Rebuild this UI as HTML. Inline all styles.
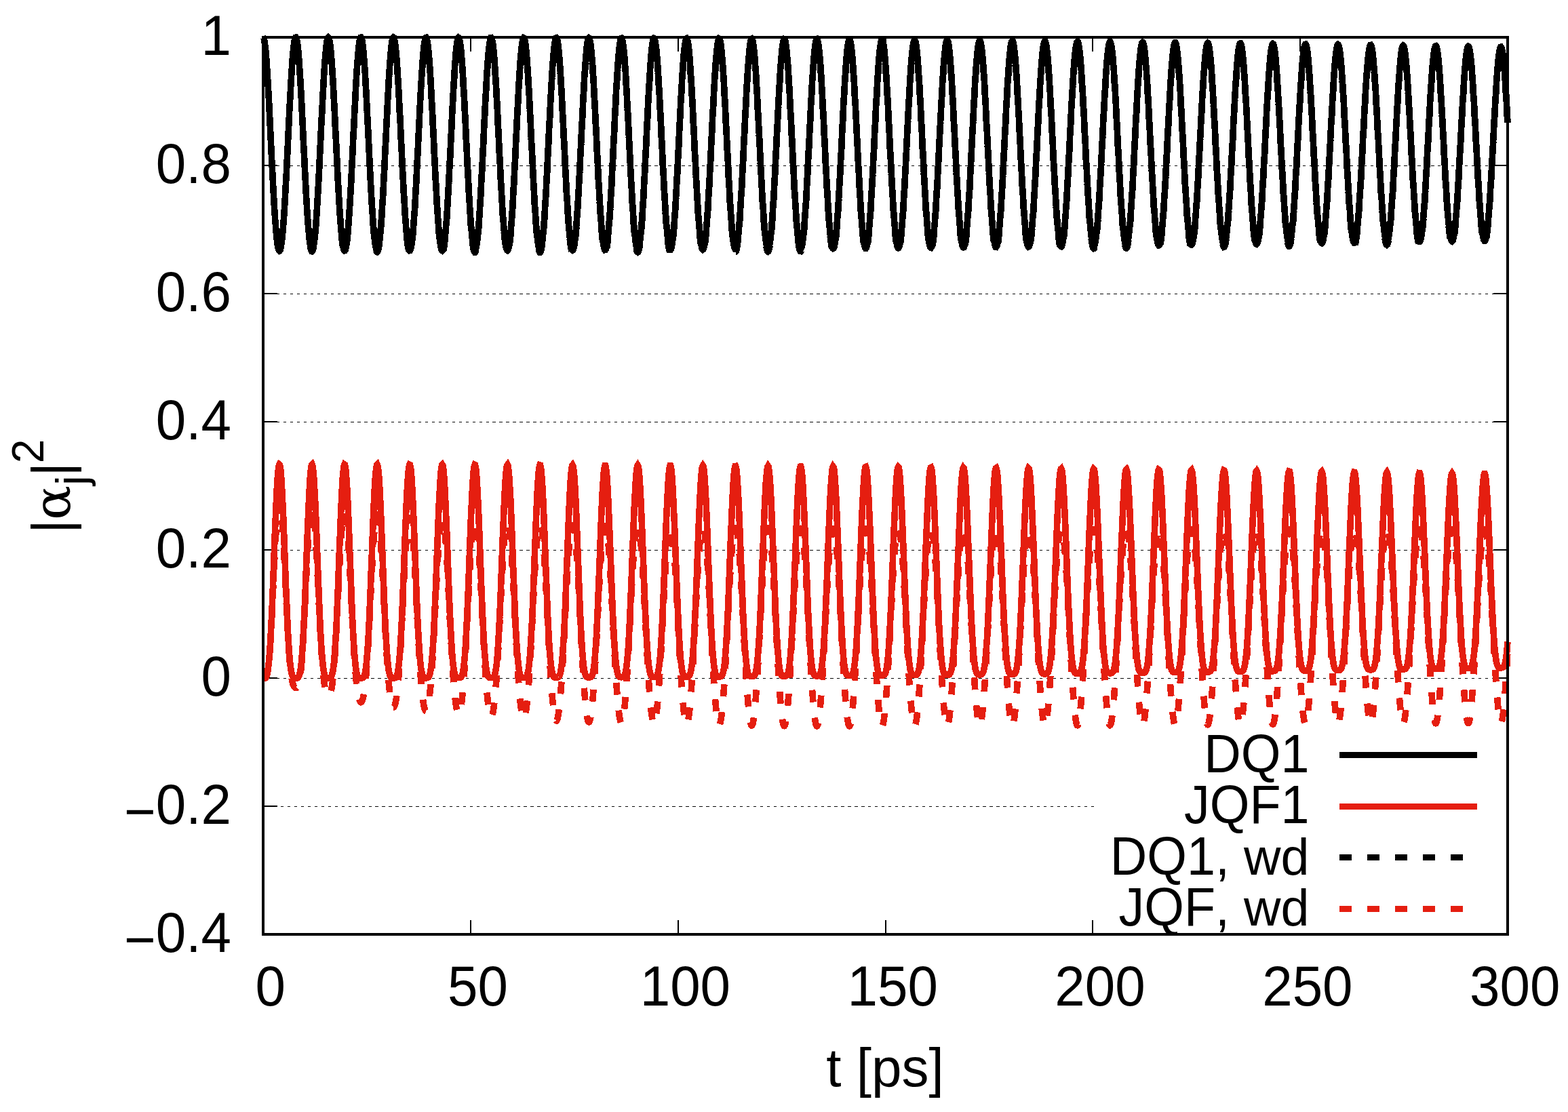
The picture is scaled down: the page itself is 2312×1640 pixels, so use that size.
<!DOCTYPE html>
<html lang="en"><head><meta charset="utf-8"><title>Population dynamics</title>
<style>
html,body{margin:0;padding:0;background:#fff;}
body{width:2312px;height:1640px;overflow:hidden;}
svg{display:block;}
text{font-family:"Liberation Sans",sans-serif;fill:#000;font-kerning:none;}
</style></head><body>
<svg width="2312" height="1640" viewBox="0 0 2312 1640">
<rect x="0" y="0" width="2312" height="1640" fill="#fff"/>
<defs><clipPath id="plot"><rect x="383.2" y="47" width="1844.6" height="1331"/></clipPath></defs>
<g stroke="#000" stroke-width="1" stroke-dasharray="4.3 5.655" shape-rendering="crispEdges">
<line x1="388" y1="244.5" x2="2223" y2="244.5"/>
<line x1="388" y1="433.5" x2="2223" y2="433.5"/>
<line x1="388" y1="622.5" x2="2223" y2="622.5"/>
<line x1="388" y1="811.5" x2="2223" y2="811.5"/>
<line x1="388" y1="1000.5" x2="2223" y2="1000.5"/>
<line x1="1613" y1="1189.5" x2="388" y2="1189.5"/>
</g>
<g stroke="#000" stroke-width="2" shape-rendering="crispEdges">
<line x1="388" y1="55" x2="409" y2="55"/>
<line x1="2202" y1="55" x2="2223" y2="55"/>
<line x1="388" y1="244" x2="409" y2="244"/>
<line x1="2202" y1="244" x2="2223" y2="244"/>
<line x1="388" y1="433" x2="409" y2="433"/>
<line x1="2202" y1="433" x2="2223" y2="433"/>
<line x1="388" y1="622" x2="409" y2="622"/>
<line x1="2202" y1="622" x2="2223" y2="622"/>
<line x1="388" y1="811" x2="409" y2="811"/>
<line x1="2202" y1="811" x2="2223" y2="811"/>
<line x1="388" y1="1000" x2="409" y2="1000"/>
<line x1="2202" y1="1000" x2="2223" y2="1000"/>
<line x1="388" y1="1189" x2="409" y2="1189"/>
<line x1="388" y1="1378" x2="409" y2="1378"/>
<line x1="2202" y1="1378" x2="2223" y2="1378"/>
<line x1="388" y1="1378" x2="388" y2="1357"/>
<line x1="388" y1="55" x2="388" y2="76"/>
<line x1="694" y1="1378" x2="694" y2="1357"/>
<line x1="694" y1="55" x2="694" y2="76"/>
<line x1="1000" y1="1378" x2="1000" y2="1357"/>
<line x1="1000" y1="55" x2="1000" y2="76"/>
<line x1="1306" y1="1378" x2="1306" y2="1357"/>
<line x1="1306" y1="55" x2="1306" y2="76"/>
<line x1="1611" y1="1378" x2="1611" y2="1357"/>
<line x1="1611" y1="55" x2="1611" y2="76"/>
<line x1="1917" y1="55" x2="1917" y2="76"/>
<line x1="2223" y1="1378" x2="2223" y2="1357"/>
<line x1="2223" y1="55" x2="2223" y2="76"/>
</g>
<g fill="none" stroke-width="9.6" stroke-linejoin="miter" stroke-miterlimit="10" stroke-linecap="butt" shape-rendering="crispEdges" clip-path="url(#plot)">
<polyline stroke="#000" points="388.0,55.0 388.6,55.6 389.2,57.2 389.8,60.0 390.4,63.8 391.1,68.6 391.7,74.5 392.3,81.3 392.9,89.0 393.5,97.6 394.1,106.9 394.7,116.9 395.3,127.5 396.0,138.7 396.6,150.4 397.2,162.4 397.8,174.7 398.4,187.2 399.0,199.8 399.6,212.5 400.2,225.1 400.8,237.6 401.5,249.9 402.1,261.8 402.7,273.5 403.3,284.7 403.9,295.4 404.5,305.6 405.1,315.2 405.7,324.1 406.4,332.3 407.0,339.8 407.6,346.6 408.2,352.5 408.8,357.6 409.4,361.8 410.0,365.2 410.6,367.7 411.2,369.3 411.9,370.0 412.5,369.7 413.1,368.6 413.7,366.6 414.3,363.7 414.9,359.9 415.5,355.2 416.1,349.7 416.7,343.4 417.4,336.3 418.0,328.5 418.6,319.9 419.2,310.6 419.8,300.8 420.4,290.3 421.0,279.4 421.6,267.9 422.3,256.1 422.9,244.0 423.5,231.6 424.1,219.1 424.7,206.4 425.3,193.8 425.9,181.2 426.5,168.8 427.1,156.6 427.8,144.7 428.4,133.3 429.0,122.4 429.6,112.0 430.2,102.3 430.8,93.4 431.4,85.2 432.0,77.9 432.7,71.6 433.3,66.2 433.9,61.8 434.5,58.5 435.1,56.3 435.7,55.2 436.3,55.1 436.9,56.2 437.5,58.4 438.2,61.7 438.8,66.0 439.4,71.3 440.0,77.7 440.6,84.9 441.2,93.0 441.8,102.0 442.4,111.6 443.1,121.9 443.7,132.9 444.3,144.3 444.9,156.1 445.5,168.3 446.1,180.7 446.7,193.3 447.3,205.9 447.9,218.6 448.6,231.1 449.2,243.5 449.8,255.6 450.4,267.5 451.0,278.9 451.6,289.9 452.2,300.4 452.8,310.2 453.4,319.5 454.1,328.1 454.7,336.0 455.3,343.1 455.9,349.5 456.5,355.0 457.1,359.7 457.7,363.5 458.3,366.5 459.0,368.5 459.6,369.7 460.2,369.9 460.8,369.3 461.4,367.7 462.0,365.3 462.6,361.9 463.2,357.7 463.8,352.7 464.5,346.8 465.1,340.1 465.7,332.6 466.3,324.4 466.9,315.5 467.5,306.0 468.1,295.8 468.7,285.1 469.4,273.9 470.0,262.3 470.6,250.3 471.2,238.1 471.8,225.6 472.4,213.0 473.0,200.3 473.6,187.7 474.2,175.2 474.9,162.9 475.5,150.9 476.1,139.2 476.7,128.0 477.3,117.3 477.9,107.3 478.5,98.0 479.1,89.4 479.8,81.6 480.4,74.8 481.0,68.9 481.6,64.0 482.2,60.1 482.8,57.3 483.4,55.6 484.0,55.0 484.6,55.6 485.3,57.2 485.9,59.9 486.5,63.7 487.1,68.5 487.7,74.3 488.3,81.1 488.9,88.7 489.5,97.2 490.1,106.5 490.8,116.5 491.4,127.1 492.0,138.3 492.6,149.9 493.2,161.9 493.8,174.2 494.4,186.7 495.0,199.3 495.7,212.0 496.3,224.6 496.9,237.1 497.5,249.4 498.1,261.4 498.7,273.0 499.3,284.2 499.9,295.0 500.5,305.2 501.2,314.8 501.8,323.7 502.4,332.0 503.0,339.5 503.6,346.2 504.2,352.2 504.8,357.3 505.4,361.6 506.1,365.0 506.7,367.5 507.3,369.2 507.9,369.9 508.5,369.7 509.1,368.6 509.7,366.6 510.3,363.7 510.9,360.0 511.6,355.4 512.2,349.9 512.8,343.6 513.4,336.6 514.0,328.7 514.6,320.2 515.2,311.0 515.8,301.1 516.5,290.7 517.1,279.8 517.7,268.4 518.3,256.6 518.9,244.5 519.5,232.1 520.1,219.6 520.7,206.9 521.3,194.3 522.0,181.7 522.6,169.3 523.2,157.1 523.8,145.2 524.4,133.8 525.0,122.8 525.6,112.5 526.2,102.8 526.8,93.8 527.5,85.6 528.1,78.3 528.7,71.9 529.3,66.5 529.9,62.1 530.5,58.7 531.1,56.4 531.7,55.3 532.4,55.2 533.0,56.2 533.6,58.4 534.2,61.6 534.8,65.9 535.4,71.2 536.0,77.5 536.6,84.7 537.2,92.8 537.9,101.6 538.5,111.3 539.1,121.6 539.7,132.4 540.3,143.8 540.9,155.6 541.5,167.8 542.1,180.2 542.8,192.8 543.4,205.4 544.0,218.0 544.6,230.6 545.2,243.0 545.8,255.1 546.4,267.0 547.0,278.4 547.6,289.4 548.3,299.9 548.9,309.8 549.5,319.1 550.1,327.7 550.7,335.6 551.3,342.8 551.9,349.1 552.5,354.7 553.1,359.4 553.8,363.3 554.4,366.3 555.0,368.4 555.6,369.6 556.2,369.8 556.8,369.2 557.4,367.7 558.0,365.3 558.7,362.0 559.3,357.8 559.9,352.8 560.5,346.9 561.1,340.3 561.7,332.8 562.3,324.7 562.9,315.8 563.5,306.3 564.2,296.2 564.8,285.5 565.4,274.3 566.0,262.7 566.6,250.8 567.2,238.5 567.8,226.1 568.4,213.5 569.1,200.9 569.7,188.2 570.3,175.7 570.9,163.4 571.5,151.4 572.1,139.7 572.7,128.5 573.3,117.8 573.9,107.8 574.6,98.4 575.2,89.8 575.8,82.0 576.4,75.2 577.0,69.2 577.6,64.3 578.2,60.4 578.8,57.6 579.5,55.8 580.1,55.2 580.7,55.6 581.3,57.2 581.9,59.9 582.5,63.6 583.1,68.4 583.7,74.1 584.3,80.9 585.0,88.5 585.6,97.0 586.2,106.2 586.8,116.2 587.4,126.8 588.0,137.9 588.6,149.5 589.2,161.5 589.9,173.7 590.5,186.2 591.1,198.8 591.7,211.5 592.3,224.1 592.9,236.6 593.5,248.8 594.1,260.8 594.7,272.5 595.4,283.7 596.0,294.5 596.6,304.7 597.2,314.3 597.8,323.2 598.4,331.5 599.0,339.1 599.6,345.9 600.2,351.8 600.9,357.0 601.5,361.3 602.1,364.7 602.7,367.3 603.3,369.0 603.9,369.7 604.5,369.6 605.1,368.5 605.8,366.6 606.4,363.7 607.0,360.0 607.6,355.4 608.2,350.0 608.8,343.8 609.4,336.7 610.0,328.9 610.6,320.4 611.3,311.3 611.9,301.4 612.5,291.1 613.1,280.1 613.7,268.8 614.3,257.0 614.9,244.9 615.5,232.6 616.2,220.1 616.8,207.4 617.4,194.8 618.0,182.2 618.6,169.8 619.2,157.6 619.8,145.8 620.4,134.3 621.0,123.3 621.7,113.0 622.3,103.2 622.9,94.2 623.5,86.0 624.1,78.7 624.7,72.3 625.3,66.8 625.9,62.4 626.5,59.0 627.2,56.7 627.8,55.5 628.4,55.3 629.0,56.3 629.6,58.4 630.2,61.6 630.8,65.9 631.4,71.1 632.1,77.3 632.7,84.5 633.3,92.5 633.9,101.4 634.5,111.0 635.1,121.2 635.7,132.1 636.3,143.4 636.9,155.2 637.6,167.3 638.2,179.7 638.8,192.3 639.4,204.9 640.0,217.5 640.6,230.1 641.2,242.5 641.8,254.6 642.5,266.4 643.1,277.9 643.7,288.9 644.3,299.4 644.9,309.3 645.5,318.6 646.1,327.2 646.7,335.2 647.3,342.3 648.0,348.7 648.6,354.3 649.2,359.1 649.8,363.0 650.4,366.0 651.0,368.1 651.6,369.3 652.2,369.7 652.9,369.1 653.5,367.6 654.1,365.2 654.7,361.9 655.3,357.8 655.9,352.8 656.5,347.0 657.1,340.4 657.7,333.0 658.4,324.9 659.0,316.0 659.6,306.5 660.2,296.5 660.8,285.8 661.4,274.7 662.0,263.1 662.6,251.2 663.2,239.0 663.9,226.6 664.5,214.0 665.1,201.4 665.7,188.8 666.3,176.3 666.9,163.9 667.5,151.9 668.1,140.2 668.8,129.0 669.4,118.4 670.0,108.3 670.6,98.9 671.2,90.3 671.8,82.5 672.4,75.6 673.0,69.6 673.6,64.7 674.3,60.7 674.9,57.8 675.5,56.1 676.1,55.4 676.7,55.8 677.3,57.3 677.9,59.9 678.5,63.6 679.2,68.4 679.8,74.1 680.4,80.8 681.0,88.3 681.6,96.8 682.2,106.0 682.8,115.9 683.4,126.4 684.0,137.5 684.7,149.1 685.3,161.0 685.9,173.3 686.5,185.7 687.1,198.3 687.7,211.0 688.3,223.6 688.9,236.0 689.6,248.3 690.2,260.3 690.8,271.9 691.4,283.2 692.0,293.9 692.6,304.1 693.2,313.8 693.8,322.7 694.4,331.0 695.1,338.6 695.7,345.4 696.3,351.4 696.9,356.6 697.5,360.9 698.1,364.4 698.7,367.0 699.3,368.7 700.0,369.5 700.6,369.4 701.2,368.3 701.8,366.4 702.4,363.6 703.0,359.9 703.6,355.4 704.2,350.0 704.8,343.8 705.5,336.8 706.1,329.1 706.7,320.6 707.3,311.5 707.9,301.7 708.5,291.4 709.1,280.5 709.7,269.1 710.3,257.4 711.0,245.4 711.6,233.0 712.2,220.5 712.8,207.9 713.4,195.3 714.0,182.8 714.6,170.3 715.2,158.2 715.9,146.3 716.5,134.9 717.1,123.9 717.7,113.5 718.3,103.8 718.9,94.8 719.5,86.5 720.1,79.2 720.7,72.7 721.4,67.2 722.0,62.8 722.6,59.3 723.2,57.0 723.8,55.7 724.4,55.6 725.0,56.5 725.6,58.6 726.3,61.7 726.9,65.9 727.5,71.1 728.1,77.3 728.7,84.4 729.3,92.4 729.9,101.2 730.5,110.7 731.1,121.0 731.8,131.8 732.4,143.1 733.0,154.8 733.6,166.9 734.2,179.3 734.8,191.8 735.4,204.4 736.0,217.0 736.6,229.5 737.3,241.9 737.9,254.0 738.5,265.9 739.1,277.3 739.7,288.3 740.3,298.8 740.9,308.7 741.5,318.0 742.2,326.7 742.8,334.6 743.4,341.8 744.0,348.3 744.6,353.9 745.2,358.6 745.8,362.5 746.4,365.6 747.0,367.7 747.7,369.0 748.3,369.4 748.9,368.8 749.5,367.4 750.1,365.0 750.7,361.8 751.3,357.7 751.9,352.8 752.6,347.0 753.2,340.4 753.8,333.1 754.4,325.0 755.0,316.2 755.6,306.8 756.2,296.7 756.8,286.1 757.4,275.0 758.1,263.5 758.7,251.6 759.3,239.4 759.9,227.0 760.5,214.5 761.1,201.9 761.7,189.3 762.3,176.8 763.0,164.5 763.6,152.5 764.2,140.8 764.8,129.6 765.4,118.9 766.0,108.9 766.6,99.5 767.2,90.8 767.8,83.0 768.5,76.1 769.1,70.1 769.7,65.1 770.3,61.1 770.9,58.2 771.5,56.4 772.1,55.7 772.7,56.0 773.4,57.5 774.0,60.1 774.6,63.7 775.2,68.4 775.8,74.1 776.4,80.7 777.0,88.3 777.6,96.6 778.2,105.8 778.9,115.7 779.5,126.2 780.1,137.2 780.7,148.7 781.3,160.6 781.9,172.9 782.5,185.3 783.1,197.8 783.7,210.5 784.4,223.0 785.0,235.5 785.6,247.7 786.2,259.7 786.8,271.3 787.4,282.6 788.0,293.3 788.6,303.5 789.3,313.2 789.9,322.2 790.5,330.5 791.1,338.0 791.7,344.9 792.3,350.9 792.9,356.1 793.5,360.5 794.1,364.0 794.8,366.6 795.4,368.3 796.0,369.1 796.6,369.0 797.2,368.1 797.8,366.2 798.4,363.4 799.0,359.8 799.7,355.3 800.3,350.0 800.9,343.8 801.5,336.8 802.1,329.1 802.7,320.7 803.3,311.6 803.9,301.9 804.5,291.6 805.2,280.8 805.8,269.5 806.4,257.8 807.0,245.8 807.6,233.5 808.2,221.0 808.8,208.4 809.4,195.8 810.0,183.3 810.7,170.9 811.3,158.8 811.9,146.9 812.5,135.5 813.1,124.5 813.7,114.1 814.3,104.4 814.9,95.3 815.6,87.1 816.2,79.7 816.8,73.2 817.4,67.7 818.0,63.2 818.6,59.8 819.2,57.4 819.8,56.1 820.4,55.9 821.1,56.8 821.7,58.8 822.3,61.9 822.9,66.0 823.5,71.2 824.1,77.3 824.7,84.4 825.3,92.3 826.0,101.1 826.6,110.6 827.2,120.7 827.8,131.5 828.4,142.8 829.0,154.5 829.6,166.5 830.2,178.8 830.8,191.3 831.5,203.9 832.1,216.5 832.7,229.0 833.3,241.3 833.9,253.5 834.5,265.3 835.1,276.7 835.7,287.7 836.4,298.2 837.0,308.1 837.6,317.4 838.2,326.1 838.8,334.0 839.4,341.3 840.0,347.7 840.6,353.3 841.2,358.1 841.9,362.1 842.5,365.1 843.1,367.3 843.7,368.6 844.3,369.0 844.9,368.5 845.5,367.1 846.1,364.8 846.8,361.6 847.4,357.6 848.0,352.7 848.6,346.9 849.2,340.4 849.8,333.1 850.4,325.0 851.0,316.3 851.6,306.9 852.3,296.9 852.9,286.4 853.5,275.3 854.1,263.8 854.7,252.0 855.3,239.8 855.9,227.5 856.5,215.0 857.1,202.4 857.8,189.8 858.4,177.4 859.0,165.1 859.6,153.1 860.2,141.4 860.8,130.2 861.4,119.6 862.0,109.5 862.7,100.1 863.3,91.4 863.9,83.6 864.5,76.7 865.1,70.6 865.7,65.6 866.3,61.6 866.9,58.7 867.5,56.8 868.2,56.0 868.8,56.4 869.4,57.8 870.0,60.3 870.6,63.9 871.2,68.5 871.8,74.2 872.4,80.7 873.1,88.2 873.7,96.6 874.3,105.7 874.9,115.5 875.5,125.9 876.1,136.9 876.7,148.4 877.3,160.3 877.9,172.4 878.6,184.8 879.2,197.4 879.8,209.9 880.4,222.5 881.0,234.9 881.6,247.1 882.2,259.1 882.8,270.7 883.5,281.9 884.1,292.7 884.7,302.9 885.3,312.5 885.9,321.5 886.5,329.8 887.1,337.4 887.7,344.3 888.3,350.3 889.0,355.5 889.6,359.9 890.2,363.4 890.8,366.1 891.4,367.8 892.0,368.7 892.6,368.6 893.2,367.7 893.8,365.9 894.5,363.2 895.1,359.6 895.7,355.1 896.3,349.8 896.9,343.7 897.5,336.8 898.1,329.1 898.7,320.8 899.4,311.7 900.0,302.1 900.6,291.8 901.2,281.0 901.8,269.8 902.4,258.1 903.0,246.1 903.6,233.9 904.2,221.5 904.9,208.9 905.5,196.4 906.1,183.9 906.7,171.5 907.3,159.4 907.9,147.5 908.5,136.1 909.1,125.2 909.8,114.8 910.4,105.0 911.0,96.0 911.6,87.7 912.2,80.3 912.8,73.8 913.4,68.3 914.0,63.8 914.6,60.3 915.3,57.9 915.9,56.5 916.5,56.3 917.1,57.1 917.7,59.1 918.3,62.1 918.9,66.2 919.5,71.3 920.1,77.4 920.8,84.4 921.4,92.3 922.0,101.0 922.6,110.4 923.2,120.5 923.8,131.3 924.4,142.5 925.0,154.1 925.7,166.1 926.3,178.4 926.9,190.9 927.5,203.4 928.1,216.0 928.7,228.4 929.3,240.8 929.9,252.8 930.5,264.6 931.2,276.1 931.8,287.0 932.4,297.5 933.0,307.4 933.6,316.8 934.2,325.4 934.8,333.4 935.4,340.6 936.1,347.0 936.7,352.7 937.3,357.5 937.9,361.5 938.5,364.6 939.1,366.8 939.7,368.1 940.3,368.5 940.9,368.1 941.6,366.7 942.2,364.4 942.8,361.3 943.4,357.3 944.0,352.4 944.6,346.8 945.2,340.3 945.8,333.0 946.5,325.0 947.1,316.4 947.7,307.0 948.3,297.1 948.9,286.6 949.5,275.6 950.1,264.1 950.7,252.3 951.3,240.2 952.0,227.9 952.6,215.4 953.2,202.9 953.8,190.4 954.4,177.9 955.0,165.7 955.6,153.7 956.2,142.1 956.9,130.9 957.5,120.2 958.1,110.1 958.7,100.7 959.3,92.1 959.9,84.3 960.5,77.3 961.1,71.3 961.7,66.2 962.4,62.2 963.0,59.2 963.6,57.3 964.2,56.5 964.8,56.8 965.4,58.2 966.0,60.6 966.6,64.2 967.2,68.7 967.9,74.3 968.5,80.8 969.1,88.3 969.7,96.5 970.3,105.6 970.9,115.3 971.5,125.7 972.1,136.7 972.8,148.1 973.4,159.9 974.0,172.1 974.6,184.4 975.2,196.9 975.8,209.4 976.4,221.9 977.0,234.3 977.6,246.5 978.3,258.5 978.9,270.1 979.5,281.3 980.1,292.0 980.7,302.2 981.3,311.8 981.9,320.8 982.5,329.1 983.2,336.7 983.8,343.6 984.4,349.6 985.0,354.9 985.6,359.3 986.2,362.8 986.8,365.5 987.4,367.3 988.0,368.2 988.7,368.2 989.3,367.3 989.9,365.5 990.5,362.8 991.1,359.2 991.7,354.8 992.3,349.6 992.9,343.5 993.5,336.7 994.2,329.1 994.8,320.8 995.4,311.8 996.0,302.1 996.6,291.9 997.2,281.2 997.8,270.0 998.4,258.4 999.1,246.5 999.7,234.3 1000.3,221.9 1000.9,209.4 1001.5,196.9 1002.1,184.4 1002.7,172.1 1003.3,160.0 1003.9,148.2 1004.6,136.8 1005.2,125.8 1005.8,115.5 1006.4,105.7 1007.0,96.7 1007.6,88.4 1008.2,81.0 1008.8,74.5 1009.5,68.9 1010.1,64.4 1010.7,60.9 1011.3,58.4 1011.9,57.0 1012.5,56.7 1013.1,57.6 1013.7,59.5 1014.3,62.4 1015.0,66.5 1015.6,71.5 1016.2,77.5 1016.8,84.5 1017.4,92.3 1018.0,101.0 1018.6,110.4 1019.2,120.4 1019.9,131.1 1020.5,142.2 1021.1,153.8 1021.7,165.8 1022.3,178.0 1022.9,190.4 1023.5,202.9 1024.1,215.4 1024.7,227.9 1025.4,240.1 1026.0,252.2 1026.6,264.0 1027.2,275.4 1027.8,286.3 1028.4,296.8 1029.0,306.7 1029.6,316.0 1030.2,324.7 1030.9,332.7 1031.5,339.9 1032.1,346.3 1032.7,352.0 1033.3,356.8 1033.9,360.8 1034.5,363.9 1035.1,366.2 1035.8,367.5 1036.4,368.0 1037.0,367.6 1037.6,366.2 1038.2,364.0 1038.8,360.9 1039.4,357.0 1040.0,352.2 1040.6,346.5 1041.3,340.1 1041.9,332.9 1042.5,325.0 1043.1,316.3 1043.7,307.0 1044.3,297.2 1044.9,286.7 1045.5,275.8 1046.2,264.4 1046.8,252.7 1047.4,240.6 1048.0,228.3 1048.6,215.9 1049.2,203.4 1049.8,190.9 1050.4,178.5 1051.0,166.3 1051.7,154.4 1052.3,142.8 1052.9,131.6 1053.5,120.9 1054.1,110.9 1054.7,101.5 1055.3,92.8 1055.9,85.0 1056.6,78.0 1057.2,72.0 1057.8,66.9 1058.4,62.8 1059.0,59.8 1059.6,57.9 1060.2,57.0 1060.8,57.3 1061.4,58.6 1062.1,61.0 1062.7,64.5 1063.3,69.0 1063.9,74.5 1064.5,81.0 1065.1,88.4 1065.7,96.6 1066.3,105.6 1067.0,115.3 1067.6,125.6 1068.2,136.5 1068.8,147.9 1069.4,159.6 1070.0,171.7 1070.6,184.0 1071.2,196.4 1071.8,208.9 1072.5,221.4 1073.1,233.7 1073.7,245.9 1074.3,257.8 1074.9,269.4 1075.5,280.6 1076.1,291.3 1076.7,301.5 1077.3,311.1 1078.0,320.1 1078.6,328.4 1079.2,336.0 1079.8,342.8 1080.4,348.9 1081.0,354.1 1081.6,358.6 1082.2,362.1 1082.9,364.8 1083.5,366.6 1084.1,367.6 1084.7,367.6 1085.3,366.7 1085.9,365.0 1086.5,362.3 1087.1,358.8 1087.7,354.5 1088.4,349.3 1089.0,343.3 1089.6,336.5 1090.2,328.9 1090.8,320.7 1091.4,311.8 1092.0,302.2 1092.6,292.0 1093.3,281.4 1093.9,270.2 1094.5,258.7 1095.1,246.8 1095.7,234.7 1096.3,222.4 1096.9,209.9 1097.5,197.4 1098.1,185.0 1098.8,172.7 1099.4,160.6 1100.0,148.9 1100.6,137.5 1101.2,126.6 1101.8,116.2 1102.4,106.5 1103.0,97.4 1103.7,89.2 1104.3,81.8 1104.9,75.2 1105.5,69.7 1106.1,65.1 1106.7,61.5 1107.3,59.0 1107.9,57.6 1108.5,57.3 1109.2,58.1 1109.8,59.9 1110.4,62.9 1111.0,66.8 1111.6,71.8 1112.2,77.8 1112.8,84.7 1113.4,92.4 1114.0,101.0 1114.7,110.3 1115.3,120.3 1115.9,130.9 1116.5,142.0 1117.1,153.6 1117.7,165.5 1118.3,177.6 1118.9,190.0 1119.6,202.4 1120.2,214.9 1120.8,227.3 1121.4,239.5 1122.0,251.6 1122.6,263.3 1123.2,274.7 1123.8,285.6 1124.4,296.0 1125.1,305.9 1125.7,315.2 1126.3,323.9 1126.9,331.9 1127.5,339.1 1128.1,345.5 1128.7,351.2 1129.3,356.1 1130.0,360.1 1130.6,363.2 1131.2,365.5 1131.8,366.9 1132.4,367.4 1133.0,367.0 1133.6,365.7 1134.2,363.5 1134.8,360.5 1135.5,356.5 1136.1,351.8 1136.7,346.2 1137.3,339.8 1137.9,332.7 1138.5,324.8 1139.1,316.3 1139.7,307.0 1140.3,297.2 1141.0,286.8 1141.6,275.9 1142.2,264.6 1142.8,252.9 1143.4,241.0 1144.0,228.7 1144.6,216.4 1145.2,203.9 1145.9,191.5 1146.5,179.1 1147.1,167.0 1147.7,155.0 1148.3,143.5 1148.9,132.3 1149.5,121.7 1150.1,111.6 1150.7,102.3 1151.4,93.6 1152.0,85.8 1152.6,78.8 1153.2,72.7 1153.8,67.6 1154.4,63.6 1155.0,60.5 1155.6,58.5 1156.3,57.6 1156.9,57.8 1157.5,59.1 1158.1,61.5 1158.7,64.9 1159.3,69.4 1159.9,74.8 1160.5,81.2 1161.1,88.5 1161.8,96.7 1162.4,105.6 1163.0,115.2 1163.6,125.5 1164.2,136.3 1164.8,147.6 1165.4,159.3 1166.0,171.4 1166.7,183.6 1167.3,196.0 1167.9,208.4 1168.5,220.8 1169.1,233.1 1169.7,245.3 1170.3,257.1 1170.9,268.7 1171.5,279.8 1172.2,290.5 1172.8,300.7 1173.4,310.3 1174.0,319.2 1174.6,327.5 1175.2,335.1 1175.8,342.0 1176.4,348.1 1177.0,353.3 1177.7,357.8 1178.3,361.3 1178.9,364.1 1179.5,365.9 1180.1,366.9 1180.7,366.9 1181.3,366.1 1181.9,364.4 1182.6,361.8 1183.2,358.4 1183.8,354.0 1184.4,348.9 1185.0,343.0 1185.6,336.2 1186.2,328.7 1186.8,320.5 1187.4,311.7 1188.1,302.2 1188.7,292.1 1189.3,281.5 1189.9,270.4 1190.5,258.9 1191.1,247.1 1191.7,235.1 1192.3,222.8 1193.0,210.4 1193.6,198.0 1194.2,185.6 1194.8,173.3 1195.4,161.3 1196.0,149.6 1196.6,138.2 1197.2,127.3 1197.8,117.0 1198.5,107.3 1199.1,98.2 1199.7,90.0 1200.3,82.6 1200.9,76.0 1201.5,70.5 1202.1,65.9 1202.7,62.3 1203.4,59.8 1204.0,58.3 1204.6,57.9 1205.2,58.7 1205.8,60.5 1206.4,63.3 1207.0,67.3 1207.6,72.2 1208.2,78.1 1208.9,84.9 1209.5,92.6 1210.1,101.1 1210.7,110.4 1211.3,120.3 1211.9,130.8 1212.5,141.9 1213.1,153.3 1213.8,165.2 1214.4,177.3 1215.0,189.6 1215.6,201.9 1216.2,214.4 1216.8,226.7 1217.4,238.9 1218.0,250.9 1218.6,262.6 1219.3,273.9 1219.9,284.8 1220.5,295.2 1221.1,305.1 1221.7,314.4 1222.3,323.0 1222.9,331.0 1223.5,338.2 1224.1,344.7 1224.8,350.4 1225.4,355.2 1226.0,359.2 1226.6,362.4 1227.2,364.7 1227.8,366.1 1228.4,366.6 1229.0,366.3 1229.7,365.0 1230.3,362.9 1230.9,359.9 1231.5,356.0 1232.1,351.3 1232.7,345.8 1233.3,339.5 1233.9,332.4 1234.5,324.6 1235.2,316.1 1235.8,307.0 1236.4,297.2 1237.0,286.9 1237.6,276.1 1238.2,264.8 1238.8,253.2 1239.4,241.3 1240.1,229.1 1240.7,216.8 1241.3,204.4 1241.9,192.0 1242.5,179.7 1243.1,167.6 1243.7,155.7 1244.3,144.2 1244.9,133.1 1245.6,122.5 1246.2,112.5 1246.8,103.1 1247.4,94.5 1248.0,86.6 1248.6,79.6 1249.2,73.6 1249.8,68.4 1250.5,64.3 1251.1,61.3 1251.7,59.3 1252.3,58.3 1252.9,58.5 1253.5,59.7 1254.1,62.1 1254.7,65.4 1255.3,69.8 1256.0,75.2 1256.6,81.5 1257.2,88.8 1257.8,96.9 1258.4,105.7 1259.0,115.3 1259.6,125.5 1260.2,136.2 1260.8,147.5 1261.5,159.1 1262.1,171.0 1262.7,183.2 1263.3,195.5 1263.9,207.9 1264.5,220.3 1265.1,232.5 1265.7,244.6 1266.4,256.4 1267.0,267.9 1267.6,279.0 1268.2,289.7 1268.8,299.8 1269.4,309.4 1270.0,318.4 1270.6,326.7 1271.2,334.2 1271.9,341.1 1272.5,347.2 1273.1,352.4 1273.7,356.9 1274.3,360.5 1274.9,363.2 1275.5,365.1 1276.1,366.1 1276.8,366.2 1277.4,365.4 1278.0,363.7 1278.6,361.2 1279.2,357.8 1279.8,353.5 1280.4,348.5 1281.0,342.6 1281.6,335.9 1282.3,328.5 1282.9,320.3 1283.5,311.5 1284.1,302.1 1284.7,292.1 1285.3,281.6 1285.9,270.6 1286.5,259.2 1287.2,247.4 1287.8,235.4 1288.4,223.2 1289.0,210.9 1289.6,198.5 1290.2,186.2 1290.8,174.0 1291.4,162.0 1292.0,150.3 1292.7,139.0 1293.3,128.1 1293.9,117.8 1294.5,108.1 1295.1,99.1 1295.7,90.9 1296.3,83.5 1296.9,76.9 1297.5,71.3 1298.2,66.7 1298.8,63.1 1299.4,60.5 1300.0,59.1 1300.6,58.7 1301.2,59.3 1301.8,61.1 1302.4,63.9 1303.1,67.8 1303.7,72.6 1304.3,78.5 1304.9,85.2 1305.5,92.8 1306.1,101.3 1306.7,110.5 1307.3,120.3 1307.9,130.8 1308.6,141.7 1309.2,153.1 1309.8,164.9 1310.4,176.9 1311.0,189.1 1311.6,201.5 1312.2,213.8 1312.8,226.1 1313.5,238.3 1314.1,250.2 1314.7,261.8 1315.3,273.1 1315.9,284.0 1316.5,294.4 1317.1,304.3 1317.7,313.5 1318.3,322.1 1319.0,330.1 1319.6,337.3 1320.2,343.8 1320.8,349.4 1321.4,354.3 1322.0,358.3 1322.6,361.5 1323.2,363.8 1323.8,365.3 1324.5,365.8 1325.1,365.5 1325.7,364.3 1326.3,362.2 1326.9,359.3 1327.5,355.5 1328.1,350.8 1328.7,345.4 1329.4,339.1 1330.0,332.1 1330.6,324.4 1331.2,315.9 1331.8,306.8 1332.4,297.1 1333.0,286.9 1333.6,276.2 1334.2,265.0 1334.9,253.4 1335.5,241.6 1336.1,229.5 1336.7,217.3 1337.3,204.9 1337.9,192.6 1338.5,180.4 1339.1,168.3 1339.8,156.5 1340.4,145.0 1341.0,133.9 1341.6,123.3 1342.2,113.3 1342.8,104.0 1343.4,95.3 1344.0,87.5 1344.6,80.5 1345.3,74.5 1345.9,69.3 1346.5,65.2 1347.1,62.1 1347.7,60.1 1348.3,59.1 1348.9,59.2 1349.5,60.4 1350.2,62.7 1350.8,66.0 1351.4,70.3 1352.0,75.6 1352.6,81.9 1353.2,89.1 1353.8,97.1 1354.4,105.9 1355.0,115.3 1355.7,125.5 1356.3,136.1 1356.9,147.3 1357.5,158.9 1358.1,170.7 1358.7,182.8 1359.3,195.1 1359.9,207.4 1360.5,219.7 1361.2,231.9 1361.8,243.9 1362.4,255.7 1363.0,267.2 1363.6,278.2 1364.2,288.8 1364.8,299.0 1365.4,308.5 1366.1,317.4 1366.7,325.7 1367.3,333.3 1367.9,340.1 1368.5,346.2 1369.1,351.5 1369.7,355.9 1370.3,359.6 1370.9,362.3 1371.6,364.2 1372.2,365.2 1372.8,365.4 1373.4,364.6 1374.0,363.0 1374.6,360.5 1375.2,357.1 1375.8,352.9 1376.5,347.9 1377.1,342.1 1377.7,335.5 1378.3,328.1 1378.9,320.1 1379.5,311.3 1380.1,302.0 1380.7,292.1 1381.3,281.6 1382.0,270.7 1382.6,259.3 1383.2,247.7 1383.8,235.7 1384.4,223.6 1385.0,211.3 1385.6,199.0 1386.2,186.8 1386.9,174.6 1387.5,162.7 1388.1,151.1 1388.7,139.8 1389.3,129.0 1389.9,118.7 1390.5,109.0 1391.1,100.0 1391.7,91.8 1392.4,84.4 1393.0,77.9 1393.6,72.2 1394.2,67.6 1394.8,64.0 1395.4,61.4 1396.0,59.9 1396.6,59.4 1397.2,60.1 1397.9,61.8 1398.5,64.5 1399.1,68.3 1399.7,73.1 1400.3,78.9 1400.9,85.6 1401.5,93.1 1402.1,101.5 1402.8,110.6 1403.4,120.4 1404.0,130.7 1404.6,141.6 1405.2,153.0 1405.8,164.6 1406.4,176.6 1407.0,188.7 1407.6,201.0 1408.3,213.3 1408.9,225.5 1409.5,237.6 1410.1,249.5 1410.7,261.1 1411.3,272.3 1411.9,283.2 1412.5,293.5 1413.2,303.3 1413.8,312.6 1414.4,321.2 1415.0,329.1 1415.6,336.3 1416.2,342.8 1416.8,348.4 1417.4,353.3 1418.0,357.3 1418.7,360.5 1419.3,362.9 1419.9,364.4 1420.5,364.9 1421.1,364.7 1421.7,363.5 1422.3,361.5 1422.9,358.6 1423.6,354.8 1424.2,350.2 1424.8,344.8 1425.4,338.6 1426.0,331.7 1426.6,324.0 1427.2,315.7 1427.8,306.6 1428.4,297.0 1429.1,286.9 1429.7,276.2 1430.3,265.1 1430.9,253.6 1431.5,241.9 1432.1,229.9 1432.7,217.7 1433.3,205.4 1434.0,193.2 1434.6,181.0 1435.2,169.0 1435.8,157.2 1436.4,145.8 1437.0,134.7 1437.6,124.2 1438.2,114.2 1438.8,104.9 1439.5,96.3 1440.1,88.5 1440.7,81.5 1441.3,75.4 1441.9,70.3 1442.5,66.2 1443.1,63.0 1443.7,61.0 1444.3,60.0 1445.0,60.0 1445.6,61.2 1446.2,63.4 1446.8,66.6 1447.4,70.9 1448.0,76.2 1448.6,82.4 1449.2,89.4 1449.9,97.4 1450.5,106.1 1451.1,115.5 1451.7,125.5 1452.3,136.1 1452.9,147.2 1453.5,158.7 1454.1,170.5 1454.7,182.5 1455.4,194.7 1456.0,206.9 1456.6,219.1 1457.2,231.3 1457.8,243.2 1458.4,254.9 1459.0,266.4 1459.6,277.4 1460.3,288.0 1460.9,298.0 1461.5,307.5 1462.1,316.5 1462.7,324.7 1463.3,332.3 1463.9,339.1 1464.5,345.2 1465.1,350.4 1465.8,354.9 1466.4,358.5 1467.0,361.3 1467.6,363.2 1468.2,364.3 1468.8,364.4 1469.4,363.7 1470.0,362.2 1470.7,359.7 1471.3,356.4 1471.9,352.3 1472.5,347.3 1473.1,341.5 1473.7,335.0 1474.3,327.7 1474.9,319.7 1475.5,311.1 1476.2,301.8 1476.8,292.0 1477.4,281.6 1478.0,270.7 1478.6,259.5 1479.2,247.9 1479.8,236.0 1480.4,224.0 1481.0,211.8 1481.7,199.6 1482.3,187.4 1482.9,175.3 1483.5,163.4 1484.1,151.8 1484.7,140.6 1485.3,129.8 1485.9,119.6 1486.6,110.0 1487.2,101.0 1487.8,92.8 1488.4,85.4 1489.0,78.9 1489.6,73.2 1490.2,68.6 1490.8,65.0 1491.4,62.4 1492.1,60.8 1492.7,60.3 1493.3,60.9 1493.9,62.5 1494.5,65.2 1495.1,69.0 1495.7,73.7 1496.3,79.4 1497.0,86.0 1497.6,93.5 1498.2,101.8 1498.8,110.8 1499.4,120.5 1500.0,130.8 1500.6,141.6 1501.2,152.8 1501.8,164.4 1502.5,176.3 1503.1,188.4 1503.7,200.5 1504.3,212.8 1504.9,224.9 1505.5,236.9 1506.1,248.8 1506.7,260.3 1507.3,271.5 1508.0,282.3 1508.6,292.6 1509.2,302.4 1509.8,311.6 1510.4,320.1 1511.0,328.1 1511.6,335.2 1512.2,341.7 1512.9,347.4 1513.5,352.2 1514.1,356.3 1514.7,359.5 1515.3,361.9 1515.9,363.4 1516.5,364.0 1517.1,363.7 1517.7,362.6 1518.4,360.6 1519.0,357.8 1519.6,354.1 1520.2,349.5 1520.8,344.2 1521.4,338.1 1522.0,331.2 1522.6,323.6 1523.3,315.3 1523.9,306.4 1524.5,296.9 1525.1,286.8 1525.7,276.2 1526.3,265.2 1526.9,253.8 1527.5,242.1 1528.1,230.2 1528.8,218.1 1529.4,205.9 1530.0,193.7 1530.6,181.6 1531.2,169.7 1531.8,158.0 1532.4,146.6 1533.0,135.6 1533.7,125.1 1534.3,115.2 1534.9,105.9 1535.5,97.3 1536.1,89.5 1536.7,82.5 1537.3,76.5 1537.9,71.3 1538.5,67.2 1539.2,64.0 1539.8,61.9 1540.4,60.9 1541.0,60.9 1541.6,62.0 1542.2,64.2 1542.8,67.4 1543.4,71.6 1544.0,76.7 1544.7,82.9 1545.3,89.9 1545.9,97.7 1546.5,106.3 1547.1,115.6 1547.7,125.6 1548.3,136.1 1548.9,147.1 1549.6,158.5 1550.2,170.2 1550.8,182.2 1551.4,194.2 1552.0,206.4 1552.6,218.6 1553.2,230.6 1553.8,242.5 1554.4,254.2 1555.1,265.5 1555.7,276.5 1556.3,287.0 1556.9,297.1 1557.5,306.5 1558.1,315.4 1558.7,323.6 1559.3,331.2 1560.0,338.0 1560.6,344.1 1561.2,349.3 1561.8,353.8 1562.4,357.4 1563.0,360.2 1563.6,362.2 1564.2,363.2 1564.8,363.5 1565.5,362.8 1566.1,361.2 1566.7,358.9 1567.3,355.6 1567.9,351.5 1568.5,346.6 1569.1,340.9 1569.7,334.5 1570.4,327.3 1571.0,319.4 1571.6,310.8 1572.2,301.6 1572.8,291.8 1573.4,281.5 1574.0,270.8 1574.6,259.6 1575.2,248.1 1575.9,236.3 1576.5,224.3 1577.1,212.2 1577.7,200.1 1578.3,188.0 1578.9,176.0 1579.5,164.2 1580.1,152.6 1580.8,141.5 1581.4,130.8 1582.0,120.6 1582.6,111.0 1583.2,102.0 1583.8,93.8 1584.4,86.4 1585.0,79.9 1585.6,74.3 1586.3,69.7 1586.9,66.0 1587.5,63.4 1588.1,61.8 1588.7,61.3 1589.3,61.8 1589.9,63.4 1590.5,66.0 1591.1,69.7 1591.8,74.4 1592.4,80.0 1593.0,86.5 1593.6,93.9 1594.2,102.1 1594.8,111.0 1595.4,120.6 1596.0,130.8 1596.7,141.6 1597.3,152.7 1597.9,164.2 1598.5,176.0 1599.1,188.0 1599.7,200.1 1600.3,212.2 1600.9,224.3 1601.5,236.3 1602.2,248.0 1602.8,259.5 1603.4,270.6 1604.0,281.4 1604.6,291.6 1605.2,301.4 1605.8,310.5 1606.4,319.1 1607.1,326.9 1607.7,334.1 1608.3,340.6 1608.9,346.2 1609.5,351.1 1610.1,355.2 1610.7,358.4 1611.3,360.8 1611.9,362.3 1612.6,362.9 1613.2,362.7 1613.8,361.6 1614.4,359.7 1615.0,356.9 1615.6,353.3 1616.2,348.8 1616.8,343.5 1617.5,337.5 1618.1,330.7 1618.7,323.2 1619.3,314.9 1619.9,306.1 1620.5,296.7 1621.1,286.7 1621.7,276.2 1622.3,265.2 1623.0,254.0 1623.6,242.3 1624.2,230.5 1624.8,218.5 1625.4,206.4 1626.0,194.3 1626.6,182.3 1627.2,170.4 1627.8,158.8 1628.5,147.4 1629.1,136.5 1629.7,126.1 1630.3,116.2 1630.9,106.9 1631.5,98.4 1632.1,90.6 1632.7,83.6 1633.4,77.6 1634.0,72.4 1634.6,68.2 1635.2,65.1 1635.8,63.0 1636.4,61.9 1637.0,61.9 1637.6,62.9 1638.2,65.0 1638.9,68.1 1639.5,72.3 1640.1,77.4 1640.7,83.4 1641.3,90.4 1641.9,98.1 1642.5,106.6 1643.1,115.9 1643.8,125.7 1644.4,136.2 1645.0,147.1 1645.6,158.4 1646.2,170.0 1646.8,181.8 1647.4,193.8 1648.0,205.9 1648.6,218.0 1649.3,230.0 1649.9,241.8 1650.5,253.4 1651.1,264.7 1651.7,275.6 1652.3,286.1 1652.9,296.1 1653.5,305.5 1654.2,314.3 1654.8,322.5 1655.4,330.0 1656.0,336.8 1656.6,342.9 1657.2,348.2 1657.8,352.6 1658.4,356.3 1659.0,359.1 1659.7,361.0 1660.3,362.1 1660.9,362.4 1661.5,361.7 1662.1,360.3 1662.7,357.9 1663.3,354.7 1663.9,350.7 1664.5,345.9 1665.2,340.2 1665.8,333.9 1666.4,326.7 1667.0,318.9 1667.6,310.4 1668.2,301.3 1668.8,291.6 1669.4,281.4 1670.1,270.7 1670.7,259.7 1671.3,248.3 1671.9,236.6 1672.5,224.7 1673.1,212.7 1673.7,200.6 1674.3,188.6 1674.9,176.7 1675.6,164.9 1676.2,153.5 1676.8,142.4 1677.4,131.7 1678.0,121.5 1678.6,112.0 1679.2,103.1 1679.8,94.9 1680.5,87.6 1681.1,81.0 1681.7,75.4 1682.3,70.8 1682.9,67.1 1683.5,64.5 1684.1,62.8 1684.7,62.3 1685.3,62.8 1686.0,64.3 1686.6,66.9 1687.2,70.5 1687.8,75.1 1688.4,80.6 1689.0,87.1 1689.6,94.4 1690.2,102.5 1690.8,111.3 1691.5,120.8 1692.1,130.9 1692.7,141.6 1693.3,152.6 1693.9,164.1 1694.5,175.8 1695.1,187.7 1695.7,199.7 1696.4,211.7 1697.0,223.7 1697.6,235.6 1698.2,247.3 1698.8,258.7 1699.4,269.7 1700.0,280.4 1700.6,290.6 1701.2,300.3 1701.9,309.4 1702.5,317.9 1703.1,325.8 1703.7,332.9 1704.3,339.4 1704.9,345.0 1705.5,349.9 1706.1,353.9 1706.8,357.2 1707.4,359.6 1708.0,361.1 1708.6,361.8 1709.2,361.6 1709.8,360.6 1710.4,358.7 1711.0,355.9 1711.6,352.4 1712.3,348.0 1712.9,342.8 1713.5,336.8 1714.1,330.1 1714.7,322.6 1715.3,314.5 1715.9,305.7 1716.5,296.4 1717.2,286.5 1717.8,276.1 1718.4,265.3 1719.0,254.1 1719.6,242.6 1720.2,230.8 1720.8,218.9 1721.4,206.9 1722.0,194.9 1722.7,182.9 1723.3,171.1 1723.9,159.6 1724.5,148.3 1725.1,137.4 1725.7,127.0 1726.3,117.2 1726.9,108.0 1727.5,99.5 1728.2,91.7 1728.8,84.8 1729.4,78.7 1730.0,73.6 1730.6,69.4 1731.2,66.2 1731.8,64.1 1732.4,63.0 1733.1,62.9 1733.7,63.9 1734.3,65.9 1734.9,69.0 1735.5,73.1 1736.1,78.1 1736.7,84.1 1737.3,90.9 1737.9,98.6 1738.6,107.0 1739.2,116.2 1739.8,125.9 1740.4,136.3 1741.0,147.1 1741.6,158.3 1742.2,169.8 1742.8,181.5 1743.5,193.5 1744.1,205.4 1744.7,217.4 1745.3,229.3 1745.9,241.1 1746.5,252.6 1747.1,263.8 1747.7,274.7 1748.3,285.1 1749.0,295.0 1749.6,304.4 1750.2,313.2 1750.8,321.4 1751.4,328.8 1752.0,335.6 1752.6,341.7 1753.2,346.9 1753.9,351.4 1754.5,355.0 1755.1,357.9 1755.7,359.8 1756.3,361.0 1756.9,361.2 1757.5,360.6 1758.1,359.2 1758.7,356.9 1759.4,353.8 1760.0,349.8 1760.6,345.0 1761.2,339.5 1761.8,333.2 1762.4,326.1 1763.0,318.4 1763.6,310.0 1764.2,301.0 1764.9,291.4 1765.5,281.3 1766.1,270.7 1766.7,259.7 1767.3,248.4 1767.9,236.8 1768.5,225.0 1769.1,213.1 1769.8,201.1 1770.4,189.2 1771.0,177.3 1771.6,165.7 1772.2,154.3 1772.8,143.3 1773.4,132.7 1774.0,122.6 1774.6,113.1 1775.3,104.2 1775.9,96.1 1776.5,88.7 1777.1,82.2 1777.7,76.6 1778.3,72.0 1778.9,68.3 1779.5,65.6 1780.2,64.0 1780.8,63.4 1781.4,63.8 1782.0,65.3 1782.6,67.8 1783.2,71.4 1783.8,75.9 1784.4,81.3 1785.0,87.7 1785.7,94.9 1786.3,102.9 1786.9,111.7 1787.5,121.1 1788.1,131.1 1788.7,141.6 1789.3,152.6 1789.9,163.9 1790.6,175.5 1791.2,187.3 1791.8,199.2 1792.4,211.2 1793.0,223.1 1793.6,234.9 1794.2,246.5 1794.8,257.8 1795.4,268.8 1796.1,279.4 1796.7,289.6 1797.3,299.2 1797.9,308.3 1798.5,316.8 1799.1,324.6 1799.7,331.7 1800.3,338.1 1801.0,343.7 1801.6,348.6 1802.2,352.7 1802.8,355.9 1803.4,358.3 1804.0,359.9 1804.6,360.6 1805.2,360.4 1805.8,359.4 1806.5,357.6 1807.1,354.9 1807.7,351.4 1808.3,347.1 1808.9,341.9 1809.5,336.0 1810.1,329.4 1810.7,322.0 1811.3,314.0 1812.0,305.3 1812.6,296.1 1813.2,286.3 1813.8,276.0 1814.4,265.2 1815.0,254.1 1815.6,242.7 1816.2,231.1 1816.9,219.3 1817.5,207.4 1818.1,195.4 1818.7,183.6 1819.3,171.9 1819.9,160.4 1820.5,149.2 1821.1,138.4 1821.7,128.1 1822.4,118.3 1823.0,109.1 1823.6,100.6 1824.2,92.9 1824.8,86.0 1825.4,79.9 1826.0,74.8 1826.6,70.6 1827.3,67.4 1827.9,65.2 1828.5,64.1 1829.1,64.0 1829.7,65.0 1830.3,66.9 1830.9,69.9 1831.5,73.9 1832.1,78.9 1832.8,84.8 1833.4,91.5 1834.0,99.1 1834.6,107.5 1835.2,116.5 1835.8,126.2 1836.4,136.4 1837.0,147.1 1837.7,158.2 1838.3,169.6 1838.9,181.3 1839.5,193.1 1840.1,205.0 1840.7,216.9 1841.3,228.7 1841.9,240.3 1842.5,251.8 1843.2,262.9 1843.8,273.7 1844.4,284.0 1845.0,293.9 1845.6,303.3 1846.2,312.0 1846.8,320.1 1847.4,327.6 1848.0,334.3 1848.7,340.4 1849.3,345.6 1849.9,350.1 1850.5,353.7 1851.1,356.6 1851.7,358.6 1852.3,359.7 1852.9,360.0 1853.6,359.4 1854.2,358.0 1854.8,355.8 1855.4,352.7 1856.0,348.8 1856.6,344.1 1857.2,338.7 1857.8,332.4 1858.4,325.5 1859.1,317.8 1859.7,309.5 1860.3,300.6 1860.9,291.1 1861.5,281.1 1862.1,270.6 1862.7,259.7 1863.3,248.5 1864.0,237.0 1864.6,225.4 1865.2,213.5 1865.8,201.7 1866.4,189.8 1867.0,178.0 1867.6,166.5 1868.2,155.2 1868.8,144.2 1869.5,133.7 1870.1,123.6 1870.7,114.2 1871.3,105.4 1871.9,97.3 1872.5,89.9 1873.1,83.5 1873.7,77.9 1874.3,73.2 1875.0,69.5 1875.6,66.8 1876.2,65.2 1876.8,64.5 1877.4,64.9 1878.0,66.4 1878.6,68.8 1879.2,72.3 1879.9,76.7 1880.5,82.1 1881.1,88.4 1881.7,95.5 1882.3,103.5 1882.9,112.1 1883.5,121.4 1884.1,131.3 1884.7,141.7 1885.4,152.6 1886.0,163.8 1886.6,175.3 1887.2,187.0 1887.8,198.8 1888.4,210.7 1889.0,222.5 1889.6,234.2 1890.3,245.7 1890.9,257.0 1891.5,267.9 1892.1,278.4 1892.7,288.5 1893.3,298.1 1893.9,307.1 1894.5,315.5 1895.1,323.3 1895.8,330.4 1896.4,336.8 1897.0,342.4 1897.6,347.3 1898.2,351.3 1898.8,354.6 1899.4,357.0 1900.0,358.6 1900.7,359.3 1901.3,359.2 1901.9,358.2 1902.5,356.4 1903.1,353.8 1903.7,350.4 1904.3,346.1 1904.9,341.0 1905.5,335.2 1906.2,328.7 1906.8,321.4 1907.4,313.4 1908.0,304.9 1908.6,295.7 1909.2,286.0 1909.8,275.8 1910.4,265.2 1911.0,254.2 1911.7,242.9 1912.3,231.3 1912.9,219.6 1913.5,207.8 1914.1,196.0 1914.7,184.2 1915.3,172.6 1915.9,161.2 1916.6,150.1 1917.2,139.4 1917.8,129.1 1918.4,119.4 1919.0,110.3 1919.6,101.8 1920.2,94.1 1920.8,87.2 1921.4,81.2 1922.1,76.1 1922.7,71.9 1923.3,68.7 1923.9,66.5 1924.5,65.3 1925.1,65.2 1925.7,66.1 1926.3,68.0 1927.0,70.9 1927.6,74.9 1928.2,79.7 1928.8,85.5 1929.4,92.2 1930.0,99.7 1930.6,107.9 1931.2,116.9 1931.8,126.4 1932.5,136.6 1933.1,147.1 1933.7,158.1 1934.3,169.5 1934.9,181.0 1935.5,192.7 1936.1,204.5 1936.7,216.3 1937.4,228.0 1938.0,239.6 1938.6,250.9 1939.2,262.0 1939.8,272.7 1940.4,283.0 1941.0,292.8 1941.6,302.1 1942.2,310.8 1942.9,318.9 1943.5,326.3 1944.1,333.0 1944.7,339.0 1945.3,344.2 1945.9,348.7 1946.5,352.4 1947.1,355.2 1947.8,357.2 1948.4,358.4 1949.0,358.7 1949.6,358.2 1950.2,356.8 1950.8,354.6 1951.4,351.6 1952.0,347.8 1952.6,343.2 1953.3,337.8 1953.9,331.6 1954.5,324.7 1955.1,317.2 1955.7,309.0 1956.3,300.1 1956.9,290.7 1957.5,280.8 1958.1,270.5 1958.8,259.7 1959.4,248.6 1960.0,237.2 1960.6,225.7 1961.2,213.9 1961.8,202.2 1962.4,190.4 1963.0,178.8 1963.7,167.3 1964.3,156.1 1964.9,145.2 1965.5,134.7 1966.1,124.7 1966.7,115.3 1967.3,106.6 1967.9,98.5 1968.5,91.2 1969.2,84.8 1969.8,79.2 1970.4,74.5 1971.0,70.8 1971.6,68.1 1972.2,66.4 1972.8,65.7 1973.4,66.1 1974.1,67.5 1974.7,69.9 1975.3,73.3 1975.9,77.7 1976.5,83.0 1977.1,89.2 1977.7,96.2 1978.3,104.0 1978.9,112.6 1979.6,121.8 1980.2,131.6 1980.8,141.9 1981.4,152.6 1982.0,163.7 1982.6,175.1 1983.2,186.7 1983.8,198.4 1984.5,210.2 1985.1,221.9 1985.7,233.5 1986.3,244.9 1986.9,256.1 1987.5,266.9 1988.1,277.4 1988.7,287.4 1989.3,296.9 1990.0,305.9 1990.6,314.3 1991.2,322.0 1991.8,329.1 1992.4,335.4 1993.0,341.0 1993.6,345.9 1994.2,349.9 1994.8,353.2 1995.5,355.6 1996.1,357.2 1996.7,358.0 1997.3,357.9 1997.9,357.0 1998.5,355.2 1999.1,352.6 1999.7,349.2 2000.4,345.0 2001.0,340.1 2001.6,334.3 2002.2,327.9 2002.8,320.7 2003.4,312.8 2004.0,304.4 2004.6,295.3 2005.2,285.7 2005.9,275.6 2006.5,265.1 2007.1,254.2 2007.7,243.0 2008.3,231.6 2008.9,220.0 2009.5,208.3 2010.1,196.6 2010.8,184.9 2011.4,173.4 2012.0,162.0 2012.6,151.0 2013.2,140.4 2013.8,130.2 2014.4,120.5 2015.0,111.5 2015.6,103.1 2016.3,95.4 2016.9,88.5 2017.5,82.5 2018.1,77.4 2018.7,73.2 2019.3,70.0 2019.9,67.8 2020.5,66.6 2021.2,66.4 2021.8,67.3 2022.4,69.1 2023.0,72.0 2023.6,75.9 2024.2,80.7 2024.8,86.4 2025.4,92.9 2026.0,100.3 2026.7,108.5 2027.3,117.3 2027.9,126.8 2028.5,136.8 2029.1,147.2 2029.7,158.1 2030.3,169.3 2030.9,180.8 2031.5,192.4 2032.2,204.1 2032.8,215.8 2033.4,227.4 2034.0,238.8 2034.6,250.1 2035.2,261.1 2035.8,271.7 2036.4,281.9 2037.1,291.6 2037.7,300.9 2038.3,309.5 2038.9,317.5 2039.5,324.9 2040.1,331.6 2040.7,337.6 2041.3,342.8 2041.9,347.3 2042.6,350.9 2043.2,353.8 2043.8,355.8 2044.4,357.0 2045.0,357.3 2045.6,356.9 2046.2,355.5 2046.8,353.4 2047.5,350.4 2048.1,346.7 2048.7,342.1 2049.3,336.8 2049.9,330.7 2050.5,323.9 2051.1,316.5 2051.7,308.4 2052.3,299.6 2053.0,290.4 2053.6,280.6 2054.2,270.3 2054.8,259.7 2055.4,248.7 2056.0,237.4 2056.6,225.9 2057.2,214.3 2057.8,202.7 2058.5,191.0 2059.1,179.5 2059.7,168.1 2060.3,156.9 2060.9,146.2 2061.5,135.8 2062.1,125.9 2062.7,116.5 2063.4,107.8 2064.0,99.8 2064.6,92.5 2065.2,86.1 2065.8,80.5 2066.4,75.9 2067.0,72.2 2067.6,69.5 2068.2,67.7 2068.9,67.0 2069.5,67.4 2070.1,68.7 2070.7,71.0 2071.3,74.4 2071.9,78.6 2072.5,83.9 2073.1,90.0 2073.8,96.9 2074.4,104.6 2075.0,113.1 2075.6,122.2 2076.2,131.8 2076.8,142.0 2077.4,152.7 2078.0,163.7 2078.6,174.9 2079.3,186.4 2079.9,198.0 2080.5,209.7 2081.1,221.3 2081.7,232.8 2082.3,244.1 2082.9,255.2 2083.5,265.9 2084.2,276.3 2084.8,286.3 2085.4,295.7 2086.0,304.6 2086.6,312.9 2087.2,320.6 2087.8,327.7 2088.4,334.0 2089.0,339.6 2089.7,344.4 2090.3,348.4 2090.9,351.7 2091.5,354.1 2092.1,355.7 2092.7,356.5 2093.3,356.5 2093.9,355.6 2094.6,353.9 2095.2,351.4 2095.8,348.1 2096.4,343.9 2097.0,339.0 2097.6,333.4 2098.2,327.0 2098.8,319.9 2099.4,312.2 2100.1,303.8 2100.7,294.8 2101.3,285.3 2101.9,275.4 2102.5,265.0 2103.1,254.2 2103.7,243.1 2104.3,231.8 2104.9,220.3 2105.6,208.7 2106.2,197.1 2106.8,185.6 2107.4,174.1 2108.0,162.9 2108.6,152.0 2109.2,141.4 2109.8,131.3 2110.5,121.7 2111.1,112.7 2111.7,104.4 2112.3,96.7 2112.9,89.9 2113.5,83.9 2114.1,78.8 2114.7,74.6 2115.3,71.4 2116.0,69.2 2116.6,67.9 2117.2,67.7 2117.8,68.5 2118.4,70.3 2119.0,73.1 2119.6,76.9 2120.2,81.6 2120.9,87.3 2121.5,93.7 2122.1,101.0 2122.7,109.1 2123.3,117.8 2123.9,127.1 2124.5,137.0 2125.1,147.4 2125.7,158.1 2126.4,169.2 2127.0,180.6 2127.6,192.0 2128.2,203.6 2128.8,215.2 2129.4,226.7 2130.0,238.1 2130.6,249.2 2131.2,260.1 2131.9,270.7 2132.5,280.8 2133.1,290.4 2133.7,299.6 2134.3,308.2 2134.9,316.2 2135.5,323.5 2136.1,330.2 2136.8,336.1 2137.4,341.3 2138.0,345.7 2138.6,349.4 2139.2,352.2 2139.8,354.3 2140.4,355.5 2141.0,355.9 2141.6,355.4 2142.3,354.2 2142.9,352.1 2143.5,349.2 2144.1,345.5 2144.7,341.0 2145.3,335.8 2145.9,329.8 2146.5,323.1 2147.2,315.7 2147.8,307.7 2148.4,299.1 2149.0,289.9 2149.6,280.3 2150.2,270.1 2150.8,259.6 2151.4,248.7 2152.0,237.6 2152.7,226.2 2153.3,214.7 2153.9,203.2 2154.5,191.6 2155.1,180.2 2155.7,168.9 2156.3,157.9 2156.9,147.1 2157.6,136.8 2158.2,127.0 2158.8,117.7 2159.4,109.1 2160.0,101.1 2160.6,93.9 2161.2,87.5 2161.8,82.0 2162.4,77.3 2163.1,73.6 2163.7,70.9 2164.3,69.1 2164.9,68.4 2165.5,68.7 2166.1,69.9 2166.7,72.2 2167.3,75.5 2167.9,79.7 2168.6,84.8 2169.2,90.8 2169.8,97.7 2170.4,105.3 2171.0,113.6 2171.6,122.6 2172.2,132.2 2172.8,142.3 2173.5,152.8 2174.1,163.6 2174.7,174.8 2175.3,186.2 2175.9,197.6 2176.5,209.2 2177.1,220.7 2177.7,232.1 2178.3,243.3 2179.0,254.3 2179.6,264.9 2180.2,275.2 2180.8,285.1 2181.4,294.5 2182.0,303.3 2182.6,311.6 2183.2,319.2 2183.9,326.2 2184.5,332.5 2185.1,338.0 2185.7,342.9 2186.3,346.9 2186.9,350.1 2187.5,352.6 2188.1,354.2 2188.7,355.0 2189.4,355.0 2190.0,354.2 2190.6,352.5 2191.2,350.1 2191.8,346.8 2192.4,342.8 2193.0,337.9 2193.6,332.4 2194.3,326.1 2194.9,319.1 2195.5,311.4 2196.1,303.2 2196.7,294.3 2197.3,285.0 2197.9,275.1 2198.5,264.8 2199.1,254.2 2199.8,243.2 2200.4,232.0 2201.0,220.6 2201.6,209.2 2202.2,197.7 2202.8,186.2 2203.4,174.9 2204.0,163.8 2204.7,152.9 2205.3,142.5 2205.9,132.4 2206.5,122.9 2207.1,114.0 2207.7,105.7 2208.3,98.1 2208.9,91.3 2209.5,85.4 2210.2,80.3 2210.8,76.1 2211.4,72.9 2212.0,70.6 2212.6,69.3 2213.2,69.1 2213.8,69.8 2214.4,71.6 2215.0,74.3 2215.7,78.0 2216.3,82.7 2216.9,88.2 2217.5,94.6 2218.1,101.8 2218.7,109.7 2219.3,118.3 2219.9,127.5 2220.6,137.3 2221.2,147.5 2221.8,158.2 2222.4,169.2 2223.0,180.4"/>
<polyline stroke="#e51e10" points="388.0,1000.0 388.6,1000.0 389.2,1000.0 389.8,999.9 390.4,999.8 391.1,999.5 391.7,999.0 392.3,998.2 392.9,996.9 393.5,995.1 394.1,992.7 394.7,989.6 395.3,985.7 396.0,980.8 396.6,974.9 397.2,968.0 397.8,959.9 398.4,950.7 399.0,940.4 399.6,929.0 400.2,916.5 400.8,903.1 401.5,888.8 402.1,873.7 402.7,858.1 403.3,842.0 403.9,825.7 404.5,809.3 405.1,793.1 405.7,777.4 406.4,762.2 407.0,747.9 407.6,734.6 408.2,722.5 408.8,711.9 409.4,702.9 410.0,695.6 410.6,690.1 411.2,686.6 411.9,685.1 412.5,685.6 413.1,688.1 413.7,692.5 414.3,698.9 414.9,707.0 415.5,716.8 416.1,728.2 416.7,740.8 417.4,754.6 418.0,769.4 418.6,784.9 419.2,800.9 419.8,817.2 420.4,833.5 421.0,849.7 421.6,865.6 422.3,881.0 422.9,895.7 423.5,909.7 424.1,922.6 424.7,934.6 425.3,945.5 425.9,955.3 426.5,963.9 427.1,971.4 427.8,977.8 428.4,983.2 429.0,987.7 429.6,991.2 430.2,994.0 430.8,996.1 431.4,997.6 432.0,998.6 432.7,999.3 433.3,999.7 433.9,999.9 434.5,1000.0 435.1,1000.0 435.7,1000.0 436.3,1000.0 436.9,1000.0 437.5,1000.0 438.2,999.9 438.8,999.7 439.4,999.3 440.0,998.6 440.6,997.6 441.2,996.1 441.8,994.1 442.4,991.3 443.1,987.8 443.7,983.4 444.3,978.1 444.9,971.7 445.5,964.2 446.1,955.6 446.7,945.9 447.3,935.1 447.9,923.1 448.6,910.2 449.2,896.3 449.8,881.6 450.4,866.3 451.0,850.4 451.6,834.2 452.2,817.8 452.8,801.5 453.4,785.5 454.1,770.0 454.7,755.2 455.3,741.4 455.9,728.7 456.5,717.3 457.1,707.4 457.7,699.2 458.3,692.8 459.0,688.2 459.6,685.7 460.2,685.1 460.8,686.6 461.4,690.0 462.0,695.4 462.6,702.6 463.2,711.6 463.8,722.1 464.5,734.1 465.1,747.3 465.7,761.6 466.3,776.8 466.9,792.5 467.5,808.7 468.1,825.0 468.7,841.3 469.4,857.4 470.0,873.1 470.6,888.2 471.2,902.5 471.8,916.0 472.4,928.5 473.0,940.0 473.6,950.3 474.2,959.5 474.9,967.6 475.5,974.6 476.1,980.5 476.7,985.5 477.3,989.4 477.9,992.6 478.5,995.0 479.1,996.8 479.8,998.1 480.4,998.9 481.0,999.5 481.6,999.7 482.2,999.9 482.8,999.9 483.4,1000.0 484.0,1000.0 484.6,1000.0 485.3,999.9 485.9,999.9 486.5,999.8 487.1,999.5 487.7,999.0 488.3,998.2 488.9,996.9 489.5,995.2 490.1,992.8 490.8,989.7 491.4,985.8 492.0,981.0 492.6,975.1 493.2,968.2 493.8,960.2 494.4,951.1 495.0,940.8 495.7,929.4 496.3,917.0 496.9,903.6 497.5,889.3 498.1,874.3 498.7,858.7 499.3,842.6 499.9,826.3 500.5,810.0 501.2,793.8 501.8,778.0 502.4,762.8 503.0,748.5 503.6,735.1 504.2,723.0 504.8,712.4 505.4,703.3 506.1,695.9 506.7,690.4 507.3,686.8 507.9,685.2 508.5,685.6 509.1,688.0 509.7,692.4 510.3,698.6 510.9,706.7 511.6,716.5 512.2,727.7 512.8,740.3 513.4,754.1 514.0,768.8 514.6,784.3 515.2,800.2 515.8,816.5 516.5,832.9 517.1,849.1 517.7,865.0 518.3,880.4 518.9,895.1 519.5,909.1 520.1,922.1 520.7,934.1 521.3,945.0 522.0,954.8 522.6,963.5 523.2,971.1 523.8,977.5 524.4,983.0 525.0,987.4 525.6,991.0 526.2,993.8 526.8,995.9 527.5,997.4 528.1,998.5 528.7,999.2 529.3,999.6 529.9,999.8 530.5,999.9 531.1,999.9 531.7,999.9 532.4,999.9 533.0,999.9 533.6,999.9 534.2,999.8 534.8,999.6 535.4,999.2 536.0,998.6 536.6,997.6 537.2,996.1 537.9,994.1 538.5,991.4 539.1,987.9 539.7,983.5 540.3,978.2 540.9,971.9 541.5,964.5 542.1,955.9 542.8,946.2 543.4,935.4 544.0,923.6 544.6,910.7 545.2,896.8 545.8,882.2 546.4,866.9 547.0,851.0 547.6,834.8 548.3,818.5 548.9,802.2 549.5,786.2 550.1,770.7 550.7,755.8 551.3,742.0 551.9,729.2 552.5,717.8 553.1,707.8 553.8,699.6 554.4,693.1 555.0,688.5 555.6,685.8 556.2,685.2 556.8,686.6 557.4,689.9 558.0,695.2 558.7,702.4 559.3,711.2 559.9,721.7 560.5,733.7 561.1,746.8 561.7,761.1 562.3,776.2 562.9,791.9 563.5,808.0 564.2,824.4 564.8,840.7 565.4,856.8 566.0,872.4 566.6,887.5 567.2,901.9 567.8,915.4 568.4,927.9 569.1,939.4 569.7,949.8 570.3,959.1 570.9,967.2 571.5,974.2 572.1,980.2 572.7,985.2 573.3,989.2 573.9,992.4 574.6,994.8 575.2,996.6 575.8,997.9 576.4,998.8 577.0,999.3 577.6,999.6 578.2,999.8 578.8,999.8 579.5,999.8 580.1,999.8 580.7,999.8 581.3,999.8 581.9,999.8 582.5,999.6 583.1,999.4 583.7,998.9 584.3,998.1 585.0,996.8 585.6,995.1 586.2,992.8 586.8,989.7 587.4,985.8 588.0,981.0 588.6,975.2 589.2,968.4 589.9,960.4 590.5,951.4 591.1,941.1 591.7,929.8 592.3,917.5 592.9,904.1 593.5,889.9 594.1,874.9 594.7,859.3 595.4,843.3 596.0,827.0 596.6,810.7 597.2,794.5 597.8,778.7 598.4,763.5 599.0,749.1 599.6,735.7 600.2,723.6 600.9,712.9 601.5,703.7 602.1,696.3 602.7,690.7 603.3,687.0 603.9,685.4 604.5,685.7 605.1,688.0 605.8,692.3 606.4,698.5 607.0,706.5 607.6,716.2 608.2,727.4 608.8,739.9 609.4,753.6 610.0,768.3 610.6,783.7 611.3,799.6 611.9,815.9 612.5,832.2 613.1,848.4 613.7,864.3 614.3,879.8 614.9,894.5 615.5,908.5 616.2,921.5 616.8,933.5 617.4,944.5 618.0,954.3 618.6,963.1 619.2,970.7 619.8,977.2 620.4,982.6 621.0,987.1 621.7,990.7 622.3,993.5 622.9,995.7 623.5,997.2 624.1,998.3 624.7,999.0 625.3,999.4 625.9,999.6 626.5,999.7 627.2,999.7 627.8,999.7 628.4,999.7 629.0,999.7 629.6,999.7 630.2,999.6 630.8,999.4 631.4,999.1 632.1,998.4 632.7,997.4 633.3,996.0 633.9,994.0 634.5,991.3 635.1,987.9 635.7,983.6 636.3,978.3 636.9,972.0 637.6,964.6 638.2,956.1 638.8,946.5 639.4,935.8 640.0,924.0 640.6,911.1 641.2,897.3 641.8,882.7 642.5,867.5 643.1,851.6 643.7,835.5 644.3,819.2 644.9,802.9 645.5,786.9 646.1,771.3 646.7,756.5 647.3,742.6 648.0,729.8 648.6,718.3 649.2,708.4 649.8,700.0 650.4,693.5 651.0,688.8 651.6,686.1 652.2,685.4 652.9,686.6 653.5,689.9 654.1,695.1 654.7,702.2 655.3,711.0 655.9,721.4 656.5,733.3 657.1,746.4 657.7,760.6 658.4,775.6 659.0,791.3 659.6,807.4 660.2,823.7 660.8,840.0 661.4,856.1 662.0,871.8 662.6,886.9 663.2,901.3 663.9,914.8 664.5,927.3 665.1,938.9 665.7,949.3 666.3,958.6 666.9,966.8 667.5,973.8 668.1,979.8 668.8,984.8 669.4,988.8 670.0,992.1 670.6,994.5 671.2,996.4 671.8,997.7 672.4,998.5 673.0,999.1 673.6,999.4 674.3,999.5 674.9,999.6 675.5,999.6 676.1,999.6 676.7,999.6 677.3,999.6 677.9,999.5 678.5,999.4 679.2,999.1 679.8,998.7 680.4,997.9 681.0,996.7 681.6,995.0 682.2,992.7 682.8,989.6 683.4,985.8 684.0,981.0 684.7,975.3 685.3,968.5 685.9,960.6 686.5,951.6 687.1,941.4 687.7,930.2 688.3,917.9 688.9,904.6 689.6,890.4 690.2,875.5 690.8,859.9 691.4,843.9 692.0,827.7 692.6,811.3 693.2,795.2 693.8,779.4 694.4,764.2 695.1,749.8 695.7,736.4 696.3,724.2 696.9,713.5 697.5,704.3 698.1,696.8 698.7,691.1 699.3,687.4 700.0,685.6 700.6,685.9 701.2,688.1 701.8,692.3 702.4,698.4 703.0,706.3 703.6,715.9 704.2,727.0 704.8,739.5 705.5,753.2 706.1,767.8 706.7,783.1 707.3,799.0 707.9,815.3 708.5,831.6 709.1,847.8 709.7,863.7 710.3,879.1 711.0,893.8 711.6,907.8 712.2,920.9 712.8,932.9 713.4,943.9 714.0,953.8 714.6,962.5 715.2,970.2 715.9,976.7 716.5,982.2 717.1,986.7 717.7,990.3 718.3,993.2 718.9,995.3 719.5,996.9 720.1,998.0 720.7,998.7 721.4,999.1 722.0,999.3 722.6,999.4 723.2,999.5 723.8,999.5 724.4,999.5 725.0,999.5 725.6,999.4 726.3,999.4 726.9,999.2 727.5,998.8 728.1,998.2 728.7,997.2 729.3,995.8 729.9,993.8 730.5,991.2 731.1,987.8 731.8,983.5 732.4,978.3 733.0,972.1 733.6,964.7 734.2,956.3 734.8,946.7 735.4,936.1 736.0,924.3 736.6,911.5 737.3,897.8 737.9,883.3 738.5,868.0 739.1,852.3 739.7,836.1 740.3,819.8 740.9,803.6 741.5,787.6 742.2,772.1 742.8,757.2 743.4,743.3 744.0,730.5 744.6,719.0 745.2,709.0 745.8,700.6 746.4,694.0 747.0,689.2 747.7,686.4 748.3,685.6 748.9,686.8 749.5,690.0 750.1,695.1 750.7,702.1 751.3,710.9 751.9,721.2 752.6,733.0 753.2,746.0 753.8,760.1 754.4,775.1 755.0,790.8 755.6,806.8 756.2,823.1 756.8,839.4 757.4,855.4 758.1,871.1 758.7,886.2 759.3,900.6 759.9,914.1 760.5,926.7 761.1,938.2 761.7,948.7 762.3,958.0 763.0,966.2 763.6,973.3 764.2,979.3 764.8,984.3 765.4,988.4 766.0,991.7 766.6,994.1 767.2,996.0 767.8,997.3 768.5,998.2 769.1,998.8 769.7,999.1 770.3,999.2 770.9,999.3 771.5,999.3 772.1,999.3 772.7,999.3 773.4,999.3 774.0,999.2 774.6,999.1 775.2,998.9 775.8,998.4 776.4,997.6 777.0,996.4 777.6,994.8 778.2,992.5 778.9,989.5 779.5,985.7 780.1,981.0 780.7,975.3 781.3,968.5 781.9,960.7 782.5,951.7 783.1,941.7 783.7,930.5 784.4,918.2 785.0,905.0 785.6,890.9 786.2,876.0 786.8,860.5 787.4,844.5 788.0,828.3 788.6,812.0 789.3,795.9 789.9,780.1 790.5,764.9 791.1,750.5 791.7,737.1 792.3,724.9 792.9,714.1 793.5,704.9 794.1,697.3 794.8,691.6 795.4,687.8 796.0,685.9 796.6,686.1 797.2,688.3 797.8,692.4 798.4,698.4 799.0,706.2 799.7,715.8 800.3,726.8 800.9,739.2 801.5,752.8 802.1,767.3 802.7,782.6 803.3,798.5 803.9,814.7 804.5,830.9 805.2,847.1 805.8,863.0 806.4,878.4 807.0,893.1 807.6,907.1 808.2,920.2 808.8,932.3 809.4,943.3 810.0,953.2 810.7,961.9 811.3,969.6 811.9,976.2 812.5,981.7 813.1,986.2 813.7,989.9 814.3,992.8 814.9,994.9 815.6,996.5 816.2,997.6 816.8,998.3 817.4,998.7 818.0,999.0 818.6,999.1 819.2,999.1 819.8,999.1 820.4,999.1 821.1,999.1 821.7,999.1 822.3,999.0 822.9,998.8 823.5,998.5 824.1,997.9 824.7,996.9 825.3,995.5 826.0,993.6 826.6,991.0 827.2,987.6 827.8,983.4 828.4,978.2 829.0,972.0 829.6,964.8 830.2,956.4 830.8,946.9 831.5,936.3 832.1,924.6 832.7,911.9 833.3,898.2 833.9,883.8 834.5,868.6 835.1,852.9 835.7,836.8 836.4,820.5 837.0,804.3 837.6,788.3 838.2,772.8 838.8,758.0 839.4,744.1 840.0,731.2 840.6,719.7 841.2,709.6 841.9,701.2 842.5,694.5 843.1,689.7 843.7,686.8 844.3,686.0 844.9,687.1 845.5,690.2 846.1,695.2 846.8,702.1 847.4,710.8 848.0,721.0 848.6,732.7 849.2,745.7 849.8,759.7 850.4,774.7 851.0,790.2 851.6,806.3 852.3,822.5 852.9,838.7 853.5,854.8 854.1,870.4 854.7,885.5 855.3,899.9 855.9,913.4 856.5,926.0 857.1,937.6 857.8,948.0 858.4,957.4 859.0,965.6 859.6,972.7 860.2,978.8 860.8,983.8 861.4,987.9 862.0,991.2 862.7,993.7 863.3,995.5 863.9,996.9 864.5,997.8 865.1,998.3 865.7,998.7 866.3,998.8 866.9,998.9 867.5,998.9 868.2,998.9 868.8,998.9 869.4,998.9 870.0,998.8 870.6,998.7 871.2,998.5 871.8,998.0 872.4,997.2 873.1,996.1 873.7,994.4 874.3,992.2 874.9,989.2 875.5,985.5 876.1,980.8 876.7,975.2 877.3,968.5 877.9,960.7 878.6,951.8 879.2,941.8 879.8,930.7 880.4,918.5 881.0,905.4 881.6,891.3 882.2,876.5 882.8,861.1 883.5,845.2 884.1,829.0 884.7,812.8 885.3,796.6 885.9,780.9 886.5,765.7 887.1,751.3 887.7,737.9 888.3,725.7 889.0,714.8 889.6,705.5 890.2,697.9 890.8,692.2 891.4,688.3 892.0,686.4 892.6,686.4 893.2,688.5 893.8,692.6 894.5,698.5 895.1,706.2 895.7,715.7 896.3,726.6 896.9,738.9 897.5,752.4 898.1,766.9 898.7,782.1 899.4,797.9 900.0,814.1 900.6,830.3 901.2,846.4 901.8,862.3 902.4,877.7 903.0,892.4 903.6,906.4 904.2,919.5 904.9,931.6 905.5,942.6 906.1,952.5 906.7,961.3 907.3,969.0 907.9,975.5 908.5,981.1 909.1,985.7 909.8,989.4 910.4,992.2 911.0,994.4 911.6,996.0 912.2,997.1 912.8,997.9 913.4,998.3 914.0,998.5 914.6,998.6 915.3,998.7 915.9,998.7 916.5,998.7 917.1,998.7 917.7,998.6 918.3,998.6 918.9,998.4 919.5,998.0 920.1,997.5 920.8,996.5 921.4,995.1 922.0,993.2 922.6,990.7 923.2,987.3 923.8,983.2 924.4,978.0 925.0,971.9 925.7,964.7 926.3,956.4 926.9,947.0 927.5,936.5 928.1,924.8 928.7,912.2 929.3,898.6 929.9,884.2 930.5,869.1 931.2,853.4 931.8,837.4 932.4,821.2 933.0,805.0 933.6,789.1 934.2,773.6 934.8,758.8 935.4,744.8 936.1,732.0 936.7,720.4 937.3,710.3 937.9,701.9 938.5,695.1 939.1,690.3 939.7,687.3 940.3,686.4 940.9,687.4 941.6,690.4 942.2,695.4 942.8,702.2 943.4,710.7 944.0,720.9 944.6,732.5 945.2,745.4 945.8,759.4 946.5,774.2 947.1,789.7 947.7,805.7 948.3,821.9 948.9,838.1 949.5,854.1 950.1,869.7 950.7,884.8 951.3,899.1 952.0,912.7 952.6,925.3 953.2,936.8 953.8,947.3 954.4,956.7 955.0,964.9 955.6,972.0 956.2,978.1 956.9,983.2 957.5,987.3 958.1,990.6 958.7,993.1 959.3,995.0 959.9,996.4 960.5,997.3 961.1,997.8 961.7,998.2 962.4,998.3 963.0,998.4 963.6,998.4 964.2,998.4 964.8,998.4 965.4,998.4 966.0,998.4 966.6,998.2 967.2,998.0 967.9,997.5 968.5,996.8 969.1,995.7 969.7,994.1 970.3,991.8 970.9,988.9 971.5,985.2 972.1,980.6 972.8,975.0 973.4,968.4 974.0,960.7 974.6,951.9 975.2,941.9 975.8,930.9 976.4,918.8 977.0,905.7 977.6,891.7 978.3,877.0 978.9,861.6 979.5,845.8 980.1,829.7 980.7,813.5 981.3,797.4 981.9,781.7 982.5,766.5 983.2,752.1 983.8,738.7 984.4,726.5 985.0,715.6 985.6,706.3 986.2,698.6 986.8,692.8 987.4,688.9 988.0,686.9 988.7,686.9 989.3,688.9 989.9,692.8 990.5,698.7 991.1,706.3 991.7,715.6 992.3,726.5 992.9,738.7 993.5,752.1 994.2,766.5 994.8,781.7 995.4,797.4 996.0,813.5 996.6,829.7 997.2,845.8 997.8,861.6 998.4,876.9 999.1,891.7 999.7,905.6 1000.3,918.7 1000.9,930.8 1001.5,941.8 1002.1,951.7 1002.7,960.6 1003.3,968.3 1003.9,974.9 1004.6,980.4 1005.2,985.0 1005.8,988.7 1006.4,991.6 1007.0,993.8 1007.6,995.5 1008.2,996.6 1008.8,997.3 1009.5,997.8 1010.1,998.0 1010.7,998.1 1011.3,998.1 1011.9,998.1 1012.5,998.1 1013.1,998.1 1013.7,998.1 1014.3,998.0 1015.0,997.9 1015.6,997.5 1016.2,997.0 1016.8,996.0 1017.4,994.7 1018.0,992.8 1018.6,990.3 1019.2,987.0 1019.9,982.9 1020.5,977.8 1021.1,971.7 1021.7,964.6 1022.3,956.4 1022.9,947.0 1023.5,936.6 1024.1,925.0 1024.7,912.5 1025.4,899.0 1026.0,884.6 1026.6,869.6 1027.2,854.0 1027.8,838.1 1028.4,821.9 1029.0,805.8 1029.6,789.9 1030.2,774.4 1030.9,759.6 1031.5,745.7 1032.1,732.8 1032.7,721.3 1033.3,711.1 1033.9,702.6 1034.5,695.9 1035.1,690.9 1035.8,687.9 1036.4,686.9 1037.0,687.8 1037.6,690.8 1038.2,695.6 1038.8,702.3 1039.4,710.8 1040.0,720.9 1040.6,732.4 1041.3,745.2 1041.9,759.1 1042.5,773.8 1043.1,789.3 1043.7,805.2 1044.3,821.3 1044.9,837.4 1045.5,853.4 1046.2,869.0 1046.8,884.0 1047.4,898.4 1048.0,911.9 1048.6,924.5 1049.2,936.0 1049.8,946.5 1050.4,955.9 1051.0,964.2 1051.7,971.3 1052.3,977.4 1052.9,982.5 1053.5,986.6 1054.1,989.9 1054.7,992.5 1055.3,994.4 1055.9,995.8 1056.6,996.7 1057.2,997.3 1057.8,997.6 1058.4,997.8 1059.0,997.8 1059.6,997.9 1060.2,997.8 1060.8,997.8 1061.4,997.8 1062.1,997.8 1062.7,997.7 1063.3,997.4 1063.9,997.0 1064.5,996.3 1065.1,995.2 1065.7,993.6 1066.3,991.4 1067.0,988.5 1067.6,984.8 1068.2,980.3 1068.8,974.8 1069.4,968.2 1070.0,960.6 1070.6,951.8 1071.2,942.0 1071.8,931.0 1072.5,919.0 1073.1,906.0 1073.7,892.1 1074.3,877.4 1074.9,862.1 1075.5,846.4 1076.1,830.3 1076.7,814.2 1077.3,798.2 1078.0,782.5 1078.6,767.3 1079.2,753.0 1079.8,739.6 1080.4,727.3 1081.0,716.4 1081.6,707.1 1082.2,699.4 1082.9,693.5 1083.5,689.5 1084.1,687.5 1084.7,687.4 1085.3,689.3 1085.9,693.1 1086.5,698.9 1087.1,706.4 1087.7,715.7 1088.4,726.4 1089.0,738.6 1089.6,751.9 1090.2,766.2 1090.8,781.3 1091.4,796.9 1092.0,812.9 1092.6,829.0 1093.3,845.1 1093.9,860.9 1094.5,876.2 1095.1,890.9 1095.7,904.8 1096.3,917.9 1096.9,930.0 1097.5,941.0 1098.1,950.9 1098.8,959.8 1099.4,967.5 1100.0,974.1 1100.6,979.7 1101.2,984.3 1101.8,988.0 1102.4,991.0 1103.0,993.2 1103.7,994.8 1104.3,995.9 1104.9,996.7 1105.5,997.1 1106.1,997.4 1106.7,997.5 1107.3,997.5 1107.9,997.5 1108.5,997.5 1109.2,997.5 1109.8,997.5 1110.4,997.4 1111.0,997.3 1111.6,996.9 1112.2,996.4 1112.8,995.5 1113.4,994.2 1114.0,992.3 1114.7,989.8 1115.3,986.6 1115.9,982.5 1116.5,977.5 1117.1,971.5 1117.7,964.4 1118.3,956.3 1118.9,947.0 1119.6,936.6 1120.2,925.2 1120.8,912.7 1121.4,899.3 1122.0,885.0 1122.6,870.1 1123.2,854.6 1123.8,838.7 1124.4,822.6 1125.1,806.5 1125.7,790.7 1126.3,775.3 1126.9,760.5 1127.5,746.6 1128.1,733.7 1128.7,722.2 1129.3,712.0 1130.0,703.5 1130.6,696.6 1131.2,691.7 1131.8,688.6 1132.4,687.5 1133.0,688.4 1133.6,691.2 1134.2,696.0 1134.8,702.6 1135.5,710.9 1136.1,720.9 1136.7,732.3 1137.3,745.0 1137.9,758.8 1138.5,773.5 1139.1,788.8 1139.7,804.6 1140.3,820.7 1141.0,836.8 1141.6,852.7 1142.2,868.2 1142.8,883.2 1143.4,897.6 1144.0,911.1 1144.6,923.6 1145.2,935.2 1145.9,945.7 1146.5,955.1 1147.1,963.3 1147.7,970.5 1148.3,976.6 1148.9,981.7 1149.5,985.9 1150.1,989.2 1150.7,991.8 1151.4,993.7 1152.0,995.1 1152.6,996.0 1153.2,996.6 1153.8,996.9 1154.4,997.1 1155.0,997.2 1155.6,997.2 1156.3,997.2 1156.9,997.2 1157.5,997.2 1158.1,997.1 1158.7,997.0 1159.3,996.8 1159.9,996.4 1160.5,995.7 1161.1,994.6 1161.8,993.0 1162.4,990.9 1163.0,988.0 1163.6,984.4 1164.2,979.9 1164.8,974.4 1165.4,967.9 1166.0,960.4 1166.7,951.7 1167.3,941.9 1167.9,931.1 1168.5,919.1 1169.1,906.2 1169.7,892.4 1170.3,877.9 1170.9,862.7 1171.5,847.0 1172.2,831.0 1172.8,814.9 1173.4,799.0 1174.0,783.3 1174.6,768.2 1175.2,753.9 1175.8,740.5 1176.4,728.2 1177.0,717.3 1177.7,708.0 1178.3,700.3 1178.9,694.3 1179.5,690.3 1180.1,688.1 1180.7,688.0 1181.3,689.8 1181.9,693.6 1182.6,699.2 1183.2,706.7 1183.8,715.8 1184.4,726.4 1185.0,738.5 1185.6,751.7 1186.2,765.9 1186.8,780.9 1187.4,796.5 1188.1,812.4 1188.7,828.4 1189.3,844.4 1189.9,860.1 1190.5,875.4 1191.1,890.1 1191.7,904.0 1192.3,917.0 1193.0,929.1 1193.6,940.1 1194.2,950.1 1194.8,958.9 1195.4,966.6 1196.0,973.3 1196.6,978.9 1197.2,983.5 1197.8,987.3 1198.5,990.2 1199.1,992.4 1199.7,994.1 1200.3,995.2 1200.9,996.0 1201.5,996.4 1202.1,996.7 1202.7,996.8 1203.4,996.8 1204.0,996.8 1204.6,996.8 1205.2,996.8 1205.8,996.8 1206.4,996.7 1207.0,996.6 1207.6,996.3 1208.2,995.7 1208.9,994.8 1209.5,993.5 1210.1,991.7 1210.7,989.2 1211.3,986.0 1211.9,982.0 1212.5,977.1 1213.1,971.1 1213.8,964.2 1214.4,956.1 1215.0,946.9 1215.6,936.6 1216.2,925.3 1216.8,912.9 1217.4,899.6 1218.0,885.4 1218.6,870.5 1219.3,855.1 1219.9,839.3 1220.5,823.3 1221.1,807.3 1221.7,791.5 1222.3,776.1 1222.9,761.4 1223.5,747.5 1224.1,734.7 1224.8,723.1 1225.4,712.9 1226.0,704.4 1226.6,697.5 1227.2,692.5 1227.8,689.3 1228.4,688.1 1229.0,688.9 1229.7,691.7 1230.3,696.4 1230.9,702.9 1231.5,711.1 1232.1,721.0 1232.7,732.3 1233.3,744.9 1233.9,758.6 1234.5,773.2 1235.2,788.4 1235.8,804.2 1236.4,820.1 1237.0,836.1 1237.6,852.0 1238.2,867.5 1238.8,882.4 1239.4,896.7 1240.1,910.2 1240.7,922.8 1241.3,934.3 1241.9,944.8 1242.5,954.2 1243.1,962.5 1243.7,969.6 1244.3,975.8 1244.9,980.9 1245.6,985.1 1246.2,988.4 1246.8,991.0 1247.4,992.9 1248.0,994.3 1248.6,995.3 1249.2,995.9 1249.8,996.2 1250.5,996.4 1251.1,996.4 1251.7,996.5 1252.3,996.5 1252.9,996.5 1253.5,996.4 1254.1,996.4 1254.7,996.3 1255.3,996.1 1256.0,995.7 1256.6,995.0 1257.2,993.9 1257.8,992.4 1258.4,990.2 1259.0,987.4 1259.6,983.9 1260.2,979.4 1260.8,974.0 1261.5,967.6 1262.1,960.1 1262.7,951.5 1263.3,941.9 1263.9,931.1 1264.5,919.2 1265.1,906.4 1265.7,892.7 1266.4,878.3 1267.0,863.1 1267.6,847.6 1268.2,831.7 1268.8,815.7 1269.4,799.8 1270.0,784.2 1270.6,769.1 1271.2,754.8 1271.9,741.4 1272.5,729.2 1273.1,718.3 1273.7,708.9 1274.3,701.2 1274.9,695.2 1275.5,691.1 1276.1,688.9 1276.8,688.6 1277.4,690.4 1278.0,694.0 1278.6,699.6 1279.2,706.9 1279.8,716.0 1280.4,726.5 1281.0,738.4 1281.6,751.6 1282.3,765.7 1282.9,780.6 1283.5,796.0 1284.1,811.9 1284.7,827.8 1285.3,843.8 1285.9,859.4 1286.5,874.6 1287.2,889.3 1287.8,903.1 1288.4,916.2 1289.0,928.2 1289.6,939.2 1290.2,949.2 1290.8,958.0 1291.4,965.7 1292.0,972.4 1292.7,978.0 1293.3,982.6 1293.9,986.4 1294.5,989.3 1295.1,991.6 1295.7,993.3 1296.3,994.4 1296.9,995.2 1297.5,995.6 1298.2,995.9 1298.8,996.0 1299.4,996.1 1300.0,996.1 1300.6,996.1 1301.2,996.1 1301.8,996.0 1302.4,996.0 1303.1,995.8 1303.7,995.5 1304.3,995.0 1304.9,994.1 1305.5,992.8 1306.1,991.0 1306.7,988.6 1307.3,985.5 1307.9,981.5 1308.6,976.6 1309.2,970.7 1309.8,963.8 1310.4,955.8 1311.0,946.8 1311.6,936.6 1312.2,925.3 1312.8,913.0 1313.5,899.8 1314.1,885.7 1314.7,871.0 1315.3,855.7 1315.9,839.9 1316.5,824.0 1317.1,808.1 1317.7,792.4 1318.3,777.0 1319.0,762.3 1319.6,748.5 1320.2,735.7 1320.8,724.1 1321.4,713.9 1322.0,705.3 1322.6,698.4 1323.2,693.3 1323.8,690.1 1324.5,688.9 1325.1,689.6 1325.7,692.3 1326.3,696.8 1326.9,703.2 1327.5,711.4 1328.1,721.1 1328.7,732.3 1329.4,744.8 1330.0,758.4 1330.6,772.9 1331.2,788.1 1331.8,803.7 1332.4,819.6 1333.0,835.5 1333.6,851.3 1334.2,866.7 1334.9,881.6 1335.5,895.9 1336.1,909.3 1336.7,921.8 1337.3,933.4 1337.9,943.9 1338.5,953.2 1339.1,961.5 1339.8,968.7 1340.4,974.8 1341.0,980.0 1341.6,984.2 1342.2,987.5 1342.8,990.1 1343.4,992.1 1344.0,993.5 1344.6,994.4 1345.3,995.0 1345.9,995.4 1346.5,995.6 1347.1,995.6 1347.7,995.6 1348.3,995.6 1348.9,995.6 1349.5,995.6 1350.2,995.6 1350.8,995.5 1351.4,995.3 1352.0,994.9 1352.6,994.2 1353.2,993.1 1353.8,991.6 1354.4,989.5 1355.0,986.8 1355.7,983.3 1356.3,978.9 1356.9,973.6 1357.5,967.2 1358.1,959.8 1358.7,951.3 1359.3,941.7 1359.9,931.0 1360.5,919.3 1361.2,906.6 1361.8,893.0 1362.4,878.6 1363.0,863.6 1363.6,848.1 1364.2,832.3 1364.8,816.4 1365.4,800.6 1366.1,785.1 1366.7,770.1 1367.3,755.8 1367.9,742.4 1368.5,730.2 1369.1,719.3 1369.7,709.9 1370.3,702.2 1370.9,696.1 1371.6,692.0 1372.2,689.7 1372.8,689.4 1373.4,691.0 1374.0,694.6 1374.6,700.1 1375.2,707.3 1375.8,716.2 1376.5,726.6 1377.1,738.5 1377.7,751.5 1378.3,765.5 1378.9,780.3 1379.5,795.6 1380.1,811.4 1380.7,827.2 1381.3,843.1 1382.0,858.7 1382.6,873.8 1383.2,888.4 1383.8,902.3 1384.4,915.2 1385.0,927.3 1385.6,938.3 1386.2,948.2 1386.9,957.0 1387.5,964.7 1388.1,971.4 1388.7,977.0 1389.3,981.7 1389.9,985.5 1390.5,988.4 1391.1,990.7 1391.7,992.4 1392.4,993.5 1393.0,994.3 1393.6,994.8 1394.2,995.0 1394.8,995.2 1395.4,995.2 1396.0,995.2 1396.6,995.2 1397.2,995.2 1397.9,995.2 1398.5,995.1 1399.1,995.0 1399.7,994.7 1400.3,994.1 1400.9,993.3 1401.5,992.0 1402.1,990.3 1402.8,987.9 1403.4,984.8 1404.0,980.9 1404.6,976.1 1405.2,970.3 1405.8,963.4 1406.4,955.5 1407.0,946.5 1407.6,936.4 1408.3,925.3 1408.9,913.1 1409.5,900.0 1410.1,886.1 1410.7,871.4 1411.3,856.2 1411.9,840.6 1412.5,824.7 1413.2,808.9 1413.8,793.2 1414.4,778.0 1415.0,763.3 1415.6,749.5 1416.2,736.7 1416.8,725.1 1417.4,715.0 1418.0,706.4 1418.7,699.4 1419.3,694.3 1419.9,691.0 1420.5,689.7 1421.1,690.4 1421.7,692.9 1422.3,697.4 1422.9,703.7 1423.6,711.7 1424.2,721.4 1424.8,732.5 1425.4,744.8 1426.0,758.3 1426.6,772.7 1427.2,787.7 1427.8,803.2 1428.4,819.0 1429.1,834.9 1429.7,850.6 1430.3,865.9 1430.9,880.8 1431.5,895.0 1432.1,908.4 1432.7,920.9 1433.3,932.4 1434.0,942.9 1434.6,952.2 1435.2,960.5 1435.8,967.7 1436.4,973.8 1437.0,979.0 1437.6,983.2 1438.2,986.5 1438.8,989.2 1439.5,991.1 1440.1,992.5 1440.7,993.5 1441.3,994.1 1441.9,994.5 1442.5,994.7 1443.1,994.7 1443.7,994.7 1444.3,994.7 1445.0,994.7 1445.6,994.7 1446.2,994.7 1446.8,994.6 1447.4,994.4 1448.0,994.0 1448.6,993.3 1449.2,992.3 1449.9,990.8 1450.5,988.8 1451.1,986.1 1451.7,982.6 1452.3,978.3 1452.9,973.0 1453.5,966.7 1454.1,959.4 1454.7,951.0 1455.4,941.5 1456.0,930.9 1456.6,919.3 1457.2,906.7 1457.8,893.2 1458.4,879.0 1459.0,864.1 1459.6,848.7 1460.3,833.0 1460.9,817.2 1461.5,801.4 1462.1,786.0 1462.7,771.0 1463.3,756.8 1463.9,743.5 1464.5,731.3 1465.1,720.4 1465.8,711.0 1466.4,703.2 1467.0,697.1 1467.6,692.9 1468.2,690.6 1468.8,690.2 1469.4,691.8 1470.0,695.3 1470.7,700.6 1471.3,707.7 1471.9,716.5 1472.5,726.8 1473.1,738.5 1473.7,751.4 1474.3,765.3 1474.9,780.0 1475.5,795.2 1476.2,810.9 1476.8,826.7 1477.4,842.4 1478.0,857.9 1478.6,873.0 1479.2,887.5 1479.8,901.3 1480.4,914.3 1481.0,926.3 1481.7,937.2 1482.3,947.2 1482.9,956.0 1483.5,963.7 1484.1,970.4 1484.7,976.0 1485.3,980.7 1485.9,984.4 1486.6,987.4 1487.2,989.7 1487.8,991.4 1488.4,992.6 1489.0,993.3 1489.6,993.8 1490.2,994.1 1490.8,994.2 1491.4,994.3 1492.1,994.3 1492.7,994.3 1493.3,994.2 1493.9,994.2 1494.5,994.2 1495.1,994.0 1495.7,993.7 1496.3,993.2 1497.0,992.4 1497.6,991.2 1498.2,989.4 1498.8,987.1 1499.4,984.0 1500.0,980.2 1500.6,975.4 1501.2,969.7 1501.8,963.0 1502.5,955.2 1503.1,946.3 1503.7,936.3 1504.3,925.2 1504.9,913.2 1505.5,900.2 1506.1,886.3 1506.7,871.8 1507.3,856.7 1508.0,841.2 1508.6,825.4 1509.2,809.7 1509.8,794.1 1510.4,778.9 1511.0,764.3 1511.6,750.6 1512.2,737.8 1512.9,726.3 1513.5,716.1 1514.1,707.5 1514.7,700.5 1515.3,695.3 1515.9,692.0 1516.5,690.6 1517.1,691.2 1517.7,693.7 1518.4,698.0 1519.0,704.2 1519.6,712.1 1520.2,721.7 1520.8,732.6 1521.4,744.9 1522.0,758.2 1522.6,772.5 1523.3,787.4 1523.9,802.8 1524.5,818.5 1525.1,834.3 1525.7,849.9 1526.3,865.2 1526.9,879.9 1527.5,894.1 1528.1,907.4 1528.8,919.9 1529.4,931.4 1530.0,941.8 1530.6,951.2 1531.2,959.4 1531.8,966.6 1532.4,972.8 1533.0,977.9 1533.7,982.1 1534.3,985.5 1534.9,988.1 1535.5,990.1 1536.1,991.5 1536.7,992.5 1537.3,993.1 1537.9,993.5 1538.5,993.7 1539.2,993.7 1539.8,993.8 1540.4,993.8 1541.0,993.8 1541.6,993.7 1542.2,993.7 1542.8,993.6 1543.4,993.4 1544.0,993.0 1544.7,992.4 1545.3,991.4 1545.9,989.9 1546.5,987.9 1547.1,985.2 1547.7,981.8 1548.3,977.6 1548.9,972.4 1549.6,966.2 1550.2,959.0 1550.8,950.7 1551.4,941.3 1552.0,930.8 1552.6,919.3 1553.2,906.8 1553.8,893.4 1554.4,879.3 1555.1,864.5 1555.7,849.2 1556.3,833.6 1556.9,817.9 1557.5,802.3 1558.1,786.9 1558.7,772.0 1559.3,757.9 1560.0,744.6 1560.6,732.4 1561.2,721.6 1561.8,712.1 1562.4,704.3 1563.0,698.2 1563.6,694.0 1564.2,691.6 1564.8,691.1 1565.5,692.6 1566.1,696.0 1566.7,701.2 1567.3,708.2 1567.9,716.9 1568.5,727.1 1569.1,738.7 1569.7,751.4 1570.4,765.2 1571.0,779.7 1571.6,794.9 1572.2,810.4 1572.8,826.1 1573.4,841.8 1574.0,857.2 1574.6,872.2 1575.2,886.7 1575.9,900.4 1576.5,913.3 1577.1,925.2 1577.7,936.2 1578.3,946.1 1578.9,954.9 1579.5,962.6 1580.1,969.3 1580.8,974.9 1581.4,979.6 1582.0,983.4 1582.6,986.4 1583.2,988.6 1583.8,990.3 1584.4,991.5 1585.0,992.3 1585.6,992.8 1586.3,993.1 1586.9,993.2 1587.5,993.2 1588.1,993.2 1588.7,993.2 1589.3,993.2 1589.9,993.2 1590.5,993.2 1591.1,993.0 1591.8,992.7 1592.4,992.2 1593.0,991.4 1593.6,990.2 1594.2,988.5 1594.8,986.2 1595.4,983.2 1596.0,979.4 1596.7,974.7 1597.3,969.1 1597.9,962.4 1598.5,954.7 1599.1,945.9 1599.7,936.0 1600.3,925.1 1600.9,913.2 1601.5,900.3 1602.2,886.6 1602.8,872.1 1603.4,857.1 1604.0,841.8 1604.6,826.1 1605.2,810.5 1605.8,795.0 1606.4,779.9 1607.1,765.4 1607.7,751.7 1608.3,738.9 1608.9,727.4 1609.5,717.3 1610.1,708.6 1610.7,701.6 1611.3,696.4 1611.9,693.1 1612.6,691.6 1613.2,692.1 1613.8,694.5 1614.4,698.7 1615.0,704.8 1615.6,712.6 1616.2,722.0 1616.8,732.8 1617.5,745.0 1618.1,758.2 1618.7,772.3 1619.3,787.1 1619.9,802.4 1620.5,818.0 1621.1,833.6 1621.7,849.2 1622.3,864.4 1623.0,879.1 1623.6,893.2 1624.2,906.4 1624.8,918.9 1625.4,930.3 1626.0,940.7 1626.6,950.0 1627.2,958.3 1627.8,965.5 1628.5,971.6 1629.1,976.8 1629.7,981.0 1630.3,984.4 1630.9,987.0 1631.5,989.0 1632.1,990.4 1632.7,991.4 1633.4,992.0 1634.0,992.4 1634.6,992.6 1635.2,992.7 1635.8,992.7 1636.4,992.7 1637.0,992.7 1637.6,992.7 1638.2,992.7 1638.9,992.6 1639.5,992.4 1640.1,992.0 1640.7,991.4 1641.3,990.4 1641.9,988.9 1642.5,987.0 1643.1,984.4 1643.8,981.0 1644.4,976.8 1645.0,971.7 1645.6,965.6 1646.2,958.4 1646.8,950.2 1647.4,940.9 1648.0,930.6 1648.6,919.2 1649.3,906.8 1649.9,893.6 1650.5,879.6 1651.1,864.9 1651.7,849.8 1652.3,834.3 1652.9,818.7 1653.5,803.1 1654.2,787.8 1654.8,773.1 1655.4,758.9 1656.0,745.7 1656.6,733.6 1657.2,722.8 1657.8,713.3 1658.4,705.5 1659.0,699.4 1659.7,695.1 1660.3,692.6 1660.9,692.1 1661.5,693.5 1662.1,696.8 1662.7,701.9 1663.3,708.8 1663.9,717.4 1664.5,727.4 1665.2,738.9 1665.8,751.5 1666.4,765.1 1667.0,779.5 1667.6,794.6 1668.2,810.0 1668.8,825.6 1669.4,841.1 1670.1,856.4 1670.7,871.4 1671.3,885.7 1671.9,899.4 1672.5,912.3 1673.1,924.2 1673.7,935.1 1674.3,944.9 1674.9,953.7 1675.6,961.4 1676.2,968.1 1676.8,973.7 1677.4,978.4 1678.0,982.2 1678.6,985.2 1679.2,987.5 1679.8,989.2 1680.5,990.4 1681.1,991.2 1681.7,991.7 1682.3,992.0 1682.9,992.1 1683.5,992.1 1684.1,992.1 1684.7,992.1 1685.3,992.1 1686.0,992.1 1686.6,992.1 1687.2,991.9 1687.8,991.6 1688.4,991.2 1689.0,990.4 1689.6,989.2 1690.2,987.5 1690.8,985.3 1691.5,982.3 1692.1,978.6 1692.7,974.0 1693.3,968.4 1693.9,961.8 1694.5,954.2 1695.1,945.5 1695.7,935.7 1696.4,924.9 1697.0,913.1 1697.6,900.4 1698.2,886.8 1698.8,872.5 1699.4,857.6 1700.0,842.3 1700.6,826.8 1701.2,811.3 1701.9,795.9 1702.5,780.9 1703.1,766.4 1703.7,752.8 1704.3,740.1 1704.9,728.6 1705.5,718.5 1706.1,709.8 1706.8,702.8 1707.4,697.6 1708.0,694.2 1708.6,692.7 1709.2,693.1 1709.8,695.4 1710.4,699.5 1711.0,705.5 1711.6,713.2 1712.3,722.4 1712.9,733.1 1713.5,745.1 1714.1,758.2 1714.7,772.2 1715.3,786.9 1715.9,802.1 1716.5,817.5 1717.2,833.0 1717.8,848.5 1718.4,863.6 1719.0,878.2 1719.6,892.2 1720.2,905.4 1720.8,917.8 1721.4,929.2 1722.0,939.6 1722.7,948.9 1723.3,957.1 1723.9,964.3 1724.5,970.4 1725.1,975.6 1725.7,979.8 1726.3,983.2 1726.9,985.8 1727.5,987.8 1728.2,989.3 1728.8,990.3 1729.4,990.9 1730.0,991.3 1730.6,991.5 1731.2,991.5 1731.8,991.6 1732.4,991.6 1733.1,991.6 1733.7,991.5 1734.3,991.5 1734.9,991.4 1735.5,991.2 1736.1,990.9 1736.7,990.3 1737.3,989.3 1737.9,987.9 1738.6,986.0 1739.2,983.4 1739.8,980.1 1740.4,976.0 1741.0,970.9 1741.6,964.9 1742.2,957.9 1742.8,949.7 1743.5,940.6 1744.1,930.3 1744.7,919.1 1745.3,906.8 1745.9,893.7 1746.5,879.8 1747.1,865.3 1747.7,850.3 1748.3,834.9 1749.0,819.4 1749.6,804.0 1750.2,788.8 1750.8,774.1 1751.4,760.1 1752.0,746.9 1752.6,734.8 1753.2,724.0 1753.9,714.6 1754.5,706.8 1755.1,700.6 1755.7,696.3 1756.3,693.8 1756.9,693.2 1757.5,694.5 1758.1,697.6 1758.7,702.7 1759.4,709.4 1760.0,717.9 1760.6,727.8 1761.2,739.1 1761.8,751.6 1762.4,765.1 1763.0,779.4 1763.6,794.3 1764.2,809.6 1764.9,825.0 1765.5,840.5 1766.1,855.7 1766.7,870.5 1767.3,884.8 1767.9,898.4 1768.5,911.2 1769.1,923.1 1769.8,933.9 1770.4,943.8 1771.0,952.5 1771.6,960.2 1772.2,966.9 1772.8,972.5 1773.4,977.2 1774.0,981.0 1774.6,984.0 1775.3,986.3 1775.9,988.0 1776.5,989.2 1777.1,990.0 1777.7,990.5 1778.3,990.8 1778.9,990.9 1779.5,991.0 1780.2,991.0 1780.8,991.0 1781.4,991.0 1782.0,990.9 1782.6,990.9 1783.2,990.8 1783.8,990.5 1784.4,990.0 1785.0,989.3 1785.7,988.1 1786.3,986.5 1786.9,984.2 1787.5,981.3 1788.1,977.7 1788.7,973.1 1789.3,967.6 1789.9,961.2 1790.6,953.6 1791.2,945.1 1791.8,935.4 1792.4,924.7 1793.0,913.0 1793.6,900.4 1794.2,886.9 1794.8,872.8 1795.4,858.0 1796.1,842.9 1796.7,827.5 1797.3,812.1 1797.9,796.8 1798.5,781.9 1799.1,767.5 1799.7,753.9 1800.3,741.3 1801.0,729.9 1801.6,719.8 1802.2,711.1 1802.8,704.1 1803.4,698.8 1804.0,695.4 1804.6,693.8 1805.2,694.1 1805.8,696.3 1806.5,700.4 1807.1,706.2 1807.7,713.8 1808.3,722.9 1808.9,733.5 1809.5,745.3 1810.1,758.3 1810.7,772.1 1811.3,786.7 1812.0,801.7 1812.6,817.0 1813.2,832.5 1813.8,847.8 1814.4,862.8 1815.0,877.3 1815.6,891.2 1816.2,904.4 1816.9,916.7 1817.5,928.0 1818.1,938.4 1818.7,947.7 1819.3,955.9 1819.9,963.0 1820.5,969.2 1821.1,974.3 1821.7,978.5 1822.4,981.9 1823.0,984.6 1823.6,986.6 1824.2,988.0 1824.8,989.0 1825.4,989.7 1826.0,990.1 1826.6,990.3 1827.3,990.3 1827.9,990.4 1828.5,990.4 1829.1,990.3 1829.7,990.3 1830.3,990.3 1830.9,990.2 1831.5,990.0 1832.1,989.7 1832.8,989.1 1833.4,988.1 1834.0,986.8 1834.6,984.9 1835.2,982.4 1835.8,979.1 1836.4,975.0 1837.0,970.1 1837.7,964.1 1838.3,957.2 1838.9,949.2 1839.5,940.1 1840.1,930.0 1840.7,918.9 1841.3,906.8 1841.9,893.8 1842.5,880.0 1843.2,865.6 1843.8,850.8 1844.4,835.5 1845.0,820.2 1845.6,804.8 1846.2,789.8 1846.8,775.2 1847.4,761.2 1848.0,748.1 1848.7,736.1 1849.3,725.3 1849.9,715.9 1850.5,708.1 1851.1,701.9 1851.7,697.5 1852.3,695.0 1852.9,694.3 1853.6,695.5 1854.2,698.6 1854.8,703.5 1855.4,710.2 1856.0,718.4 1856.6,728.3 1857.2,739.4 1857.8,751.8 1858.4,765.1 1859.1,779.3 1859.7,794.0 1860.3,809.2 1860.9,824.5 1861.5,839.8 1862.1,854.9 1862.7,869.7 1863.3,883.9 1864.0,897.4 1864.6,910.1 1865.2,921.9 1865.8,932.7 1866.4,942.5 1867.0,951.3 1867.6,958.9 1868.2,965.6 1868.8,971.2 1869.5,975.9 1870.1,979.7 1870.7,982.7 1871.3,985.0 1871.9,986.7 1872.5,987.9 1873.1,988.7 1873.7,989.3 1874.3,989.5 1875.0,989.7 1875.6,989.7 1876.2,989.7 1876.8,989.7 1877.4,989.7 1878.0,989.7 1878.6,989.6 1879.2,989.5 1879.9,989.3 1880.5,988.8 1881.1,988.1 1881.7,986.9 1882.3,985.3 1882.9,983.1 1883.5,980.3 1884.1,976.7 1884.7,972.2 1885.4,966.8 1886.0,960.4 1886.6,953.0 1887.2,944.5 1887.8,935.0 1888.4,924.4 1889.0,912.9 1889.6,900.4 1890.3,887.1 1890.9,873.1 1891.5,858.5 1892.1,843.5 1892.7,828.2 1893.3,812.9 1893.9,797.7 1894.5,782.9 1895.1,768.7 1895.8,755.1 1896.4,742.6 1897.0,731.2 1897.6,721.1 1898.2,712.5 1898.8,705.4 1899.4,700.1 1900.0,696.6 1900.7,695.0 1901.3,695.2 1901.9,697.3 1902.5,701.3 1903.1,707.0 1903.7,714.5 1904.3,723.5 1904.9,733.9 1905.5,745.6 1906.2,758.4 1906.8,772.1 1907.4,786.5 1908.0,801.4 1908.6,816.6 1909.2,831.9 1909.8,847.1 1910.4,862.0 1911.0,876.4 1911.7,890.2 1912.3,903.3 1912.9,915.6 1913.5,926.9 1914.1,937.1 1914.7,946.4 1915.3,954.6 1915.9,961.7 1916.6,967.8 1917.2,973.0 1917.8,977.2 1918.4,980.6 1919.0,983.3 1919.6,985.3 1920.2,986.7 1920.8,987.7 1921.4,988.4 1922.1,988.8 1922.7,989.0 1923.3,989.1 1923.9,989.1 1924.5,989.1 1925.1,989.1 1925.7,989.1 1926.3,989.0 1927.0,988.9 1927.6,988.8 1928.2,988.4 1928.8,987.8 1929.4,986.9 1930.0,985.6 1930.6,983.7 1931.2,981.3 1931.8,978.1 1932.5,974.1 1933.1,969.2 1933.7,963.3 1934.3,956.5 1934.9,948.6 1935.5,939.6 1936.1,929.6 1936.7,918.6 1937.4,906.7 1938.0,893.8 1938.6,880.2 1939.2,866.0 1939.8,851.2 1940.4,836.2 1941.0,820.9 1941.6,805.7 1942.2,790.8 1942.9,776.2 1943.5,762.4 1944.1,749.4 1944.7,737.4 1945.3,726.6 1945.9,717.3 1946.5,709.4 1947.1,703.3 1947.8,698.8 1948.4,696.2 1949.0,695.5 1949.6,696.6 1950.2,699.6 1950.8,704.4 1951.4,710.9 1952.0,719.1 1952.6,728.8 1953.3,739.8 1953.9,752.0 1954.5,765.2 1955.1,779.2 1955.7,793.8 1956.3,808.8 1956.9,824.0 1957.5,839.2 1958.1,854.2 1958.8,868.8 1959.4,882.9 1960.0,896.4 1960.6,909.0 1961.2,920.7 1961.8,931.5 1962.4,941.3 1963.0,950.0 1963.7,957.6 1964.3,964.2 1964.9,969.8 1965.5,974.5 1966.1,978.3 1966.7,981.3 1967.3,983.6 1967.9,985.4 1968.5,986.6 1969.2,987.4 1969.8,987.9 1970.4,988.2 1971.0,988.4 1971.6,988.4 1972.2,988.4 1972.8,988.4 1973.4,988.4 1974.1,988.4 1974.7,988.3 1975.3,988.2 1975.9,988.0 1976.5,987.5 1977.1,986.8 1977.7,985.7 1978.3,984.1 1978.9,982.0 1979.6,979.2 1980.2,975.6 1980.8,971.2 1981.4,965.9 1982.0,959.6 1982.6,952.3 1983.2,943.9 1983.8,934.5 1984.5,924.1 1985.1,912.7 1985.7,900.3 1986.3,887.2 1986.9,873.3 1987.5,858.9 1988.1,844.0 1988.7,828.9 1989.3,813.7 1990.0,798.7 1990.6,784.0 1991.2,769.8 1991.8,756.4 1992.4,743.9 1993.0,732.5 1993.6,722.5 1994.2,713.9 1994.8,706.8 1995.5,701.5 1996.1,698.0 1996.7,696.3 1997.3,696.4 1997.9,698.4 1998.5,702.3 1999.1,707.9 1999.7,715.2 2000.4,724.1 2001.0,734.3 2001.6,745.9 2002.2,758.5 2002.8,772.1 2003.4,786.3 2004.0,801.1 2004.6,816.2 2005.2,831.3 2005.9,846.4 2006.5,861.2 2007.1,875.5 2007.7,889.2 2008.3,902.2 2008.9,914.4 2009.5,925.6 2010.1,935.9 2010.8,945.1 2011.4,953.2 2012.0,960.3 2012.6,966.4 2013.2,971.6 2013.8,975.8 2014.4,979.2 2015.0,981.9 2015.6,983.9 2016.3,985.3 2016.9,986.4 2017.5,987.0 2018.1,987.4 2018.7,987.6 2019.3,987.7 2019.9,987.7 2020.5,987.7 2021.2,987.7 2021.8,987.7 2022.4,987.7 2023.0,987.6 2023.6,987.4 2024.2,987.1 2024.8,986.5 2025.4,985.6 2026.0,984.3 2026.7,982.5 2027.3,980.1 2027.9,976.9 2028.5,973.0 2029.1,968.2 2029.7,962.4 2030.3,955.7 2030.9,947.9 2031.5,939.1 2032.2,929.2 2032.8,918.4 2033.4,906.5 2034.0,893.9 2034.6,880.4 2035.2,866.3 2035.8,851.7 2036.4,836.8 2037.1,821.7 2037.7,806.6 2038.3,791.8 2038.9,777.4 2039.5,763.6 2040.1,750.6 2040.7,738.7 2041.3,728.0 2041.9,718.7 2042.6,710.9 2043.2,704.7 2043.8,700.2 2044.4,697.6 2045.0,696.7 2045.6,697.8 2046.2,700.7 2046.8,705.4 2047.5,711.8 2048.1,719.8 2048.7,729.3 2049.3,740.2 2049.9,752.2 2050.5,765.3 2051.1,779.1 2051.7,793.6 2052.3,808.4 2053.0,823.5 2053.6,838.6 2054.2,853.4 2054.8,868.0 2055.4,882.0 2056.0,895.3 2056.6,907.8 2057.2,919.5 2057.8,930.2 2058.5,939.9 2059.1,948.6 2059.7,956.2 2060.3,962.8 2060.9,968.4 2061.5,973.1 2062.1,976.9 2062.7,979.9 2063.4,982.2 2064.0,984.0 2064.6,985.2 2065.2,986.0 2065.8,986.5 2066.4,986.8 2067.0,987.0 2067.6,987.0 2068.2,987.0 2068.9,987.0 2069.5,987.0 2070.1,987.0 2070.7,986.9 2071.3,986.8 2071.9,986.6 2072.5,986.1 2073.1,985.4 2073.8,984.4 2074.4,982.8 2075.0,980.7 2075.6,978.0 2076.2,974.5 2076.8,970.2 2077.4,965.0 2078.0,958.8 2078.6,951.6 2079.3,943.3 2079.9,934.0 2080.5,923.7 2081.1,912.4 2081.7,900.3 2082.3,887.2 2082.9,873.5 2083.5,859.2 2084.2,844.5 2084.8,829.6 2085.4,814.5 2086.0,799.6 2086.6,785.0 2087.2,771.0 2087.8,757.6 2088.4,745.2 2089.0,733.9 2089.7,723.9 2090.3,715.3 2090.9,708.3 2091.5,702.9 2092.1,699.4 2092.7,697.6 2093.3,697.7 2093.9,699.6 2094.6,703.3 2095.2,708.8 2095.8,716.0 2096.4,724.7 2097.0,734.9 2097.6,746.3 2098.2,758.7 2098.8,772.1 2099.4,786.2 2100.1,800.8 2100.7,815.8 2101.3,830.8 2101.9,845.7 2102.5,860.3 2103.1,874.6 2103.7,888.2 2104.3,901.1 2104.9,913.2 2105.6,924.4 2106.2,934.5 2106.8,943.7 2107.4,951.8 2108.0,958.9 2108.6,965.0 2109.2,970.1 2109.8,974.4 2110.5,977.7 2111.1,980.4 2111.7,982.4 2112.3,983.9 2112.9,984.9 2113.5,985.6 2114.1,986.0 2114.7,986.2 2115.3,986.3 2116.0,986.3 2116.6,986.3 2117.2,986.3 2117.8,986.3 2118.4,986.2 2119.0,986.2 2119.6,986.0 2120.2,985.7 2120.9,985.1 2121.5,984.3 2122.1,983.0 2122.7,981.2 2123.3,978.8 2123.9,975.7 2124.5,971.9 2125.1,967.2 2125.7,961.5 2126.4,954.9 2127.0,947.2 2127.6,938.5 2128.2,928.8 2128.8,918.0 2129.4,906.4 2130.0,893.8 2130.6,880.5 2131.2,866.6 2131.9,852.1 2132.5,837.4 2133.1,822.4 2133.7,807.5 2134.3,792.8 2134.9,778.5 2135.5,764.8 2136.1,752.0 2136.8,740.1 2137.4,729.5 2138.0,720.2 2138.6,712.3 2139.2,706.1 2139.8,701.7 2140.4,699.0 2141.0,698.1 2141.6,699.0 2142.3,701.8 2142.9,706.4 2143.5,712.7 2144.1,720.6 2144.7,729.9 2145.3,740.7 2145.9,752.5 2146.5,765.4 2147.2,779.1 2147.8,793.4 2148.4,808.1 2149.0,823.0 2149.6,837.9 2150.2,852.7 2150.8,867.1 2151.4,881.0 2152.0,894.2 2152.7,906.7 2153.3,918.3 2153.9,928.9 2154.5,938.6 2155.1,947.2 2155.7,954.8 2156.3,961.4 2156.9,966.9 2157.6,971.6 2158.2,975.4 2158.8,978.4 2159.4,980.7 2160.0,982.5 2160.6,983.7 2161.2,984.5 2161.8,985.1 2162.4,985.4 2163.1,985.5 2163.7,985.6 2164.3,985.6 2164.9,985.6 2165.5,985.5 2166.1,985.5 2166.7,985.5 2167.3,985.4 2167.9,985.1 2168.6,984.7 2169.2,984.0 2169.8,983.0 2170.4,981.5 2171.0,979.4 2171.6,976.7 2172.2,973.3 2172.8,969.1 2173.5,963.9 2174.1,957.8 2174.7,950.7 2175.3,942.6 2175.9,933.5 2176.5,923.3 2177.1,912.2 2177.7,900.1 2178.3,887.3 2179.0,873.7 2179.6,859.6 2180.2,845.0 2180.8,830.2 2181.4,815.3 2182.0,800.6 2182.6,786.1 2183.2,772.1 2183.9,758.9 2184.5,746.6 2185.1,735.4 2185.7,725.4 2186.3,716.8 2186.9,709.8 2187.5,704.4 2188.1,700.8 2188.7,699.0 2189.4,699.0 2190.0,700.8 2190.6,704.5 2191.2,709.8 2191.8,716.9 2192.4,725.5 2193.0,735.4 2193.6,746.7 2194.3,759.0 2194.9,772.2 2195.5,786.2 2196.1,800.6 2196.7,815.4 2197.3,830.2 2197.9,845.0 2198.5,859.5 2199.1,873.6 2199.8,887.2 2200.4,900.0 2201.0,912.0 2201.6,923.1 2202.2,933.2 2202.8,942.3 2203.4,950.4 2204.0,957.5 2204.7,963.5 2205.3,968.6 2205.9,972.8 2206.5,976.2 2207.1,978.9 2207.7,980.9 2208.3,982.4 2208.9,983.4 2209.5,984.1 2210.2,984.5 2210.8,984.7 2211.4,984.8 2212.0,984.8 2212.6,984.8 2213.2,984.8 2213.8,984.8 2214.4,984.8 2215.0,984.7 2215.7,984.5 2216.3,984.2 2216.9,983.7 2217.5,982.8 2218.1,981.6 2218.7,979.8 2219.3,977.5 2219.9,974.5 2220.6,970.7 2221.2,966.1 2221.8,960.5 2222.4,954.0 2223.0,946.4"/>
<polyline stroke="#000" stroke-dasharray="18 23" points="388.0,55.0 388.6,55.6 389.2,57.2 389.8,60.0 390.4,63.8 391.1,68.7 391.7,74.6 392.3,81.4 392.9,89.1 393.5,97.7 394.1,107.0 394.7,117.0 395.3,127.7 396.0,138.8 396.6,150.5 397.2,162.5 397.8,174.8 398.4,187.4 399.0,200.0 399.6,212.7 400.2,225.3 400.8,237.8 401.5,250.1 402.1,262.1 402.7,273.7 403.3,284.9 403.9,295.6 404.5,305.8 405.1,315.4 405.7,324.4 406.4,332.6 407.0,340.1 407.6,346.8 408.2,352.8 408.8,357.9 409.4,362.1 410.0,365.5 410.6,368.0 411.2,369.6 411.9,370.3 412.5,370.1 413.1,369.0 413.7,367.0 414.3,364.1 414.9,360.3 415.5,355.6 416.1,350.1 416.7,343.8 417.4,336.7 418.0,328.9 418.6,320.3 419.2,311.1 419.8,301.2 420.4,290.8 421.0,279.8 421.6,268.4 422.3,256.6 422.9,244.5 423.5,232.1 424.1,219.6 424.7,206.9 425.3,194.3 425.9,181.7 426.5,169.3 427.1,157.1 427.8,145.3 428.4,133.9 429.0,122.9 429.6,112.6 430.2,102.9 430.8,94.0 431.4,85.8 432.0,78.6 432.7,72.2 433.3,66.8 433.9,62.5 434.5,59.2 435.1,57.0 435.7,55.8 436.3,55.8 436.9,56.9 437.5,59.1 438.2,62.4 438.8,66.7 439.4,72.1 440.0,78.4 440.6,85.6 441.2,93.8 441.8,102.7 442.4,112.4 443.1,122.7 443.7,133.6 444.3,145.0 444.9,156.9 445.5,169.1 446.1,181.5 446.7,194.1 447.3,206.7 447.9,219.4 448.6,231.9 449.2,244.3 449.8,256.5 450.4,268.3 451.0,279.8 451.6,290.8 452.2,301.2 452.8,311.1 453.4,320.4 454.1,329.0 454.7,336.9 455.3,344.0 455.9,350.4 456.5,355.9 457.1,360.6 457.7,364.5 458.3,367.4 459.0,369.5 459.6,370.7 460.2,370.9 460.8,370.3 461.4,368.7 462.0,366.3 462.6,362.9 463.2,358.7 463.8,353.7 464.5,347.8 465.1,341.1 465.7,333.6 466.3,325.4 466.9,316.6 467.5,307.0 468.1,296.9 468.7,286.2 469.4,275.0 470.0,263.4 470.6,251.4 471.2,239.2 471.8,226.7 472.4,214.1 473.0,201.5 473.6,188.8 474.2,176.3 474.9,164.0 475.5,152.0 476.1,140.3 476.7,129.1 477.3,118.5 477.9,108.5 478.5,99.1 479.1,90.6 479.8,82.8 480.4,76.0 481.0,70.1 481.6,65.2 482.2,61.3 482.8,58.6 483.4,56.9 484.0,56.3 484.6,56.8 485.3,58.4 485.9,61.1 486.5,64.9 487.1,69.7 487.7,75.6 488.3,82.3 488.9,90.0 489.5,98.5 490.1,107.8 490.8,117.8 491.4,128.4 492.0,139.6 492.6,151.2 493.2,163.2 493.8,175.5 494.4,188.0 495.0,200.7 495.7,213.3 496.3,226.0 496.9,238.4 497.5,250.7 498.1,262.7 498.7,274.4 499.3,285.6 499.9,296.3 500.5,306.5 501.2,316.1 501.8,325.1 502.4,333.4 503.0,340.9 503.6,347.7 504.2,353.6 504.8,358.8 505.4,363.0 506.1,366.5 506.7,369.0 507.3,370.6 507.9,371.3 508.5,371.2 509.1,370.1 509.7,368.1 510.3,365.2 510.9,361.5 511.6,356.9 512.2,351.4 512.8,345.1 513.4,338.1 514.0,330.3 514.6,321.7 515.2,312.5 515.8,302.7 516.5,292.3 517.1,281.3 517.7,269.9 518.3,258.1 518.9,246.0 519.5,233.7 520.1,221.1 520.7,208.5 521.3,195.9 522.0,183.3 522.6,170.9 523.2,158.7 523.8,146.8 524.4,135.4 525.0,124.5 525.6,114.1 526.2,104.4 526.8,95.4 527.5,87.2 528.1,79.9 528.7,73.5 529.3,68.1 529.9,63.7 530.5,60.4 531.1,58.1 531.7,56.9 532.4,56.9 533.0,57.9 533.6,60.1 534.2,63.3 534.8,67.6 535.4,72.9 536.0,79.2 536.6,86.4 537.2,94.5 537.9,103.4 538.5,113.0 539.1,123.3 539.7,134.2 540.3,145.6 540.9,157.4 541.5,169.6 542.1,182.0 542.8,194.5 543.4,207.2 544.0,219.8 544.6,232.4 545.2,244.8 545.8,256.9 546.4,268.8 547.0,280.2 547.6,291.2 548.3,301.7 548.9,311.6 549.5,320.9 550.1,329.5 550.7,337.5 551.3,344.6 551.9,351.0 552.5,356.6 553.1,361.3 553.8,365.1 554.4,368.1 555.0,370.2 555.6,371.4 556.2,371.7 556.8,371.1 557.4,369.6 558.0,367.2 558.7,363.9 559.3,359.7 559.9,354.7 560.5,348.8 561.1,342.2 561.7,334.8 562.3,326.6 562.9,317.7 563.5,308.2 564.2,298.1 564.8,287.4 565.4,276.3 566.0,264.7 566.6,252.7 567.2,240.5 567.8,228.1 568.4,215.5 569.1,202.8 569.7,190.2 570.3,177.7 570.9,165.4 571.5,153.4 572.1,141.7 572.7,130.5 573.3,119.8 573.9,109.8 574.6,100.4 575.2,91.8 575.8,84.1 576.4,77.2 577.0,71.3 577.6,66.3 578.2,62.4 578.8,59.6 579.5,57.9 580.1,57.2 580.7,57.7 581.3,59.3 581.9,61.9 582.5,65.7 583.1,70.5 583.7,76.2 584.3,83.0 585.0,90.6 585.6,99.1 586.2,108.3 586.8,118.3 587.4,128.9 588.0,140.0 588.6,151.6 589.2,163.6 589.9,175.9 590.5,188.3 591.1,201.0 591.7,213.6 592.3,226.2 592.9,238.7 593.5,251.0 594.1,263.0 594.7,274.6 595.4,285.9 596.0,296.6 596.6,306.8 597.2,316.5 597.8,325.4 598.4,333.7 599.0,341.3 599.6,348.0 600.2,354.0 600.9,359.2 601.5,363.5 602.1,366.9 602.7,369.5 603.3,371.2 603.9,371.9 604.5,371.8 605.1,370.7 605.8,368.8 606.4,366.0 607.0,362.2 607.6,357.7 608.2,352.2 608.8,346.0 609.4,339.0 610.0,331.2 610.6,322.7 611.3,313.5 611.9,303.7 612.5,293.3 613.1,282.4 613.7,271.1 614.3,259.3 614.9,247.2 615.5,234.9 616.2,222.3 616.8,209.7 617.4,197.1 618.0,184.5 618.6,172.1 619.2,159.9 619.8,148.1 620.4,136.6 621.0,125.7 621.7,115.3 622.3,105.6 622.9,96.6 623.5,88.4 624.1,81.0 624.7,74.6 625.3,69.2 625.9,64.7 626.5,61.3 627.2,59.0 627.8,57.8 628.4,57.7 629.0,58.7 629.6,60.8 630.2,64.0 630.8,68.2 631.4,73.5 632.1,79.7 632.7,86.9 633.3,94.9 633.9,103.8 634.5,113.4 635.1,123.6 635.7,134.5 636.3,145.9 636.9,157.6 637.6,169.8 638.2,182.1 638.8,194.7 639.4,207.3 640.0,220.0 640.6,232.5 641.2,244.9 641.8,257.0 642.5,268.9 643.1,280.3 643.7,291.3 644.3,301.8 644.9,311.7 645.5,321.1 646.1,329.7 646.7,337.6 647.3,344.8 648.0,351.2 648.6,356.8 649.2,361.6 649.8,365.4 650.4,368.5 651.0,370.6 651.6,371.8 652.2,372.1 652.9,371.6 653.5,370.1 654.1,367.7 654.7,364.5 655.3,360.3 655.9,355.3 656.5,349.5 657.1,342.9 657.7,335.5 658.4,327.4 659.0,318.6 659.6,309.1 660.2,299.0 660.8,288.4 661.4,277.2 662.0,265.7 662.6,253.8 663.2,241.6 663.9,229.1 664.5,216.6 665.1,203.9 665.7,191.3 666.3,178.8 666.9,166.5 667.5,154.5 668.1,142.8 668.8,131.6 669.4,120.9 670.0,110.9 670.6,101.5 671.2,92.9 671.8,85.1 672.4,78.2 673.0,72.2 673.6,67.3 674.3,63.3 674.9,60.5 675.5,58.7 676.1,58.0 676.7,58.4 677.3,59.9 677.9,62.6 678.5,66.3 679.2,71.0 679.8,76.7 680.4,83.4 681.0,91.0 681.6,99.4 682.2,108.6 682.8,118.5 683.4,129.1 684.0,140.2 684.7,151.7 685.3,163.7 685.9,175.9 686.5,188.4 687.1,201.0 687.7,213.6 688.3,226.2 688.9,238.7 689.6,251.0 690.2,263.0 690.8,274.6 691.4,285.8 692.0,296.6 692.6,306.8 693.2,316.4 693.8,325.4 694.4,333.7 695.1,341.3 695.7,348.1 696.3,354.1 696.9,359.3 697.5,363.6 698.1,367.1 698.7,369.7 699.3,371.4 700.0,372.2 700.6,372.1 701.2,371.1 701.8,369.2 702.4,366.4 703.0,362.7 703.6,358.1 704.2,352.8 704.8,346.6 705.5,339.6 706.1,331.8 706.7,323.4 707.3,314.2 707.9,304.5 708.5,294.1 709.1,283.2 709.7,271.9 710.3,260.2 711.0,248.1 711.6,235.8 712.2,223.3 712.8,210.7 713.4,198.1 714.0,185.5 714.6,173.1 715.2,161.0 715.9,149.1 716.5,137.7 717.1,126.7 717.7,116.3 718.3,106.6 718.9,97.6 719.5,89.3 720.1,82.0 720.7,75.5 721.4,70.0 722.0,65.6 722.6,62.2 723.2,59.8 723.8,58.5 724.4,58.4 725.0,59.4 725.6,61.4 726.3,64.5 726.9,68.7 727.5,73.9 728.1,80.1 728.7,87.2 729.3,95.2 729.9,104.0 730.5,113.6 731.1,123.8 731.8,134.6 732.4,145.9 733.0,157.7 733.6,169.8 734.2,182.1 734.8,194.7 735.4,207.3 736.0,219.9 736.6,232.4 737.3,244.8 737.9,256.9 738.5,268.7 739.1,280.2 739.7,291.2 740.3,301.7 740.9,311.6 741.5,320.9 742.2,329.6 742.8,337.5 743.4,344.7 744.0,351.1 744.6,356.8 745.2,361.5 745.8,365.5 746.4,368.5 747.0,370.7 747.7,371.9 748.3,372.3 748.9,371.7 749.5,370.3 750.1,368.0 750.7,364.7 751.3,360.6 751.9,355.7 752.6,349.9 753.2,343.4 753.8,336.0 754.4,327.9 755.0,319.1 755.6,309.7 756.2,299.7 756.8,289.1 757.4,278.0 758.1,266.5 758.7,254.6 759.3,242.4 759.9,230.0 760.5,217.4 761.1,204.8 761.7,192.2 762.3,179.8 763.0,167.5 763.6,155.5 764.2,143.8 764.8,132.6 765.4,121.9 766.0,111.8 766.6,102.4 767.2,93.8 767.8,86.0 768.5,79.1 769.1,73.1 769.7,68.1 770.3,64.1 770.9,61.2 771.5,59.4 772.1,58.7 772.7,59.0 773.4,60.5 774.0,63.1 774.6,66.7 775.2,71.4 775.8,77.1 776.4,83.7 777.0,91.3 777.6,99.6 778.2,108.8 778.9,118.7 779.5,129.2 780.1,140.2 780.7,151.8 781.3,163.7 781.9,175.9 782.5,188.3 783.1,200.9 783.7,213.5 784.4,226.1 785.0,238.5 785.6,250.8 786.2,262.7 786.8,274.4 787.4,285.6 788.0,296.4 788.6,306.6 789.3,316.2 789.9,325.2 790.5,333.5 791.1,341.1 791.7,347.9 792.3,353.9 792.9,359.2 793.5,363.5 794.1,367.0 794.8,369.6 795.4,371.4 796.0,372.2 796.6,372.1 797.2,371.1 797.8,369.3 798.4,366.5 799.0,362.9 799.7,358.4 800.3,353.0 800.9,346.9 801.5,339.9 802.1,332.2 802.7,323.8 803.3,314.7 803.9,305.0 804.5,294.7 805.2,283.9 805.8,272.6 806.4,260.9 807.0,248.9 807.6,236.6 808.2,224.1 808.8,211.5 809.4,198.9 810.0,186.4 810.7,174.0 811.3,161.9 811.9,150.0 812.5,138.6 813.1,127.6 813.7,117.2 814.3,107.5 814.9,98.5 815.6,90.2 816.2,82.8 816.8,76.4 817.4,70.9 818.0,66.4 818.6,62.9 819.2,60.5 819.8,59.2 820.4,59.0 821.1,59.9 821.7,61.9 822.3,65.0 822.9,69.2 823.5,74.3 824.1,80.4 824.7,87.5 825.3,95.5 826.0,104.2 826.6,113.7 827.2,123.9 827.8,134.6 828.4,145.9 829.0,157.6 829.6,169.7 830.2,182.0 830.8,194.5 831.5,207.1 832.1,219.6 832.7,232.2 833.3,244.5 833.9,256.6 834.5,268.4 835.1,279.9 835.7,290.9 836.4,301.4 837.0,311.3 837.6,320.6 838.2,329.3 838.8,337.2 839.4,344.4 840.0,350.9 840.6,356.5 841.2,361.3 841.9,365.2 842.5,368.3 843.1,370.5 843.7,371.8 844.3,372.2 844.9,371.7 845.5,370.3 846.1,368.0 846.8,364.8 847.4,360.8 848.0,355.9 848.6,350.1 849.2,343.6 849.8,336.3 850.4,328.3 851.0,319.5 851.6,310.1 852.3,300.1 852.9,289.6 853.5,278.5 854.1,267.1 854.7,255.2 855.3,243.1 855.9,230.7 856.5,218.2 857.1,205.6 857.8,193.1 858.4,180.6 859.0,168.3 859.6,156.3 860.2,144.7 860.8,133.5 861.4,122.8 862.0,112.7 862.7,103.3 863.3,94.7 863.9,86.8 864.5,79.9 865.1,73.9 865.7,68.9 866.3,64.9 866.9,61.9 867.5,60.1 868.2,59.3 868.8,59.6 869.4,61.1 870.0,63.6 870.6,67.2 871.2,71.8 871.8,77.4 872.4,84.0 873.1,91.5 873.7,99.8 874.3,108.9 874.9,118.7 875.5,129.2 876.1,140.2 876.7,151.7 877.3,163.5 877.9,175.7 878.6,188.1 879.2,200.6 879.8,213.2 880.4,225.8 881.0,238.2 881.6,250.4 882.2,262.4 882.8,274.0 883.5,285.2 884.1,296.0 884.7,306.2 885.3,315.8 885.9,324.8 886.5,333.1 887.1,340.7 887.7,347.5 888.3,353.6 889.0,358.8 889.6,363.2 890.2,366.7 890.8,369.4 891.4,371.1 892.0,372.0 892.6,371.9 893.2,371.0 893.8,369.2 894.5,366.5 895.1,362.9 895.7,358.4 896.3,353.1 896.9,347.0 897.5,340.1 898.1,332.5 898.7,324.1 899.4,315.0 900.0,305.4 900.6,295.1 901.2,284.3 901.8,273.1 902.4,261.4 903.0,249.5 903.6,237.2 904.2,224.8 904.9,212.3 905.5,199.7 906.1,187.2 906.7,174.8 907.3,162.7 907.9,150.9 908.5,139.4 909.1,128.5 909.8,118.1 910.4,108.3 911.0,99.3 911.6,91.1 912.2,83.7 912.8,77.2 913.4,71.6 914.0,67.1 914.6,63.6 915.3,61.2 915.9,59.9 916.5,59.6 917.1,60.5 917.7,62.4 918.3,65.5 918.9,69.6 919.5,74.7 920.1,80.7 920.8,87.8 921.4,95.6 922.0,104.3 922.6,113.8 923.2,123.9 923.8,134.6 924.4,145.8 925.0,157.5 925.7,169.5 926.3,181.8 926.9,194.2 927.5,206.8 928.1,219.3 928.7,231.8 929.3,244.1 929.9,256.2 930.5,268.0 931.2,279.4 931.8,290.4 932.4,300.9 933.0,310.8 933.6,320.1 934.2,328.8 934.8,336.8 935.4,344.0 936.1,350.4 936.7,356.1 937.3,360.9 937.9,364.9 938.5,368.0 939.1,370.2 939.7,371.5 940.3,371.9 940.9,371.5 941.6,370.1 942.2,367.8 942.8,364.7 943.4,360.7 944.0,355.8 944.6,350.2 945.2,343.7 945.8,336.4 946.5,328.4 947.1,319.7 947.7,310.4 948.3,300.5 948.9,290.0 949.5,279.0 950.1,267.5 950.7,255.7 951.3,243.6 952.0,231.3 952.6,218.8 953.2,206.3 953.8,193.8 954.4,181.4 955.0,169.1 955.6,157.1 956.2,145.5 956.9,134.3 957.5,123.6 958.1,113.6 958.7,104.2 959.3,95.5 959.9,87.7 960.5,80.7 961.1,74.7 961.7,69.6 962.4,65.6 963.0,62.6 963.6,60.7 964.2,59.9 964.8,60.2 965.4,61.6 966.0,64.1 966.6,67.6 967.2,72.2 967.9,77.7 968.5,84.3 969.1,91.7 969.7,100.0 970.3,109.0 970.9,118.8 971.5,129.2 972.1,140.1 972.8,151.6 973.4,163.4 974.0,175.5 974.6,187.8 975.2,200.3 975.8,212.9 976.4,225.4 977.0,237.8 977.6,250.0 978.3,261.9 978.9,273.5 979.5,284.7 980.1,295.4 980.7,305.6 981.3,315.3 981.9,324.3 982.5,332.6 983.2,340.2 983.8,347.0 984.4,353.1 985.0,358.3 985.6,362.7 986.2,366.3 986.8,368.9 987.4,370.7 988.0,371.6 988.7,371.6 989.3,370.7 989.9,368.9 990.5,366.2 991.1,362.7 991.7,358.3 992.3,353.0 992.9,347.0 993.5,340.1 994.2,332.5 994.8,324.2 995.4,315.2 996.0,305.6 996.6,295.4 997.2,284.7 997.8,273.5 998.4,261.9 999.1,250.0 999.7,237.8 1000.3,225.4 1000.9,212.9 1001.5,200.4 1002.1,187.9 1002.7,175.6 1003.3,163.5 1003.9,151.7 1004.6,140.2 1005.2,129.3 1005.8,118.9 1006.4,109.2 1007.0,100.2 1007.6,91.9 1008.2,84.5 1008.8,78.0 1009.5,72.4 1010.1,67.9 1010.7,64.4 1011.3,61.9 1011.9,60.5 1012.5,60.2 1013.1,61.1 1013.7,63.0 1014.3,65.9 1015.0,70.0 1015.6,75.0 1016.2,81.0 1016.8,88.0 1017.4,95.8 1018.0,104.5 1018.6,113.8 1019.2,123.9 1019.9,134.6 1020.5,145.7 1021.1,157.3 1021.7,169.3 1022.3,181.5 1022.9,193.9 1023.5,206.4 1024.1,218.9 1024.7,231.4 1025.4,243.6 1026.0,255.7 1026.6,267.5 1027.2,278.9 1027.8,289.8 1028.4,300.3 1029.0,310.2 1029.6,319.5 1030.2,328.2 1030.9,336.2 1031.5,343.4 1032.1,349.8 1032.7,355.5 1033.3,360.3 1033.9,364.3 1034.5,367.4 1035.1,369.7 1035.8,371.0 1036.4,371.5 1037.0,371.1 1037.6,369.7 1038.2,367.5 1038.8,364.4 1039.4,360.5 1040.0,355.7 1040.6,350.0 1041.3,343.6 1041.9,336.4 1042.5,328.5 1043.1,319.9 1043.7,310.6 1044.3,300.7 1044.9,290.2 1045.5,279.3 1046.2,267.9 1046.8,256.2 1047.4,244.1 1048.0,231.9 1048.6,219.4 1049.2,206.9 1049.8,194.5 1050.4,182.1 1051.0,169.8 1051.7,157.9 1052.3,146.3 1052.9,135.1 1053.5,124.5 1054.1,114.4 1054.7,105.0 1055.3,96.4 1055.9,88.5 1056.6,81.5 1057.2,75.5 1057.8,70.4 1058.4,66.4 1059.0,63.4 1059.6,61.4 1060.2,60.6 1060.8,60.8 1061.4,62.2 1062.1,64.6 1062.7,68.1 1063.3,72.6 1063.9,78.1 1064.5,84.5 1065.1,91.9 1065.7,100.1 1066.3,109.1 1067.0,118.8 1067.6,129.1 1068.2,140.0 1068.8,151.4 1069.4,163.2 1070.0,175.2 1070.6,187.5 1071.2,200.0 1071.8,212.5 1072.5,224.9 1073.1,237.3 1073.7,249.4 1074.3,261.4 1074.9,272.9 1075.5,284.1 1076.1,294.8 1076.7,305.0 1077.3,314.6 1078.0,323.6 1078.6,331.9 1079.2,339.5 1079.8,346.4 1080.4,352.4 1081.0,357.7 1081.6,362.1 1082.2,365.7 1082.9,368.4 1083.5,370.2 1084.1,371.1 1084.7,371.1 1085.3,370.3 1085.9,368.5 1086.5,365.9 1087.1,362.4 1087.7,358.0 1088.4,352.9 1089.0,346.8 1089.6,340.1 1090.2,332.5 1090.8,324.3 1091.4,315.3 1092.0,305.8 1092.6,295.6 1093.3,284.9 1093.9,273.8 1094.5,262.3 1095.1,250.4 1095.7,238.3 1096.3,225.9 1096.9,213.5 1097.5,201.0 1098.1,188.6 1098.8,176.3 1099.4,164.2 1100.0,152.4 1100.6,141.1 1101.2,130.1 1101.8,119.8 1102.4,110.0 1103.0,101.0 1103.7,92.8 1104.3,85.3 1104.9,78.8 1105.5,73.2 1106.1,68.7 1106.7,65.1 1107.3,62.6 1107.9,61.2 1108.5,60.9 1109.2,61.7 1109.8,63.5 1110.4,66.4 1111.0,70.4 1111.6,75.4 1112.2,81.4 1112.8,88.3 1113.4,96.0 1114.0,104.6 1114.7,113.9 1115.3,123.9 1115.9,134.5 1116.5,145.6 1117.1,157.2 1117.7,169.1 1118.3,181.2 1118.9,193.6 1119.6,206.0 1120.2,218.5 1120.8,230.9 1121.4,243.1 1122.0,255.2 1122.6,266.9 1123.2,278.3 1123.8,289.2 1124.4,299.6 1125.1,309.5 1125.7,318.8 1126.3,327.5 1126.9,335.5 1127.5,342.7 1128.1,349.1 1128.7,354.8 1129.3,359.7 1130.0,363.7 1130.6,366.8 1131.2,369.1 1131.8,370.5 1132.4,371.0 1133.0,370.6 1133.6,369.3 1134.2,367.1 1134.8,364.1 1135.5,360.1 1136.1,355.4 1136.7,349.8 1137.3,343.4 1137.9,336.3 1138.5,328.4 1139.1,319.9 1139.7,310.6 1140.3,300.8 1141.0,290.4 1141.6,279.5 1142.2,268.2 1142.8,256.6 1143.4,244.6 1144.0,232.3 1144.6,220.0 1145.2,207.5 1145.9,195.1 1146.5,182.7 1147.1,170.6 1147.7,158.7 1148.3,147.1 1148.9,135.9 1149.5,125.3 1150.1,115.3 1150.7,105.9 1151.4,97.2 1152.0,89.4 1152.6,82.4 1153.2,76.3 1153.8,71.2 1154.4,67.2 1155.0,64.1 1155.6,62.2 1156.3,61.3 1156.9,61.5 1157.5,62.8 1158.1,65.1 1158.7,68.5 1159.3,73.0 1159.9,78.5 1160.5,84.9 1161.1,92.2 1161.8,100.3 1162.4,109.2 1163.0,118.9 1163.6,129.1 1164.2,140.0 1164.8,151.3 1165.4,163.0 1166.0,175.0 1166.7,187.2 1167.3,199.6 1167.9,212.0 1168.5,224.4 1169.1,236.8 1169.7,248.9 1170.3,260.8 1170.9,272.3 1171.5,283.4 1172.2,294.1 1172.8,304.3 1173.4,313.9 1174.0,322.9 1174.6,331.2 1175.2,338.8 1175.8,345.6 1176.4,351.7 1177.0,357.0 1177.7,361.4 1178.3,365.0 1178.9,367.7 1179.5,369.5 1180.1,370.5 1180.7,370.6 1181.3,369.7 1181.9,368.0 1182.6,365.4 1183.2,362.0 1183.8,357.7 1184.4,352.5 1185.0,346.6 1185.6,339.9 1186.2,332.4 1186.8,324.2 1187.4,315.3 1188.1,305.8 1188.7,295.7 1189.3,285.1 1189.9,274.1 1190.5,262.6 1191.1,250.8 1191.7,238.7 1192.3,226.4 1193.0,214.0 1193.6,201.6 1194.2,189.2 1194.8,177.0 1195.4,164.9 1196.0,153.2 1196.6,141.9 1197.2,131.0 1197.8,120.6 1198.5,110.9 1199.1,101.9 1199.7,93.6 1200.3,86.2 1200.9,79.7 1201.5,74.1 1202.1,69.5 1202.7,65.9 1203.4,63.4 1204.0,62.0 1204.6,61.6 1205.2,62.3 1205.8,64.1 1206.4,67.0 1207.0,70.9 1207.6,75.8 1208.2,81.7 1208.9,88.6 1209.5,96.3 1210.1,104.8 1210.7,114.0 1211.3,123.9 1211.9,134.5 1212.5,145.5 1213.1,157.0 1213.8,168.8 1214.4,180.9 1215.0,193.2 1215.6,205.6 1216.2,218.0 1216.8,230.4 1217.4,242.6 1218.0,254.5 1218.6,266.2 1219.3,277.6 1219.9,288.5 1220.5,298.9 1221.1,308.8 1221.7,318.1 1222.3,326.7 1222.9,334.7 1223.5,341.9 1224.1,348.3 1224.8,354.0 1225.4,358.9 1226.0,362.9 1226.6,366.1 1227.2,368.4 1227.8,369.8 1228.4,370.3 1229.0,369.9 1229.7,368.7 1230.3,366.6 1230.9,363.6 1231.5,359.7 1232.1,355.0 1232.7,349.5 1233.3,343.2 1233.9,336.1 1234.5,328.3 1235.2,319.8 1235.8,310.6 1236.4,300.9 1237.0,290.5 1237.6,279.7 1238.2,268.5 1238.8,256.9 1239.4,244.9 1240.1,232.8 1240.7,220.5 1241.3,208.1 1241.9,195.7 1242.5,183.4 1243.1,171.3 1243.7,159.4 1244.3,147.9 1244.9,136.8 1245.6,126.2 1246.2,116.1 1246.8,106.8 1247.4,98.1 1248.0,90.3 1248.6,83.3 1249.2,77.2 1249.8,72.1 1250.5,68.0 1251.1,64.9 1251.7,62.9 1252.3,62.0 1252.9,62.2 1253.5,63.4 1254.1,65.7 1254.7,69.1 1255.3,73.5 1256.0,78.9 1256.6,85.2 1257.2,92.4 1257.8,100.5 1258.4,109.4 1259.0,118.9 1259.6,129.1 1260.2,139.9 1260.8,151.1 1261.5,162.8 1262.1,174.7 1262.7,186.9 1263.3,199.2 1263.9,211.6 1264.5,223.9 1265.1,236.2 1265.7,248.3 1266.4,260.1 1267.0,271.6 1267.6,282.7 1268.2,293.4 1268.8,303.5 1269.4,313.1 1270.0,322.0 1270.6,330.3 1271.2,337.9 1271.9,344.8 1272.5,350.8 1273.1,356.1 1273.7,360.6 1274.3,364.2 1274.9,366.9 1275.5,368.8 1276.1,369.8 1276.8,369.9 1277.4,369.1 1278.0,367.4 1278.6,364.9 1279.2,361.5 1279.8,357.2 1280.4,352.1 1281.0,346.2 1281.6,339.6 1282.3,332.2 1282.9,324.0 1283.5,315.2 1284.1,305.8 1284.7,295.8 1285.3,285.2 1285.9,274.2 1286.5,262.8 1287.2,251.1 1287.8,239.1 1288.4,226.9 1289.0,214.5 1289.6,202.2 1290.2,189.9 1290.8,177.7 1291.4,165.7 1292.0,154.0 1292.7,142.7 1293.3,131.8 1293.9,121.5 1294.5,111.8 1295.1,102.8 1295.7,94.6 1296.3,87.1 1296.9,80.6 1297.5,75.0 1298.2,70.4 1298.8,66.8 1299.4,64.2 1300.0,62.7 1300.6,62.3 1301.2,63.0 1301.8,64.8 1302.4,67.6 1303.1,71.4 1303.7,76.3 1304.3,82.1 1304.9,88.9 1305.5,96.5 1306.1,105.0 1306.7,114.1 1307.3,124.0 1307.9,134.4 1308.6,145.4 1309.2,156.8 1309.8,168.6 1310.4,180.6 1311.0,192.8 1311.6,205.2 1312.2,217.5 1312.8,229.8 1313.5,242.0 1314.1,253.9 1314.7,265.5 1315.3,276.8 1315.9,287.7 1316.5,298.1 1317.1,307.9 1317.7,317.2 1318.3,325.8 1319.0,333.8 1319.6,341.0 1320.2,347.5 1320.8,353.1 1321.4,358.0 1322.0,362.0 1322.6,365.2 1323.2,367.5 1323.8,369.0 1324.5,369.5 1325.1,369.2 1325.7,368.0 1326.3,365.9 1326.9,363.0 1327.5,359.2 1328.1,354.5 1328.7,349.1 1329.4,342.8 1330.0,335.8 1330.6,328.1 1331.2,319.6 1331.8,310.5 1332.4,300.8 1333.0,290.6 1333.6,279.9 1334.2,268.7 1334.9,257.1 1335.5,245.3 1336.1,233.2 1336.7,221.0 1337.3,208.6 1337.9,196.3 1338.5,184.1 1339.1,172.0 1339.8,160.2 1340.4,148.7 1341.0,137.6 1341.6,127.0 1342.2,117.0 1342.8,107.7 1343.4,99.1 1344.0,91.2 1344.6,84.2 1345.3,78.2 1345.9,73.0 1346.5,68.9 1347.1,65.8 1347.7,63.8 1348.3,62.8 1348.9,62.9 1349.5,64.1 1350.2,66.4 1350.8,69.7 1351.4,74.0 1352.0,79.4 1352.6,85.6 1353.2,92.8 1353.8,100.8 1354.4,109.6 1355.0,119.0 1355.7,129.2 1356.3,139.8 1356.9,151.0 1357.5,162.6 1358.1,174.4 1358.7,186.5 1359.3,198.8 1359.9,211.1 1360.5,223.4 1361.2,235.6 1361.8,247.6 1362.4,259.4 1363.0,270.9 1363.6,281.9 1364.2,292.6 1364.8,302.7 1365.4,312.2 1366.1,321.1 1366.7,329.4 1367.3,337.0 1367.9,343.8 1368.5,349.9 1369.1,355.2 1369.7,359.6 1370.3,363.3 1370.9,366.0 1371.6,367.9 1372.2,368.9 1372.8,369.1 1373.4,368.3 1374.0,366.7 1374.6,364.2 1375.2,360.9 1375.8,356.7 1376.5,351.6 1377.1,345.8 1377.7,339.2 1378.3,331.9 1378.9,323.8 1379.5,315.1 1380.1,305.7 1380.7,295.8 1381.3,285.3 1382.0,274.4 1382.6,263.1 1383.2,251.4 1383.8,239.4 1384.4,227.3 1385.0,215.0 1385.6,202.7 1386.2,190.5 1386.9,178.4 1387.5,166.4 1388.1,154.8 1388.7,143.5 1389.3,132.7 1389.9,122.4 1390.5,112.7 1391.1,103.8 1391.7,95.5 1392.4,88.1 1393.0,81.6 1393.6,76.0 1394.2,71.3 1394.8,67.7 1395.4,65.1 1396.0,63.6 1396.6,63.2 1397.2,63.8 1397.9,65.5 1398.5,68.3 1399.1,72.1 1399.7,76.8 1400.3,82.6 1400.9,89.3 1401.5,96.9 1402.1,105.2 1402.8,114.3 1403.4,124.1 1404.0,134.5 1404.6,145.3 1405.2,156.7 1405.8,168.4 1406.4,180.3 1407.0,192.5 1407.6,204.7 1408.3,217.0 1408.9,229.2 1409.5,241.3 1410.1,253.2 1410.7,264.8 1411.3,276.1 1411.9,286.9 1412.5,297.2 1413.2,307.1 1413.8,316.3 1414.4,324.9 1415.0,332.8 1415.6,340.0 1416.2,346.5 1416.8,352.2 1417.4,357.0 1418.0,361.1 1418.7,364.3 1419.3,366.6 1419.9,368.1 1420.5,368.7 1421.1,368.4 1421.7,367.2 1422.3,365.2 1422.9,362.3 1423.6,358.5 1424.2,353.9 1424.8,348.5 1425.4,342.4 1426.0,335.4 1426.6,327.7 1427.2,319.4 1427.8,310.4 1428.4,300.8 1429.1,290.6 1429.7,279.9 1430.3,268.8 1430.9,257.4 1431.5,245.6 1432.1,233.6 1432.7,221.4 1433.3,209.2 1434.0,196.9 1434.6,184.7 1435.2,172.7 1435.8,160.9 1436.4,149.5 1437.0,138.5 1437.6,127.9 1438.2,118.0 1438.8,108.6 1439.5,100.0 1440.1,92.2 1440.7,85.2 1441.3,79.2 1441.9,74.0 1442.5,69.9 1443.1,66.8 1443.7,64.7 1444.3,63.7 1445.0,63.8 1445.6,64.9 1446.2,67.1 1446.8,70.4 1447.4,74.6 1448.0,79.9 1448.6,86.1 1449.2,93.2 1449.9,101.1 1450.5,109.8 1451.1,119.2 1451.7,129.2 1452.3,139.8 1452.9,150.9 1453.5,162.4 1454.1,174.2 1454.7,186.2 1455.4,198.4 1456.0,210.6 1456.6,222.9 1457.2,235.0 1457.8,247.0 1458.4,258.7 1459.0,270.1 1459.6,281.1 1460.3,291.7 1460.9,301.8 1461.5,311.3 1462.1,320.2 1462.7,328.4 1463.3,336.0 1463.9,342.8 1464.5,348.9 1465.1,354.2 1465.8,358.6 1466.4,362.3 1467.0,365.0 1467.6,367.0 1468.2,368.0 1468.8,368.2 1469.4,367.5 1470.0,365.9 1470.7,363.4 1471.3,360.1 1471.9,356.0 1472.5,351.0 1473.1,345.3 1473.7,338.7 1474.3,331.5 1474.9,323.5 1475.5,314.8 1476.2,305.5 1476.8,295.7 1477.4,285.3 1478.0,274.5 1478.6,263.2 1479.2,251.6 1479.8,239.8 1480.4,227.7 1481.0,215.5 1481.7,203.3 1482.3,191.1 1482.9,179.0 1483.5,167.2 1484.1,155.6 1484.7,144.4 1485.3,133.6 1485.9,123.3 1486.6,113.7 1487.2,104.7 1487.8,96.5 1488.4,89.1 1489.0,82.6 1489.6,77.0 1490.2,72.3 1490.8,68.7 1491.4,66.1 1492.1,64.5 1492.7,64.1 1493.3,64.6 1493.9,66.3 1494.5,69.0 1495.1,72.7 1495.7,77.5 1496.3,83.1 1497.0,89.8 1497.6,97.2 1498.2,105.5 1498.8,114.5 1499.4,124.2 1500.0,134.5 1500.6,145.3 1501.2,156.6 1501.8,168.2 1502.5,180.0 1503.1,192.1 1503.7,204.3 1504.3,216.5 1504.9,228.7 1505.5,240.7 1506.1,252.5 1506.7,264.0 1507.3,275.2 1508.0,286.0 1508.6,296.3 1509.2,306.1 1509.8,315.3 1510.4,323.9 1511.0,331.8 1511.6,339.0 1512.2,345.4 1512.9,351.1 1513.5,356.0 1514.1,360.0 1514.7,363.2 1515.3,365.6 1515.9,367.1 1516.5,367.7 1517.1,367.5 1517.7,366.3 1518.4,364.4 1519.0,361.5 1519.6,357.8 1520.2,353.3 1520.8,348.0 1521.4,341.8 1522.0,335.0 1522.6,327.4 1523.3,319.1 1523.9,310.1 1524.5,300.6 1525.1,290.5 1525.7,280.0 1526.3,268.9 1526.9,257.6 1527.5,245.9 1528.1,233.9 1528.8,221.8 1529.4,209.7 1530.0,197.5 1530.6,185.4 1531.2,173.4 1531.8,161.7 1532.4,150.3 1533.0,139.4 1533.7,128.9 1534.3,118.9 1534.9,109.6 1535.5,101.1 1536.1,93.2 1536.7,86.3 1537.3,80.2 1537.9,75.1 1538.5,70.9 1539.2,67.8 1539.8,65.7 1540.4,64.6 1541.0,64.7 1541.6,65.8 1542.2,67.9 1542.8,71.1 1543.4,75.3 1544.0,80.5 1544.7,86.6 1545.3,93.6 1545.9,101.5 1546.5,110.1 1547.1,119.4 1547.7,129.3 1548.3,139.9 1548.9,150.9 1549.6,162.2 1550.2,174.0 1550.8,185.9 1551.4,198.0 1552.0,210.2 1552.6,222.3 1553.2,234.4 1553.8,246.3 1554.4,257.9 1555.1,269.3 1555.7,280.2 1556.3,290.8 1556.9,300.8 1557.5,310.3 1558.1,319.2 1558.7,327.4 1559.3,334.9 1560.0,341.8 1560.6,347.8 1561.2,353.1 1561.8,357.6 1562.4,361.2 1563.0,364.0 1563.6,365.9 1564.2,367.0 1564.8,367.2 1565.5,366.5 1566.1,365.0 1566.7,362.6 1567.3,359.4 1567.9,355.3 1568.5,350.4 1569.1,344.7 1569.7,338.2 1570.4,331.0 1571.0,323.1 1571.6,314.5 1572.2,305.3 1572.8,295.6 1573.4,285.3 1574.0,274.5 1574.6,263.3 1575.2,251.8 1575.9,240.1 1576.5,228.1 1577.1,216.0 1577.7,203.8 1578.3,191.7 1578.9,179.7 1579.5,167.9 1580.1,156.4 1580.8,145.2 1581.4,134.5 1582.0,124.3 1582.6,114.7 1583.2,105.8 1583.8,97.6 1584.4,90.2 1585.0,83.7 1585.6,78.1 1586.3,73.4 1586.9,69.7 1587.5,67.1 1588.1,65.5 1588.7,65.0 1589.3,65.5 1589.9,67.1 1590.5,69.8 1591.1,73.5 1591.8,78.1 1592.4,83.7 1593.0,90.3 1593.6,97.7 1594.2,105.9 1594.8,114.8 1595.4,124.4 1596.0,134.6 1596.7,145.3 1597.3,156.5 1597.9,168.0 1598.5,179.8 1599.1,191.8 1599.7,203.9 1600.3,216.0 1600.9,228.1 1601.5,240.0 1602.2,251.8 1602.8,263.2 1603.4,274.4 1604.0,285.1 1604.6,295.4 1605.2,305.1 1605.8,314.3 1606.4,322.8 1607.1,330.7 1607.7,337.9 1608.3,344.3 1608.9,350.0 1609.5,354.9 1610.1,358.9 1610.7,362.1 1611.3,364.5 1611.9,366.0 1612.6,366.7 1613.2,366.5 1613.8,365.4 1614.4,363.4 1615.0,360.6 1615.6,357.0 1616.2,352.5 1616.8,347.3 1617.5,341.2 1618.1,334.4 1618.7,326.9 1619.3,318.7 1619.9,309.9 1620.5,300.4 1621.1,290.4 1621.7,279.9 1622.3,269.0 1623.0,257.7 1623.6,246.1 1624.2,234.3 1624.8,222.3 1625.4,210.2 1626.0,198.1 1626.6,186.0 1627.2,174.2 1627.8,162.5 1628.5,151.2 1629.1,140.3 1629.7,129.8 1630.3,119.9 1630.9,110.7 1631.5,102.1 1632.1,94.3 1632.7,87.4 1633.4,81.3 1634.0,76.2 1634.6,72.0 1635.2,68.8 1635.8,66.7 1636.4,65.7 1637.0,65.6 1637.6,66.7 1638.2,68.8 1638.9,71.9 1639.5,76.0 1640.1,81.1 1640.7,87.2 1641.3,94.1 1641.9,101.9 1642.5,110.4 1643.1,119.6 1643.8,129.5 1644.4,139.9 1645.0,150.8 1645.6,162.1 1646.2,173.7 1646.8,185.6 1647.4,197.6 1648.0,209.7 1648.6,221.8 1649.3,233.7 1649.9,245.6 1650.5,257.2 1651.1,268.4 1651.7,279.3 1652.3,289.8 1652.9,299.8 1653.5,309.2 1654.2,318.1 1654.8,326.3 1655.4,333.8 1656.0,340.6 1656.6,346.7 1657.2,351.9 1657.8,356.4 1658.4,360.0 1659.0,362.8 1659.7,364.8 1660.3,365.9 1660.9,366.1 1661.5,365.5 1662.1,364.0 1662.7,361.7 1663.3,358.5 1663.9,354.5 1664.5,349.6 1665.2,344.0 1665.8,337.6 1666.4,330.5 1667.0,322.7 1667.6,314.2 1668.2,305.1 1668.8,295.4 1669.4,285.2 1670.1,274.5 1670.7,263.4 1671.3,252.0 1671.9,240.3 1672.5,228.5 1673.1,216.4 1673.7,204.4 1674.3,192.3 1674.9,180.4 1675.6,168.7 1676.2,157.2 1676.8,146.1 1677.4,135.5 1678.0,125.3 1678.6,115.7 1679.2,106.9 1679.8,98.7 1680.5,91.3 1681.1,84.8 1681.7,79.2 1682.3,74.5 1682.9,70.9 1683.5,68.2 1684.1,66.6 1684.7,66.0 1685.3,66.5 1686.0,68.1 1686.6,70.7 1687.2,74.3 1687.8,78.8 1688.4,84.4 1689.0,90.8 1689.6,98.2 1690.2,106.3 1690.8,115.1 1691.5,124.6 1692.1,134.7 1692.7,145.3 1693.3,156.4 1693.9,167.8 1694.5,179.5 1695.1,191.4 1695.7,203.4 1696.4,215.5 1697.0,227.5 1697.6,239.3 1698.2,251.0 1698.8,262.4 1699.4,273.5 1700.0,284.2 1700.6,294.4 1701.2,304.1 1701.9,313.2 1702.5,321.7 1703.1,329.6 1703.7,336.7 1704.3,343.1 1704.9,348.8 1705.5,353.7 1706.1,357.7 1706.8,360.9 1707.4,363.3 1708.0,364.9 1708.6,365.6 1709.2,365.4 1709.8,364.3 1710.4,362.4 1711.0,359.7 1711.6,356.1 1712.3,351.7 1712.9,346.5 1713.5,340.6 1714.1,333.8 1714.7,326.4 1715.3,318.3 1715.9,309.5 1716.5,300.2 1717.2,290.3 1717.8,279.9 1718.4,269.0 1719.0,257.8 1719.6,246.3 1720.2,234.6 1720.8,222.7 1721.4,210.7 1722.0,198.6 1722.7,186.7 1723.3,174.9 1723.9,163.3 1724.5,152.1 1725.1,141.2 1725.7,130.8 1726.3,121.0 1726.9,111.8 1727.5,103.2 1728.2,95.5 1728.8,88.5 1729.4,82.5 1730.0,77.3 1730.6,73.2 1731.2,70.0 1731.8,67.8 1732.4,66.7 1733.1,66.7 1733.7,67.7 1734.3,69.7 1734.9,72.8 1735.5,76.8 1736.1,81.9 1736.7,87.8 1737.3,94.7 1737.9,102.4 1738.6,110.8 1739.2,119.9 1739.8,129.7 1740.4,140.0 1741.0,150.8 1741.6,162.0 1742.2,173.5 1742.8,185.3 1743.5,197.2 1744.1,209.2 1744.7,221.2 1745.3,233.1 1745.9,244.8 1746.5,256.4 1747.1,267.6 1747.7,278.4 1748.3,288.8 1749.0,298.8 1749.6,308.2 1750.2,317.0 1750.8,325.1 1751.4,332.6 1752.0,339.4 1752.6,345.4 1753.2,350.7 1753.9,355.2 1754.5,358.8 1755.1,361.6 1755.7,363.6 1756.3,364.7 1756.9,365.0 1757.5,364.4 1758.1,363.0 1758.7,360.7 1759.4,357.5 1760.0,353.6 1760.6,348.8 1761.2,343.2 1761.8,336.9 1762.4,329.9 1763.0,322.1 1763.6,313.7 1764.2,304.7 1764.9,295.1 1765.5,285.0 1766.1,274.5 1766.7,263.5 1767.3,252.2 1767.9,240.6 1768.5,228.8 1769.1,216.9 1769.8,204.9 1770.4,193.0 1771.0,181.1 1771.6,169.5 1772.2,158.1 1772.8,147.0 1773.4,136.4 1774.0,126.3 1774.6,116.8 1775.3,108.0 1775.9,99.8 1776.5,92.5 1777.1,86.0 1777.7,80.4 1778.3,75.7 1778.9,72.0 1779.5,69.4 1780.2,67.7 1780.8,67.1 1781.4,67.6 1782.0,69.1 1782.6,71.6 1783.2,75.1 1783.8,79.6 1784.4,85.1 1785.0,91.5 1785.7,98.7 1786.3,106.7 1786.9,115.5 1787.5,124.9 1788.1,134.9 1788.7,145.4 1789.3,156.4 1789.9,167.7 1790.6,179.3 1791.2,191.1 1791.8,203.0 1792.4,215.0 1793.0,226.9 1793.6,238.7 1794.2,250.3 1794.8,261.6 1795.4,272.6 1796.1,283.2 1796.7,293.3 1797.3,303.0 1797.9,312.1 1798.5,320.5 1799.1,328.3 1799.7,335.5 1800.3,341.9 1801.0,347.5 1801.6,352.4 1802.2,356.4 1802.8,359.7 1803.4,362.1 1804.0,363.6 1804.6,364.4 1805.2,364.2 1805.8,363.2 1806.5,361.4 1807.1,358.7 1807.7,355.2 1808.3,350.8 1808.9,345.7 1809.5,339.8 1810.1,333.2 1810.7,325.8 1811.3,317.8 1812.0,309.1 1812.6,299.8 1813.2,290.0 1813.8,279.7 1814.4,269.0 1815.0,257.9 1815.6,246.5 1816.2,234.9 1816.9,223.0 1817.5,211.1 1818.1,199.2 1818.7,187.3 1819.3,175.6 1819.9,164.1 1820.5,153.0 1821.1,142.2 1821.7,131.8 1822.4,122.0 1823.0,112.9 1823.6,104.4 1824.2,96.7 1824.8,89.7 1825.4,83.7 1826.0,78.6 1826.6,74.4 1827.3,71.2 1827.9,69.0 1828.5,67.9 1829.1,67.8 1829.7,68.7 1830.3,70.7 1830.9,73.7 1831.5,77.7 1832.1,82.7 1832.8,88.5 1833.4,95.3 1834.0,102.9 1834.6,111.2 1835.2,120.3 1835.8,129.9 1836.4,140.2 1837.0,150.9 1837.7,162.0 1838.3,173.4 1838.9,185.0 1839.5,196.9 1840.1,208.7 1840.7,220.6 1841.3,232.5 1841.9,244.1 1842.5,255.5 1843.2,266.7 1843.8,277.5 1844.4,287.8 1845.0,297.7 1845.6,307.0 1846.2,315.8 1846.8,323.9 1847.4,331.4 1848.0,338.1 1848.7,344.1 1849.3,349.4 1849.9,353.8 1850.5,357.5 1851.1,360.3 1851.7,362.3 1852.3,363.5 1852.9,363.8 1853.6,363.2 1854.2,361.8 1854.8,359.6 1855.4,356.5 1856.0,352.6 1856.6,347.9 1857.2,342.4 1857.8,336.2 1858.4,329.2 1859.1,321.6 1859.7,313.3 1860.3,304.3 1860.9,294.9 1861.5,284.9 1862.1,274.4 1862.7,263.5 1863.3,252.3 1864.0,240.8 1864.6,229.1 1865.2,217.3 1865.8,205.4 1866.4,193.6 1867.0,181.8 1867.6,170.3 1868.2,158.9 1868.8,148.0 1869.5,137.4 1870.1,127.4 1870.7,117.9 1871.3,109.1 1871.9,101.0 1872.5,93.7 1873.1,87.2 1873.7,81.6 1874.3,77.0 1875.0,73.3 1875.6,70.6 1876.2,68.9 1876.8,68.3 1877.4,68.7 1878.0,70.1 1878.6,72.6 1879.2,76.1 1879.9,80.5 1880.5,85.9 1881.1,92.2 1881.7,99.3 1882.3,107.2 1882.9,115.9 1883.5,125.2 1884.1,135.1 1884.7,145.5 1885.4,156.4 1886.0,167.6 1886.6,179.1 1887.2,190.8 1887.8,202.6 1888.4,214.4 1889.0,226.3 1889.6,238.0 1890.3,249.5 1890.9,260.7 1891.5,271.7 1892.1,282.2 1892.7,292.3 1893.3,301.9 1893.9,310.9 1894.5,319.3 1895.1,327.1 1895.8,334.2 1896.4,340.6 1897.0,346.2 1897.6,351.0 1898.2,355.1 1898.8,358.3 1899.4,360.8 1900.0,362.3 1900.7,363.1 1901.3,363.0 1901.9,362.0 1902.5,360.2 1903.1,357.6 1903.7,354.1 1904.3,349.9 1904.9,344.8 1905.5,339.0 1906.2,332.4 1906.8,325.2 1907.4,317.2 1908.0,308.6 1908.6,299.5 1909.2,289.8 1909.8,279.6 1910.4,269.0 1911.0,258.0 1911.7,246.7 1912.3,235.1 1912.9,223.4 1913.5,211.6 1914.1,199.8 1914.7,188.0 1915.3,176.4 1915.9,165.0 1916.6,153.9 1917.2,143.2 1917.8,132.9 1918.4,123.2 1919.0,114.0 1919.6,105.6 1920.2,97.9 1920.8,91.0 1921.4,85.0 1922.1,79.8 1922.7,75.7 1923.3,72.5 1923.9,70.3 1924.5,69.1 1925.1,69.0 1925.7,69.9 1926.3,71.8 1927.0,74.7 1927.6,78.6 1928.2,83.5 1928.8,89.3 1929.4,96.0 1930.0,103.5 1930.6,111.7 1931.2,120.6 1931.8,130.2 1932.5,140.3 1933.1,150.9 1933.7,161.9 1934.3,173.2 1934.9,184.8 1935.5,196.5 1936.1,208.3 1936.7,220.1 1937.4,231.8 1938.0,243.4 1938.6,254.7 1939.2,265.8 1939.8,276.5 1940.4,286.8 1941.0,296.6 1941.6,305.8 1942.2,314.6 1942.9,322.6 1943.5,330.1 1944.1,336.8 1944.7,342.8 1945.3,348.0 1945.9,352.5 1946.5,356.1 1947.1,359.0 1947.8,361.0 1948.4,362.1 1949.0,362.5 1949.6,362.0 1950.2,360.6 1950.8,358.4 1951.4,355.4 1952.0,351.6 1952.6,346.9 1953.3,341.5 1953.9,335.4 1954.5,328.5 1955.1,320.9 1955.7,312.7 1956.3,303.9 1956.9,294.5 1957.5,284.6 1958.1,274.3 1958.8,263.5 1959.4,252.4 1960.0,241.0 1960.6,229.4 1961.2,217.7 1961.8,205.9 1962.4,194.2 1963.0,182.5 1963.7,171.0 1964.3,159.8 1964.9,148.9 1965.5,138.5 1966.1,128.5 1966.7,119.1 1967.3,110.3 1967.9,102.3 1968.5,95.0 1969.2,88.5 1969.8,83.0 1970.4,78.3 1971.0,74.6 1971.6,71.9 1972.2,70.2 1972.8,69.5 1973.4,69.9 1974.1,71.3 1974.7,73.7 1975.3,77.1 1975.9,81.4 1976.5,86.7 1977.1,92.9 1977.7,100.0 1978.3,107.8 1978.9,116.3 1979.6,125.5 1980.2,135.3 1980.8,145.6 1981.4,156.4 1982.0,167.5 1982.6,178.9 1983.2,190.5 1983.8,202.2 1984.5,213.9 1985.1,225.7 1985.7,237.3 1986.3,248.7 1986.9,259.8 1987.5,270.7 1988.1,281.2 1988.7,291.2 1989.3,300.7 1990.0,309.7 1990.6,318.0 1991.2,325.8 1991.8,332.8 1992.4,339.2 1993.0,344.8 1993.6,349.6 1994.2,353.7 1994.8,356.9 1995.5,359.4 1996.1,361.0 1996.7,361.7 1997.3,361.7 1997.9,360.7 1998.5,359.0 1999.1,356.4 1999.7,353.0 2000.4,348.8 2001.0,343.8 2001.6,338.1 2002.2,331.6 2002.8,324.5 2003.4,316.6 2004.0,308.1 2004.6,299.1 2005.2,289.5 2005.9,279.4 2006.5,268.9 2007.1,258.0 2007.7,246.8 2008.3,235.4 2008.9,223.8 2009.5,212.1 2010.1,200.3 2010.8,188.7 2011.4,177.1 2012.0,165.8 2012.6,154.8 2013.2,144.2 2013.8,134.0 2014.4,124.3 2015.0,115.2 2015.6,106.8 2016.3,99.2 2016.9,92.3 2017.5,86.3 2018.1,81.2 2018.7,77.0 2019.3,73.8 2019.9,71.6 2020.5,70.4 2021.2,70.2 2021.8,71.0 2022.4,72.9 2023.0,75.8 2023.6,79.6 2024.2,84.4 2024.8,90.1 2025.4,96.7 2026.0,104.1 2026.7,112.2 2027.3,121.1 2027.9,130.5 2028.5,140.5 2029.1,151.0 2029.7,161.9 2030.3,173.1 2030.9,184.5 2031.5,196.2 2032.2,207.8 2032.8,219.5 2033.4,231.1 2034.0,242.6 2034.6,253.9 2035.2,264.8 2035.8,275.5 2036.4,285.7 2037.1,295.4 2037.7,304.6 2038.3,313.3 2038.9,321.3 2039.5,328.7 2040.1,335.4 2040.7,341.4 2041.3,346.6 2041.9,351.0 2042.6,354.7 2043.2,357.5 2043.8,359.6 2044.4,360.7 2045.0,361.1 2045.6,360.6 2046.2,359.3 2046.8,357.2 2047.5,354.2 2048.1,350.5 2048.7,345.9 2049.3,340.6 2049.9,334.5 2050.5,327.7 2051.1,320.3 2051.7,312.1 2052.3,303.4 2053.0,294.1 2053.6,284.3 2054.2,274.1 2054.8,263.4 2055.4,252.5 2056.0,241.2 2056.6,229.7 2057.2,218.1 2057.8,206.4 2058.5,194.8 2059.1,183.2 2059.7,171.9 2060.3,160.7 2060.9,149.9 2061.5,139.5 2062.1,129.6 2062.7,120.3 2063.4,111.6 2064.0,103.6 2064.6,96.3 2065.2,89.9 2065.8,84.3 2066.4,79.7 2067.0,76.0 2067.6,73.2 2068.2,71.5 2068.9,70.8 2069.5,71.1 2070.1,72.5 2070.7,74.8 2071.3,78.1 2071.9,82.4 2072.5,87.6 2073.1,93.7 2073.8,100.7 2074.4,108.4 2075.0,116.8 2075.6,125.9 2076.2,135.6 2076.8,145.8 2077.4,156.5 2078.0,167.4 2078.6,178.7 2079.3,190.2 2079.9,201.8 2080.5,213.4 2081.1,225.0 2081.7,236.6 2082.3,247.9 2082.9,259.0 2083.5,269.7 2084.2,280.1 2084.8,290.0 2085.4,299.5 2086.0,308.4 2086.6,316.7 2087.2,324.4 2087.8,331.4 2088.4,337.7 2089.0,343.3 2089.7,348.2 2090.3,352.2 2090.9,355.5 2091.5,357.9 2092.1,359.5 2092.7,360.3 2093.3,360.3 2093.9,359.4 2094.6,357.7 2095.2,355.2 2095.8,351.8 2096.4,347.7 2097.0,342.8 2097.6,337.2 2098.2,330.8 2098.8,323.7 2099.4,315.9 2100.1,307.6 2100.7,298.6 2101.3,289.1 2101.9,279.2 2102.5,268.8 2103.1,258.0 2103.7,246.9 2104.3,235.6 2104.9,224.1 2105.6,212.5 2106.2,200.9 2106.8,189.3 2107.4,177.9 2108.0,166.7 2108.6,155.8 2109.2,145.2 2109.8,135.1 2110.5,125.5 2111.1,116.5 2111.7,108.1 2112.3,100.5 2112.9,93.7 2113.5,87.7 2114.1,82.6 2114.7,78.4 2115.3,75.2 2116.0,72.9 2116.6,71.7 2117.2,71.5 2117.8,72.3 2118.4,74.1 2119.0,76.9 2119.6,80.7 2120.2,85.4 2120.9,91.0 2121.5,97.5 2122.1,104.8 2122.7,112.8 2123.3,121.6 2123.9,130.9 2124.5,140.8 2125.1,151.2 2125.7,161.9 2126.4,173.0 2127.0,184.3 2127.6,195.8 2128.2,207.4 2128.8,219.0 2129.4,230.5 2130.0,241.9 2130.6,253.0 2131.2,263.9 2131.9,274.4 2132.5,284.6 2133.1,294.2 2133.7,303.4 2134.3,312.0 2134.9,320.0 2135.5,327.3 2136.1,333.9 2136.8,339.9 2137.4,345.1 2138.0,349.5 2138.6,353.2 2139.2,356.0 2139.8,358.1 2140.4,359.3 2141.0,359.7 2141.6,359.2 2142.3,358.0 2142.9,355.9 2143.5,353.0 2144.1,349.3 2144.7,344.8 2145.3,339.6 2145.9,333.6 2146.5,326.9 2147.2,319.5 2147.8,311.5 2148.4,302.9 2149.0,293.7 2149.6,284.0 2150.2,273.9 2150.8,263.4 2151.4,252.5 2152.0,241.3 2152.7,230.0 2153.3,218.5 2153.9,206.9 2154.5,195.4 2155.1,184.0 2155.7,172.7 2156.3,161.6 2156.9,150.9 2157.6,140.6 2158.2,130.8 2158.8,121.5 2159.4,112.9 2160.0,104.9 2160.6,97.7 2161.2,91.3 2161.8,85.7 2162.4,81.1 2163.1,77.4 2163.7,74.7 2164.3,72.9 2164.9,72.2 2165.5,72.4 2166.1,73.7 2166.7,76.0 2167.3,79.3 2167.9,83.5 2168.6,88.6 2169.2,94.6 2169.8,101.5 2170.4,109.1 2171.0,117.4 2171.6,126.4 2172.2,136.0 2172.8,146.0 2173.5,156.5 2174.1,167.4 2174.7,178.6 2175.3,189.9 2175.9,201.4 2176.5,212.9 2177.1,224.4 2177.7,235.8 2178.3,247.1 2179.0,258.0 2179.6,268.7 2180.2,279.0 2180.8,288.9 2181.4,298.2 2182.0,307.1 2182.6,315.4 2183.2,323.0 2183.9,330.0 2184.5,336.3 2185.1,341.8 2185.7,346.6 2186.3,350.7 2186.9,353.9 2187.5,356.4 2188.1,358.0 2188.7,358.8 2189.4,358.8 2190.0,358.0 2190.6,356.3 2191.2,353.9 2191.8,350.6 2192.4,346.5 2193.0,341.7 2193.6,336.1 2194.3,329.8 2194.9,322.9 2195.5,315.2 2196.1,306.9 2196.7,298.1 2197.3,288.7 2197.9,278.9 2198.5,268.6 2199.1,257.9 2199.8,247.0 2200.4,235.8 2201.0,224.4 2201.6,212.9 2202.2,201.4 2202.8,190.0 2203.4,178.7 2204.0,167.6 2204.7,156.7 2205.3,146.2 2205.9,136.2 2206.5,126.7 2207.1,117.8 2207.7,109.5 2208.3,101.9 2208.9,95.1 2209.5,89.1 2210.2,84.0 2210.8,79.9 2211.4,76.6 2212.0,74.4 2212.6,73.1 2213.2,72.9 2213.8,73.6 2214.4,75.4 2215.0,78.1 2215.7,81.8 2216.3,86.5 2216.9,92.0 2217.5,98.4 2218.1,105.5 2218.7,113.5 2219.3,122.1 2219.9,131.3 2220.6,141.1 2221.2,151.3 2221.8,162.0 2222.4,172.9 2223.0,184.1"/>
<polyline stroke="#e51e10" stroke-dasharray="18 23" stroke-dashoffset="40.1" points="388.0,1000.0 388.6,1000.2 389.2,1000.4 389.8,1000.5 390.4,1000.5 391.0,1000.4 391.6,1000.0 392.2,999.3 392.8,998.1 393.4,996.4 394.1,994.1 394.7,991.1 395.3,987.3 395.9,982.6 396.5,976.9 397.1,970.3 397.7,962.7 398.3,954.2 398.9,944.7 399.5,934.3 400.1,923.1 400.7,911.2 401.3,898.8 401.9,885.9 402.5,872.8 403.1,859.6 403.7,846.5 404.3,833.6 404.9,821.1 405.6,809.1 406.2,797.9 406.8,787.4 407.4,777.9 408.0,769.4 408.6,762.0 409.2,755.7 409.8,750.7 410.4,746.8 411.0,744.2 411.6,742.8 412.0,742.6 412.2,742.7 412.8,743.8 413.4,746.2 414.0,749.8 414.6,754.6 415.2,760.6 415.8,767.7 416.5,775.9 417.1,785.1 417.7,795.2 418.3,806.2 418.9,817.8 419.5,830.1 420.1,842.8 420.7,855.8 421.3,869.0 421.9,882.1 422.5,895.0 423.1,907.6"/>
<polyline stroke="#e51e10" stroke-dasharray="18 23" stroke-dashoffset="30.0" points="423.1,907.6 423.7,919.6 424.3,931.1 424.9,941.9 425.5,951.9 426.1,961.1 426.7,969.4 427.3,976.8 427.9,983.4 428.5,989.1 429.1,994.0 429.7,998.3 430.3,1001.8 430.9,1004.7 431.5,1007.1 432.1,1009.1 432.7,1010.7 433.3,1011.9 433.9,1012.9 434.5,1013.6 435.1,1014.1 435.7,1014.5 436.0,1014.6 436.3,1014.6 436.9,1014.6 437.5,1014.4 438.1,1013.9 438.7,1013.2 439.3,1012.1 439.9,1010.7 440.5,1008.9 441.1,1006.5 441.7,1003.5 442.3,999.9 442.9,995.7 443.5,990.6 444.1,984.7 444.7,978.0 445.3,970.4 445.9,962.0 446.5,952.7 447.1,942.6 447.7,931.7 448.3,920.3 448.9,908.2"/>
<polyline stroke="#e51e10" stroke-dasharray="18 23" stroke-dashoffset="28.5" points="448.9,908.2 449.5,895.8 450.1,883.1 450.7,870.3 451.3,857.5 451.9,844.8 452.5,832.6 453.1,820.7 453.7,809.5 454.3,799.1 454.9,789.4 455.5,780.7 456.1,773.0 456.7,766.3 457.3,760.7 457.9,756.2 458.5,752.8 459.1,750.6 459.7,749.6 460.0,749.5 460.3,749.6 460.9,750.9 461.5,753.2 462.1,756.7 462.7,761.3 463.3,767.0 463.9,773.7 464.5,781.5 465.1,790.3 465.7,799.9 466.3,810.3 466.9,821.5 467.5,833.3 468.1,845.5 468.7,858.1 469.3,870.8 469.9,883.6 470.5,896.3 471.1,908.7"/>
<polyline stroke="#e51e10" stroke-dasharray="18 23" stroke-dashoffset="35.8" points="471.1,908.7 471.7,920.8 472.3,932.3 472.9,943.3 473.5,953.6 474.1,963.1 474.7,971.9 475.3,979.9 475.9,987.1 476.5,993.5 477.1,999.2 477.7,1004.2 478.3,1008.5 478.9,1012.3 479.5,1015.5 480.2,1018.2 480.8,1020.5 481.4,1022.3 482.0,1023.8 482.6,1024.9 483.2,1025.7 483.8,1026.1 484.1,1026.2 484.4,1026.3 485.0,1026.1 485.6,1025.5 486.2,1024.6 486.8,1023.3 487.4,1021.6 488.0,1019.5 488.6,1016.9 489.2,1013.7 489.8,1009.9 490.4,1005.5 491.0,1000.5 491.6,994.7 492.2,988.2 492.8,980.9 493.4,972.7 494.0,963.9 494.6,954.2 495.2,943.9 495.8,932.8 496.4,921.3 497.0,909.2"/>
<polyline stroke="#e51e10" stroke-dasharray="18 23" stroke-dashoffset="7.1" points="497.0,909.2 497.6,896.8 498.2,884.2 498.8,871.6 499.4,859.0 500.0,846.7 500.6,834.7 501.2,823.2 501.8,812.4 502.4,802.3 503.0,793.1 503.6,784.7 504.2,777.4 504.8,771.0 505.4,765.7 506.0,761.5 506.6,758.3 507.2,756.2 507.8,755.2 508.1,755.1 508.4,755.3 509.0,756.4 509.6,758.6 510.2,761.9 510.8,766.2 511.4,771.6 512.0,778.0 512.6,785.4 513.2,793.8 513.8,803.0 514.4,813.1 515.0,823.9 515.6,835.3 516.2,847.2 516.8,859.5 517.4,872.0 518.0,884.7 518.6,897.2 519.2,909.6"/>
<polyline stroke="#e51e10" stroke-dasharray="18 23" stroke-dashoffset="0.6" points="519.2,909.6 519.8,921.7 520.4,933.3 521.0,944.4 521.6,954.9 522.2,964.8 522.8,973.9 523.4,982.4 524.0,990.0 524.6,997.0 525.2,1003.3 525.8,1008.9 526.4,1013.9 527.0,1018.3 527.6,1022.2 528.2,1025.5 528.8,1028.3 529.4,1030.6 530.0,1032.5 530.6,1033.9 531.2,1034.9 531.8,1035.4 532.1,1035.6 532.4,1035.5 533.0,1035.2 533.6,1034.4 534.2,1033.2 534.8,1031.4 535.4,1029.2 536.0,1026.5 536.6,1023.3 537.2,1019.4 537.8,1015.0 538.4,1010.0 539.0,1004.3 539.6,998.0 540.2,990.9 540.8,983.1 541.4,974.6 542.0,965.4 542.6,955.4 543.2,944.9 543.8,933.7 544.4,922.0 545.0,910.0"/>
<polyline stroke="#e51e10" stroke-dasharray="18 23" stroke-dashoffset="15.4" points="545.0,910.0 545.6,897.7 546.2,885.2 546.8,872.7 547.4,860.3 548.0,848.2 548.6,836.5 549.2,825.3 549.8,814.8 550.4,805.0 551.0,796.1 551.6,788.1 552.2,781.0 552.8,774.9 553.4,769.9 554.0,765.8 554.6,762.8 555.2,760.8 555.8,759.8 556.1,759.7 556.4,759.9 557.0,761.0 557.6,763.1 558.2,766.2 558.8,770.3 559.4,775.4 560.0,781.5 560.6,788.6 561.2,796.7 561.8,805.6 562.4,815.3 563.0,825.8 563.6,837.0 564.2,848.6 564.8,860.7 565.4,873.0 566.0,885.5 566.6,898.0 567.2,910.3"/>
<polyline stroke="#e51e10" stroke-dasharray="18 23" stroke-dashoffset="30.0" points="567.2,910.3 567.8,922.4 568.4,934.1 569.0,945.3 569.6,956.0 570.2,966.1 570.8,975.5 571.4,984.3 572.0,992.4 572.6,999.8 573.2,1006.6 573.8,1012.7 574.4,1018.2 575.0,1023.1 575.6,1027.5 576.2,1031.3 576.8,1034.5 577.4,1037.3 578.0,1039.5 578.6,1041.1 579.2,1042.3 579.8,1042.9 580.1,1043.0 580.4,1043.0 581.0,1042.5 581.6,1041.5 582.2,1040.0 582.8,1037.9 583.4,1035.3 584.0,1032.1 584.6,1028.4 585.2,1024.0 585.8,1019.1 586.4,1013.6 587.0,1007.4 587.6,1000.6 588.2,993.1 588.8,984.9 589.4,976.0 590.0,966.5 590.6,956.4 591.2,945.7 591.8,934.4 592.4,922.7 593.0,910.6"/>
<polyline stroke="#e51e10" stroke-dasharray="18 23" stroke-dashoffset="25.1" points="593.0,910.6 593.6,898.3 594.2,885.9 594.8,873.5 595.4,861.3 596.0,849.4 596.6,837.9 597.2,827.0 597.8,816.7 598.4,807.2 599.0,798.6 599.6,790.8 600.2,784.0 600.8,778.1 601.4,773.3 602.0,769.4 602.6,766.5 603.2,764.6 603.8,763.7 604.1,763.6 604.4,763.7 605.0,764.7 605.6,766.7 606.2,769.7 606.8,773.6 607.4,778.5 608.0,784.4 608.6,791.3 609.2,799.0 609.8,807.7 610.4,817.2 611.0,827.4 611.6,838.3 612.2,849.8 612.8,861.6 613.4,873.8 614.0,886.2 614.6,898.6 615.2,910.8"/>
<polyline stroke="#e51e10" stroke-dasharray="18 23" stroke-dashoffset="1.7" points="615.2,910.8 615.8,922.9 616.4,934.7 617.0,946.0 617.6,956.8 618.2,967.1 618.8,976.8 619.4,985.8 620.0,994.2 620.6,1002.0 621.2,1009.2 621.8,1015.7 622.4,1021.6 623.0,1027.0 623.6,1031.7 624.2,1035.9 624.8,1039.5 625.4,1042.6 626.0,1045.0 626.6,1046.9 627.2,1048.2 627.8,1048.8 628.1,1048.9 628.4,1048.9 629.0,1048.4 629.6,1047.2 630.2,1045.4 630.8,1043.1 631.4,1040.1 632.0,1036.6 632.6,1032.4 633.2,1027.7 633.8,1022.3 634.4,1016.4 635.1,1009.8 635.7,1002.6 636.3,994.8 636.9,986.3 637.5,977.2 638.1,967.5 638.7,957.1 639.3,946.3 639.9,934.9 640.5,923.2 641.1,911.1"/>
<polyline stroke="#e51e10" stroke-dasharray="18 23" stroke-dashoffset="40.5" points="641.1,911.1 641.7,898.8 642.3,886.5 642.9,874.2 643.5,862.2 644.1,850.4 644.7,839.1 645.3,828.4 645.9,818.3 646.5,809.0 647.1,800.6 647.7,793.0 648.3,786.4 648.9,780.8 649.5,776.1 650.1,772.3 650.7,769.5 651.3,767.7 651.9,766.8 652.2,766.7 652.5,766.8 653.1,767.8 653.7,769.7 654.3,772.5 654.9,776.3 655.5,781.1 656.1,786.8 656.7,793.4 657.3,801.0 657.9,809.4 658.5,818.7 659.1,828.7 659.7,839.4 660.3,850.7 660.9,862.4 661.4,874.5 662.0,886.7 662.6,899.0 663.2,911.3"/>
<polyline stroke="#e51e10" stroke-dasharray="18 23" stroke-dashoffset="4.9" points="663.2,911.3 663.8,923.3 664.5,935.1 665.1,946.5 665.7,957.5 666.3,967.9 666.9,977.8 667.5,987.0 668.1,995.7 668.7,1003.8 669.3,1011.2 669.9,1018.1 670.5,1024.3 671.1,1030.0 671.7,1035.1 672.3,1039.6 672.9,1043.5 673.5,1046.8 674.1,1049.4 674.7,1051.5 675.3,1052.9 675.9,1053.6 676.2,1053.7 676.5,1053.6 677.1,1053.0 677.7,1051.7 678.3,1049.8 678.9,1047.2 679.5,1044.0 680.1,1040.1 680.7,1035.6 681.3,1030.6 681.9,1024.9 682.5,1018.6 683.1,1011.7 683.7,1004.2 684.3,996.1 684.9,987.4 685.5,978.1 686.1,968.2 686.7,957.7 687.3,946.7 687.9,935.3 688.5,923.5 689.1,911.5"/>
<polyline stroke="#e51e10" stroke-dasharray="18 23" stroke-dashoffset="11.1" points="689.1,911.5 689.7,899.2 690.3,887.0 690.9,874.8 691.5,862.8 692.1,851.2 692.7,840.1 693.3,829.5 693.9,819.6 694.5,810.5 695.1,802.3 695.7,794.9 696.3,788.4 696.9,782.9 697.5,778.4 698.1,774.7 698.7,772.0 699.3,770.2 699.9,769.4 700.2,769.3 700.5,769.4 701.1,770.3 701.7,772.2 702.3,774.9 702.9,778.6 703.5,783.2 704.1,788.7 704.7,795.2 705.3,802.6 705.9,810.8 706.5,819.9 707.1,829.8 707.7,840.3 708.3,851.4 708.9,863.0 709.5,875.0 710.1,887.1 710.7,899.4 711.3,911.6"/>
<polyline stroke="#e51e10" stroke-dasharray="18 23" stroke-dashoffset="13.0" points="711.3,911.6 711.9,923.7 712.5,935.5 713.1,946.9 713.7,958.0 714.3,968.5 714.9,978.5 715.5,988.0 716.1,996.8 716.7,1005.1 717.3,1012.8 717.9,1019.9 718.5,1026.5 719.1,1032.4 719.7,1037.8 720.3,1042.5 720.9,1046.7 721.5,1050.2 722.1,1053.0 722.7,1055.1 723.3,1056.6 723.9,1057.4 724.2,1057.5 724.5,1057.4 725.1,1056.7 725.7,1055.4 726.3,1053.3 726.9,1050.5 727.5,1047.0 728.1,1042.9 728.7,1038.2 729.3,1032.9 729.9,1026.9 730.5,1020.4 731.1,1013.2 731.7,1005.5 732.3,997.2 732.9,988.2 733.5,978.8 734.1,968.7 734.7,958.1 735.3,947.1 735.9,935.6 736.5,923.8 737.1,911.7"/>
<polyline stroke="#e51e10" stroke-dasharray="18 23" stroke-dashoffset="15.8" points="737.1,911.7 737.7,899.6 738.3,887.3 738.9,875.2 739.5,863.4 740.1,851.9 740.7,840.8 741.3,830.4 741.9,820.7 742.5,811.7 743.1,803.6 743.7,796.4 744.3,790.1 744.9,784.7 745.5,780.2 746.1,776.7 746.7,774.1 747.3,772.3 747.9,771.5 748.2,771.4 748.5,771.5 749.1,772.4 749.7,774.2 750.3,776.9 750.9,780.4 751.5,784.9 752.1,790.3 752.7,796.6 753.3,803.9 753.9,812.0 754.5,820.9 755.1,830.7 755.7,841.1 756.3,852.1 756.9,863.5 757.5,875.4 758.1,887.5 758.7,899.7 759.3,911.8"/>
<polyline stroke="#e51e10" stroke-dasharray="18 23" stroke-dashoffset="4.2" points="759.3,911.8 759.9,923.9 760.5,935.7 761.1,947.2 761.7,958.3 762.3,969.0 762.9,979.1 763.5,988.7 764.1,997.7 764.7,1006.2 765.3,1014.1 765.9,1021.4 766.5,1028.2 767.1,1034.3 767.7,1039.9 768.3,1044.9 768.9,1049.2 769.5,1052.8 770.1,1055.8 770.7,1058.1 771.3,1059.6 771.9,1060.4 772.2,1060.5 772.5,1060.4 773.1,1059.7 773.7,1058.2 774.3,1056.0 774.9,1053.1 775.5,1049.5 776.1,1045.2 776.7,1040.3 777.3,1034.7 777.9,1028.5 778.5,1021.8 779.1,1014.4 779.7,1006.5 780.3,998.0 780.9,988.9 781.5,979.3 782.1,969.1 782.7,958.5 783.3,947.3 783.9,935.8 784.5,924.0 785.1,911.9"/>
<polyline stroke="#e51e10" stroke-dasharray="18 23" stroke-dashoffset="19.5" points="785.1,911.9 785.7,899.8 786.3,887.6 786.9,875.6 787.5,863.8 788.1,852.4 788.7,841.5 789.3,831.2 789.9,821.6 790.5,812.7 791.1,804.7 791.7,797.6 792.3,791.4 792.9,786.2 793.5,781.8 794.1,778.3 794.7,775.8 795.3,774.1 795.9,773.2 796.2,773.1 796.5,773.2 797.1,774.1 797.7,775.8 798.3,778.5 798.9,781.9 799.5,786.3 800.1,791.6 800.7,797.8 801.3,805.0 801.9,812.9 802.5,821.8 803.1,831.4 803.7,841.7 804.3,852.6 804.9,863.9 805.5,875.7 806.1,887.7 806.7,899.9 807.3,912.0"/>
<polyline stroke="#e51e10" stroke-dasharray="18 23" stroke-dashoffset="12.5" points="807.3,912.0 807.9,924.1 808.5,935.9 809.1,947.4 809.7,958.6 810.3,969.3 810.9,979.5 811.5,989.2 812.1,998.4 812.7,1007.0 813.3,1015.1 813.9,1022.6 814.5,1029.5 815.1,1035.9 815.7,1041.6 816.3,1046.7 816.9,1051.2 817.5,1055.0 818.1,1058.1 818.8,1060.4 819.4,1062.0 820.0,1062.8 820.3,1062.9 820.6,1062.9 821.2,1062.1 821.8,1060.6 822.4,1058.2 823.0,1055.2 823.6,1051.4 824.2,1047.0 824.8,1041.9 825.4,1036.1 826.0,1029.8 826.6,1022.8 827.2,1015.3 827.8,1007.2 828.4,998.6 829.0,989.4 829.6,979.6 830.2,969.4 830.8,958.7 831.4,947.5 832.0,936.0 832.6,924.1 833.2,912.1"/>
<polyline stroke="#e51e10" stroke-dasharray="18 23" stroke-dashoffset="30.7" points="833.2,912.1 833.8,900.0 834.4,887.9 835.0,875.9 835.6,864.2 836.2,852.8 836.8,842.0 837.4,831.8 838.0,822.3 838.6,813.5 839.2,805.7 839.8,798.7 840.4,792.6 841.0,787.4 841.6,783.1 842.2,779.7 842.8,777.1 843.4,775.5 844.0,774.6 844.3,774.6 844.6,774.7 845.2,775.5 845.8,777.2 846.4,779.8 847.0,783.2 847.6,787.5 848.2,792.7 848.8,798.8 849.4,805.8 850.0,813.7 850.6,822.4 851.2,831.9 851.8,842.1 852.4,852.9 853.0,864.3 853.6,876.0 854.2,887.9 854.8,900.0 855.4,912.1"/>
<polyline stroke="#e51e10" stroke-dasharray="18 23" stroke-dashoffset="20.2" points="855.4,912.1 856.0,924.2 856.6,936.0 857.2,947.6 857.8,958.8 858.4,969.5 859.0,979.8 859.6,989.6 860.2,998.9 860.8,1007.6 861.4,1015.8 862.0,1023.5 862.6,1030.5 863.2,1037.0 863.8,1042.9 864.4,1048.2 865.0,1052.8 865.6,1056.7 866.2,1059.9 866.8,1062.3 867.4,1063.9 868.0,1064.8 868.3,1064.9 868.6,1064.8 869.2,1064.0 869.8,1062.4 870.4,1060.0 871.0,1056.9 871.6,1053.0 872.2,1048.4 872.8,1043.1 873.4,1037.3 874.0,1030.8 874.6,1023.7 875.2,1016.0 875.8,1007.8 876.4,999.0 877.0,989.7 877.6,979.9 878.2,969.6 878.8,958.8 879.4,947.6 880.0,936.1 880.6,924.2 881.2,912.2"/>
<polyline stroke="#e51e10" stroke-dasharray="18 23" stroke-dashoffset="0.3" points="881.2,912.2 881.8,900.1 882.4,888.0 883.0,876.1 883.6,864.4 884.2,853.2 884.8,842.4 885.4,832.3 886.0,822.8 886.6,814.2 887.2,806.4 887.8,799.5 888.4,793.5 889.0,788.3 889.6,784.1 890.2,780.8 890.8,778.3 891.4,776.6 892.0,775.8 892.3,775.7 892.6,775.8 893.2,776.7 893.8,778.3 894.4,780.8 895.0,784.2 895.6,788.5 896.2,793.6 896.8,799.6 897.4,806.6 898.0,814.3 898.6,823.0 899.2,832.4 899.8,842.5 900.4,853.3 901.0,864.5 901.6,876.1 902.2,888.1 902.8,900.1 903.4,912.2"/>
<polyline stroke="#e51e10" stroke-dasharray="18 23" stroke-dashoffset="28.3" points="903.4,912.2 904.0,924.2 904.6,936.1 905.2,947.7 905.8,958.9 906.4,969.7 907.0,980.0 907.6,989.9 908.2,999.3 908.8,1008.1 909.4,1016.4 910.0,1024.2 910.6,1031.4 911.2,1038.0 911.8,1044.0 912.4,1049.3 913.0,1054.1 913.6,1058.0 914.2,1061.3 914.8,1063.8 915.4,1065.5 916.0,1066.3 916.3,1066.4 916.6,1066.3 917.2,1065.5 917.8,1063.9 918.4,1061.4 919.0,1058.2 919.6,1054.2 920.2,1049.5 920.8,1044.1 921.4,1038.1 922.0,1031.5 922.6,1024.3 923.2,1016.5 923.8,1008.2 924.4,999.4 925.0,990.0 925.6,980.1 926.2,969.7 926.8,958.9 927.4,947.7 928.0,936.1 928.6,924.3 929.2,912.2"/>
<polyline stroke="#e51e10" stroke-dasharray="18 23" stroke-dashoffset="8.8" points="929.2,912.2 929.8,900.2 930.4,888.1 931.0,876.2 931.6,864.6 932.2,853.4 932.8,842.7 933.4,832.7 934.0,823.3 934.6,814.8 935.2,807.0 935.8,800.2 936.4,794.2 937.0,789.1 937.6,785.0 938.2,781.7 938.8,779.2 939.4,777.6 940.0,776.8 940.3,776.7 940.6,776.8 941.2,777.6 941.8,779.3 942.4,781.7 943.0,785.1 943.6,789.2 944.2,794.3 944.8,800.3 945.4,807.1 946.0,814.9 946.6,823.4 947.2,832.8 947.8,842.8 948.4,853.5 949.0,864.7 949.6,876.3 950.2,888.1 950.8,900.2 951.4,912.2"/>
<polyline stroke="#e51e10" stroke-dasharray="18 23" stroke-dashoffset="32.5" points="951.4,912.2 952.0,924.3 952.6,936.1 953.2,947.7 953.8,958.9 954.4,969.8 955.0,980.2 955.6,990.1 956.2,999.5 956.8,1008.4 957.4,1016.8 958.0,1024.7 958.6,1032.0 959.2,1038.7 959.8,1044.8 960.4,1050.3 961.0,1055.0 961.6,1059.1 962.2,1062.4 962.8,1065.0 963.4,1066.7 964.0,1067.5 964.3,1067.7 964.6,1067.6 965.2,1066.7 965.8,1065.0 966.4,1062.5 967.0,1059.2 967.6,1055.2 968.2,1050.4 968.8,1044.9 969.4,1038.8 970.0,1032.1 970.6,1024.8 971.2,1016.9 971.8,1008.5 972.4,999.6 973.0,990.1 973.7,980.2 974.3,969.8 974.9,958.9 975.5,947.7 976.1,936.1 976.7,924.3 977.3,912.2"/>
<polyline stroke="#e51e10" stroke-dasharray="18 23" stroke-dashoffset="16.3" points="977.3,912.2 977.9,900.2 978.5,888.2 979.1,876.3 979.7,864.8 980.3,853.6 980.9,843.0 981.5,833.0 982.1,823.7 982.7,815.2 983.3,807.5 983.9,800.7 984.5,794.8 985.1,789.8 985.7,785.7 986.3,782.4 986.9,780.0 987.5,778.4 988.1,777.6 988.4,777.5 988.7,777.6 989.3,778.4 989.9,780.0 990.4,782.5 991.0,785.7 991.6,789.9 992.2,794.9 992.8,800.8 993.4,807.6 994.0,815.3 994.6,823.8 995.2,833.1 995.8,843.1 996.4,853.7 997.0,864.8 997.6,876.4 998.2,888.2 998.8,900.2 999.4,912.2"/>
<polyline stroke="#e51e10" stroke-dasharray="18 23" stroke-dashoffset="39.6" points="999.4,912.2 1000.0,924.2 1000.6,936.1 1001.2,947.7 1001.8,958.9 1002.4,969.8 1003.1,980.2 1003.7,990.2 1004.3,999.7 1004.9,1008.7 1005.5,1017.1 1006.1,1025.1 1006.7,1032.4 1007.3,1039.2 1007.9,1045.4 1008.5,1051.0 1009.1,1055.8 1009.7,1060.0 1010.3,1063.3 1010.9,1065.9 1011.5,1067.7 1012.1,1068.5 1012.4,1068.6 1012.7,1068.5 1013.3,1067.7 1013.9,1066.0 1014.5,1063.4 1015.1,1060.1 1015.7,1055.9 1016.3,1051.1 1016.9,1045.5 1017.5,1039.3 1018.1,1032.5 1018.7,1025.1 1019.3,1017.2 1019.9,1008.7 1020.5,999.7 1021.1,990.2 1021.7,980.2 1022.3,969.8 1022.9,958.9 1023.5,947.6 1024.1,936.1 1024.7,924.2 1025.3,912.2"/>
<polyline stroke="#e51e10" stroke-dasharray="18 23" stroke-dashoffset="23.9" points="1025.3,912.2 1025.9,900.2 1026.5,888.2 1027.1,876.4 1027.7,864.9 1028.3,853.8 1028.9,843.2 1029.5,833.2 1030.1,824.0 1030.7,815.6 1031.3,807.9 1031.9,801.2 1032.5,795.3 1033.1,790.4 1033.7,786.3 1034.3,783.0 1034.9,780.6 1035.5,779.0 1036.1,778.2 1036.4,778.1 1036.7,778.2 1037.3,779.0 1037.9,780.6 1038.5,783.1 1039.1,786.3 1039.7,790.4 1040.3,795.4 1040.9,801.3 1041.5,808.0 1042.1,815.6 1042.7,824.1 1043.3,833.3 1043.9,843.2 1044.5,853.8 1045.1,864.9 1045.7,876.4 1046.3,888.2 1046.9,900.2 1047.5,912.2"/>
<polyline stroke="#e51e10" stroke-dasharray="18 23" stroke-dashoffset="3.8" points="1047.5,912.2 1048.1,924.2 1048.7,936.0 1049.3,947.6 1049.9,958.9 1050.5,969.8 1051.1,980.2 1051.7,990.2 1052.3,999.8 1052.9,1008.8 1053.5,1017.3 1054.1,1025.3 1054.7,1032.8 1055.3,1039.6 1055.9,1045.9 1056.5,1051.5 1057.1,1056.4 1057.7,1060.6 1058.3,1064.1 1058.9,1066.7 1059.5,1068.4 1060.1,1069.3 1060.4,1069.4 1060.7,1069.3 1061.3,1068.5 1061.9,1066.7 1062.5,1064.1 1063.1,1060.7 1063.7,1056.5 1064.3,1051.6 1064.9,1046.0 1065.5,1039.7 1066.1,1032.8 1066.7,1025.4 1067.3,1017.4 1067.9,1008.8 1068.5,999.8 1069.1,990.2 1069.7,980.2 1070.3,969.7 1070.9,958.8 1071.5,947.6 1072.1,936.0 1072.7,924.1 1073.3,912.2"/>
<polyline stroke="#e51e10" stroke-dasharray="18 23" stroke-dashoffset="31.3" points="1073.3,912.2 1073.9,900.2 1074.5,888.2 1075.1,876.4 1075.7,864.9 1076.3,853.9 1076.9,843.3 1077.5,833.4 1078.1,824.2 1078.7,815.8 1079.3,808.3 1079.9,801.6 1080.5,795.7 1081.1,790.8 1081.7,786.7 1082.3,783.5 1082.9,781.1 1083.5,779.5 1084.1,778.8 1084.4,778.7 1084.7,778.8 1085.3,779.6 1085.9,781.2 1086.5,783.5 1087.1,786.8 1087.7,790.9 1088.3,795.8 1088.9,801.6 1089.5,808.3 1090.1,815.9 1090.7,824.3 1091.3,833.5 1091.9,843.4 1092.5,853.9 1093.1,865.0 1093.7,876.4 1094.3,888.2 1094.9,900.1 1095.5,912.1"/>
<polyline stroke="#e51e10" stroke-dasharray="18 23" stroke-dashoffset="10.5" points="1095.5,912.1 1096.1,924.1 1096.7,935.9 1097.3,947.5 1097.9,958.8 1098.5,969.7 1099.1,980.2 1099.7,990.2 1100.3,999.8 1100.9,1008.9 1101.5,1017.5 1102.1,1025.5 1102.7,1033.0 1103.3,1039.9 1103.9,1046.3 1104.5,1051.9 1105.1,1056.9 1105.7,1061.2 1106.3,1064.6 1106.9,1067.3 1107.5,1069.1 1108.1,1070.0 1108.4,1070.1 1108.7,1070.0 1109.3,1069.1 1109.9,1067.3 1110.5,1064.7 1111.1,1061.2 1111.7,1057.0 1112.3,1052.0 1112.9,1046.3 1113.5,1040.0 1114.1,1033.1 1114.7,1025.5 1115.3,1017.5 1115.9,1008.9 1116.5,999.8 1117.1,990.2 1117.7,980.1 1118.3,969.6 1118.9,958.7 1119.5,947.5 1120.1,935.9 1120.7,924.1 1121.3,912.1"/>
<polyline stroke="#e51e10" stroke-dasharray="18 23" stroke-dashoffset="38.0" points="1121.3,912.1 1121.9,900.1 1122.5,888.2 1123.1,876.4 1123.7,865.0 1124.3,854.0 1124.9,843.5 1125.5,833.6 1126.1,824.4 1126.7,816.1 1127.3,808.5 1127.9,801.9 1128.5,796.1 1129.1,791.2 1129.7,787.1 1130.3,783.9 1130.9,781.5 1131.5,780.0 1132.1,779.2 1132.4,779.1 1132.7,779.2 1133.3,780.0 1133.9,781.6 1134.5,784.0 1135.1,787.2 1135.7,791.2 1136.3,796.1 1136.9,801.9 1137.5,808.6 1138.1,816.1 1138.7,824.5 1139.3,833.6 1139.9,843.5 1140.5,854.0 1141.1,865.0 1141.7,876.4 1142.3,888.2 1142.9,900.1 1143.5,912.0"/>
<polyline stroke="#e51e10" stroke-dasharray="18 23" stroke-dashoffset="14.9" points="1143.5,912.0 1144.1,924.0 1144.7,935.8 1145.3,947.4 1145.9,958.7 1146.5,969.6 1147.1,980.1 1147.7,990.2 1148.3,999.8 1148.9,1008.9 1149.5,1017.5 1150.1,1025.6 1150.7,1033.2 1151.3,1040.2 1151.9,1046.5 1152.5,1052.3 1153.1,1057.3 1153.7,1061.6 1154.3,1065.1 1154.9,1067.7 1155.5,1069.5 1156.1,1070.5 1156.4,1070.6 1156.7,1070.5 1157.4,1069.6 1158.0,1067.8 1158.6,1065.1 1159.2,1061.6 1159.8,1057.3 1160.4,1052.3 1161.0,1046.6 1161.6,1040.2 1162.2,1033.2 1162.8,1025.6 1163.4,1017.5 1164.0,1008.9 1164.6,999.7 1165.2,990.1 1165.8,980.0 1166.4,969.5 1167.0,958.6 1167.6,947.3 1168.2,935.7 1168.8,923.9 1169.4,912.0"/>
<polyline stroke="#e51e10" stroke-dasharray="18 23" stroke-dashoffset="1.3" points="1169.4,912.0 1170.0,900.0 1170.6,888.1 1171.2,876.4 1171.8,865.0 1172.4,854.0 1173.0,843.5 1173.6,833.7 1174.2,824.6 1174.8,816.3 1175.4,808.8 1176.0,802.1 1176.6,796.3 1177.2,791.5 1177.8,787.4 1178.4,784.3 1179.0,781.9 1179.6,780.3 1180.2,779.6 1180.5,779.5 1180.8,779.6 1181.4,780.4 1182.0,781.9 1182.6,784.3 1183.2,787.5 1183.8,791.5 1184.4,796.4 1185.0,802.2 1185.6,808.8 1186.2,816.3 1186.8,824.6 1187.4,833.7 1188.0,843.6 1188.6,854.0 1189.2,865.0 1189.8,876.4 1190.4,888.1 1191.0,900.0 1191.6,911.9"/>
<polyline stroke="#e51e10" stroke-dasharray="18 23" stroke-dashoffset="17.1" points="1191.6,911.9 1192.2,923.9 1192.8,935.7 1193.4,947.2 1194.0,958.5 1194.6,969.4 1195.2,979.9 1195.8,990.0 1196.4,999.7 1197.0,1008.8 1197.6,1017.5 1198.2,1025.6 1198.8,1033.2 1199.4,1040.2 1200.0,1046.7 1200.6,1052.4 1201.2,1057.5 1201.8,1061.8 1202.4,1065.3 1203.0,1068.0 1203.6,1069.8 1204.2,1070.7 1204.5,1070.8 1204.8,1070.7 1205.4,1069.8 1206.0,1068.0 1206.6,1065.3 1207.2,1061.8 1207.8,1057.5 1208.4,1052.4 1209.0,1046.6 1209.6,1040.2 1210.2,1033.2 1210.8,1025.6 1211.4,1017.4 1212.0,1008.8 1212.6,999.6 1213.2,990.0 1213.8,979.9 1214.4,969.3 1215.0,958.4 1215.6,947.2 1216.2,935.6 1216.8,923.8 1217.4,911.9"/>
<polyline stroke="#e51e10" stroke-dasharray="18 23" stroke-dashoffset="3.4" points="1217.4,911.9 1218.0,899.9 1218.6,888.0 1219.2,876.4 1219.8,865.0 1220.4,854.0 1221.0,843.6 1221.6,833.8 1222.2,824.7 1222.8,816.4 1223.4,808.9 1224.0,802.3 1224.6,796.6 1225.2,791.7 1225.8,787.7 1226.4,784.5 1227.0,782.2 1227.6,780.6 1228.2,779.9 1228.5,779.8 1228.8,779.9 1229.4,780.6 1230.0,782.2 1230.6,784.6 1231.2,787.7 1231.8,791.7 1232.4,796.6 1233.0,802.3 1233.6,809.0 1234.2,816.4 1234.8,824.7 1235.4,833.8 1236.0,843.6 1236.6,854.0 1237.2,865.0 1237.8,876.3 1238.4,888.0 1239.0,899.9 1239.6,911.8"/>
<polyline stroke="#e51e10" stroke-dasharray="18 23" stroke-dashoffset="17.9" points="1239.6,911.8 1240.2,923.7 1240.8,935.5 1241.4,947.0 1242.0,958.3 1242.6,969.2 1243.2,979.7 1243.8,989.8 1244.4,999.5 1245.0,1008.6 1245.6,1017.3 1246.2,1025.5 1246.8,1033.1 1247.4,1040.1 1248.0,1046.6 1248.6,1052.4 1249.2,1057.4 1249.8,1061.8 1250.4,1065.3 1251.0,1068.0 1251.6,1069.8 1252.2,1070.8 1252.5,1070.9 1252.8,1070.8 1253.4,1069.8 1254.0,1068.0 1254.6,1065.3 1255.2,1061.8 1255.8,1057.4 1256.4,1052.3 1257.0,1046.5 1257.6,1040.1 1258.2,1033.0 1258.8,1025.4 1259.4,1017.2 1260.0,1008.6 1260.6,999.4 1261.2,989.7 1261.8,979.6 1262.4,969.1 1263.0,958.2 1263.6,946.9 1264.2,935.4 1264.8,923.6 1265.4,911.7"/>
<polyline stroke="#e51e10" stroke-dasharray="18 23" stroke-dashoffset="37.6" points="1265.4,911.7 1266.0,899.8 1266.6,888.0 1267.2,876.3 1267.8,864.9 1268.4,854.0 1269.0,843.6 1269.6,833.8 1270.2,824.8 1270.8,816.5 1271.4,809.1 1272.0,802.5 1272.6,796.8 1273.2,791.9 1273.8,787.9 1274.4,784.8 1275.0,782.4 1275.6,780.9 1276.2,780.1 1276.5,780.0 1276.8,780.1 1277.4,780.9 1278.0,782.4 1278.6,784.8 1279.2,787.9 1279.8,791.9 1280.4,796.8 1281.0,802.5 1281.6,809.1 1282.2,816.5 1282.8,824.8 1283.4,833.9 1284.0,843.6 1284.6,854.0 1285.2,864.9 1285.8,876.3 1286.4,887.9 1287.0,899.7 1287.6,911.6"/>
<polyline stroke="#e51e10" stroke-dasharray="18 23" stroke-dashoffset="2.3" points="1287.6,911.6 1288.2,923.5 1288.8,935.3 1289.4,946.8 1290.0,958.1 1290.6,969.0 1291.2,979.5 1291.8,989.6 1292.4,999.2 1293.0,1008.4 1293.6,1017.1 1294.2,1025.3 1294.8,1032.9 1295.4,1040.0 1296.0,1046.4 1296.6,1052.2 1297.2,1057.3 1297.8,1061.7 1298.4,1065.3 1299.0,1068.0 1299.6,1069.8 1300.2,1070.7 1300.5,1070.8 1300.8,1070.7 1301.4,1069.8 1302.0,1068.0 1302.6,1065.2 1303.2,1061.7 1303.8,1057.3 1304.4,1052.2 1305.0,1046.4 1305.6,1039.9 1306.2,1032.9 1306.8,1025.2 1307.4,1017.0 1308.0,1008.3 1308.6,999.1 1309.2,989.5 1309.8,979.4 1310.4,968.9 1311.0,958.0 1311.7,946.7 1312.3,935.2 1312.9,923.4 1313.5,911.6"/>
<polyline stroke="#e51e10" stroke-dasharray="18 23" stroke-dashoffset="29.4" points="1313.5,911.6 1314.1,899.7 1314.7,887.8 1315.3,876.2 1315.9,864.9 1316.5,854.0 1317.1,843.6 1317.7,833.9 1318.3,824.8 1318.9,816.6 1319.4,809.2 1320.0,802.6 1320.6,796.9 1321.2,792.1 1321.8,788.1 1322.4,784.9 1323.0,782.6 1323.6,781.1 1324.2,780.3 1324.5,780.2 1324.8,780.3 1325.4,781.1 1326.0,782.6 1326.6,785.0 1327.2,788.1 1327.8,792.1 1328.4,796.9 1329.0,802.6 1329.6,809.2 1330.2,816.6 1330.8,824.9 1331.4,833.9 1332.0,843.6 1332.6,854.0 1333.2,864.9 1333.8,876.2 1334.4,887.8 1335.0,899.6 1335.6,911.5"/>
<polyline stroke="#e51e10" stroke-dasharray="18 23" stroke-dashoffset="0.8" points="1335.6,911.5 1336.2,923.3 1336.8,935.1 1337.4,946.6 1338.0,957.8 1338.6,968.7 1339.2,979.2 1339.8,989.3 1340.4,999.0 1341.0,1008.1 1341.7,1016.8 1342.3,1025.0 1342.9,1032.7 1343.5,1039.8 1344.1,1046.3 1344.7,1052.1 1345.3,1057.2 1345.9,1061.6 1346.5,1065.1 1347.1,1067.9 1347.7,1069.7 1348.3,1070.6 1348.6,1070.7 1348.9,1070.6 1349.5,1069.7 1350.1,1067.9 1350.7,1065.1 1351.3,1061.6 1351.9,1057.2 1352.5,1052.0 1353.1,1046.2 1353.7,1039.7 1354.3,1032.6 1354.9,1025.0 1355.5,1016.8 1356.1,1008.1 1356.7,998.9 1357.3,989.2 1357.9,979.1 1358.5,968.6 1359.1,957.7 1359.7,946.5 1360.3,935.0 1360.9,923.2 1361.5,911.4"/>
<polyline stroke="#e51e10" stroke-dasharray="18 23" stroke-dashoffset="27.5" points="1361.5,911.4 1362.1,899.5 1362.7,887.7 1363.3,876.1 1363.9,864.8 1364.5,854.0 1365.1,843.6 1365.7,833.9 1366.3,824.9 1366.9,816.7 1367.5,809.3 1368.1,802.7 1368.7,797.0 1369.3,792.2 1369.9,788.2 1370.5,785.1 1371.1,782.8 1371.7,781.2 1372.3,780.5 1372.6,780.4 1372.9,780.5 1373.5,781.2 1374.1,782.8 1374.7,785.1 1375.3,788.2 1375.9,792.2 1376.5,797.0 1377.1,802.7 1377.7,809.3 1378.3,816.7 1378.9,824.9 1379.5,833.9 1380.1,843.6 1380.7,853.9 1381.3,864.8 1381.9,876.1 1382.5,887.7 1383.1,899.4 1383.7,911.3"/>
<polyline stroke="#e51e10" stroke-dasharray="18 23" stroke-dashoffset="38.7" points="1383.7,911.3 1384.3,923.1 1384.9,934.8 1385.5,946.3 1386.1,957.6 1386.7,968.4 1387.3,978.9 1387.9,989.0 1388.5,998.7 1389.1,1007.9 1389.7,1016.6 1390.3,1024.8 1390.9,1032.4 1391.5,1039.5 1392.1,1046.0 1392.7,1051.9 1393.3,1057.0 1393.9,1061.4 1394.5,1065.0 1395.1,1067.7 1395.7,1069.6 1396.3,1070.5 1396.6,1070.6 1396.9,1070.5 1397.5,1069.6 1398.1,1067.7 1398.7,1065.0 1399.3,1061.4 1399.9,1057.0 1400.5,1051.8 1401.1,1046.0 1401.7,1039.5 1402.3,1032.4 1402.9,1024.7 1403.5,1016.5 1404.1,1007.8 1404.7,998.6 1405.3,988.9 1405.9,978.8 1406.5,968.3 1407.1,957.4 1407.7,946.2 1408.3,934.7 1408.9,923.0 1409.5,911.2"/>
<polyline stroke="#e51e10" stroke-dasharray="18 23" stroke-dashoffset="24.3" points="1409.5,911.2 1410.1,899.3 1410.7,887.6 1411.3,876.0 1411.9,864.7 1412.5,853.9 1413.1,843.6 1413.7,833.9 1414.3,824.9 1414.9,816.7 1415.5,809.3 1416.1,802.8 1416.7,797.1 1417.3,792.3 1417.9,788.4 1418.5,785.2 1419.1,782.9 1419.7,781.4 1420.3,780.6 1420.6,780.5 1420.9,780.6 1421.5,781.4 1422.1,782.9 1422.7,785.2 1423.3,788.4 1423.9,792.3 1424.5,797.1 1425.1,802.8 1425.7,809.3 1426.3,816.7 1426.9,824.9 1427.5,833.9 1428.1,843.6 1428.7,853.9 1429.3,864.7 1429.9,876.0 1430.5,887.5 1431.1,899.3 1431.7,911.1"/>
<polyline stroke="#e51e10" stroke-dasharray="18 23" stroke-dashoffset="34.7" points="1431.7,911.1 1432.3,922.9 1432.9,934.6 1433.5,946.1 1434.1,957.3 1434.7,968.1 1435.3,978.6 1435.9,988.7 1436.5,998.4 1437.1,1007.6 1437.7,1016.3 1438.3,1024.5 1438.9,1032.2 1439.5,1039.3 1440.1,1045.8 1440.7,1051.7 1441.3,1056.8 1441.9,1061.2 1442.5,1064.8 1443.1,1067.5 1443.7,1069.4 1444.3,1070.3 1444.6,1070.4 1444.9,1070.3 1445.5,1069.4 1446.1,1067.5 1446.7,1064.8 1447.3,1061.2 1447.9,1056.8 1448.5,1051.6 1449.1,1045.7 1449.7,1039.2 1450.3,1032.1 1450.9,1024.4 1451.5,1016.2 1452.1,1007.5 1452.7,998.3 1453.3,988.6 1453.9,978.5 1454.5,968.0 1455.1,957.1 1455.7,945.9 1456.3,934.5 1456.9,922.8 1457.5,911.0"/>
<polyline stroke="#e51e10" stroke-dasharray="18 23" stroke-dashoffset="23.9" points="1457.5,911.0 1458.1,899.2 1458.7,887.4 1459.3,875.9 1459.9,864.7 1460.5,853.8 1461.1,843.5 1461.7,833.9 1462.3,824.9 1462.9,816.7 1463.5,809.4 1464.1,802.8 1464.7,797.2 1465.3,792.4 1465.9,788.4 1466.5,785.3 1467.1,783.0 1467.7,781.5 1468.3,780.7 1468.6,780.6 1468.9,780.7 1469.5,781.5 1470.1,783.0 1470.7,785.3 1471.3,788.5 1471.9,792.4 1472.5,797.2 1473.1,802.9 1473.7,809.4 1474.3,816.7 1474.9,824.9 1475.5,833.9 1476.1,843.5 1476.7,853.8 1477.3,864.6 1477.9,875.8 1478.5,887.4 1479.1,899.1 1479.7,910.9"/>
<polyline stroke="#e51e10" stroke-dasharray="18 23" stroke-dashoffset="37.2" points="1479.7,910.9 1480.3,922.7 1480.9,934.3 1481.5,945.8 1482.1,957.0 1482.7,967.8 1483.3,978.3 1483.9,988.4 1484.5,998.0 1485.1,1007.2 1485.7,1015.9 1486.3,1024.2 1486.9,1031.9 1487.5,1039.0 1488.1,1045.5 1488.7,1051.4 1489.3,1056.6 1489.9,1061.0 1490.5,1064.6 1491.1,1067.3 1491.7,1069.2 1492.3,1070.1 1492.6,1070.2 1492.9,1070.1 1493.5,1069.2 1494.1,1067.3 1494.7,1064.6 1495.3,1061.0 1496.0,1056.5 1496.6,1051.4 1497.2,1045.5 1497.8,1038.9 1498.4,1031.8 1499.0,1024.1 1499.6,1015.9 1500.2,1007.1 1500.8,997.9 1501.4,988.3 1502.0,978.2 1502.6,967.7 1503.2,956.8 1503.8,945.7 1504.4,934.2 1505.0,922.5 1505.6,910.8"/>
<polyline stroke="#e51e10" stroke-dasharray="18 23" stroke-dashoffset="21.7" points="1505.6,910.8 1506.2,899.0 1506.8,887.3 1507.4,875.8 1508.0,864.5 1508.6,853.8 1509.2,843.5 1509.8,833.9 1510.4,824.9 1511.0,816.8 1511.6,809.4 1512.2,802.9 1512.8,797.3 1513.4,792.5 1514.0,788.5 1514.6,785.4 1515.2,783.1 1515.8,781.6 1516.4,780.8 1516.7,780.7 1517.0,780.8 1517.6,781.6 1518.2,783.1 1518.8,785.4 1519.4,788.5 1520.0,792.5 1520.6,797.3 1521.2,802.9 1521.8,809.4 1522.4,816.8 1523.0,824.9 1523.6,833.8 1524.2,843.5 1524.8,853.7 1525.4,864.5 1526.0,875.7 1526.6,887.2 1527.2,898.9 1527.8,910.7"/>
<polyline stroke="#e51e10" stroke-dasharray="18 23" stroke-dashoffset="29.7" points="1527.8,910.7 1528.4,922.4 1529.0,934.1 1529.6,945.5 1530.2,956.7 1530.8,967.5 1531.4,978.0 1532.0,988.0 1532.6,997.7 1533.2,1006.9 1533.8,1015.6 1534.4,1023.8 1535.0,1031.5 1535.6,1038.7 1536.2,1045.2 1536.8,1051.1 1537.4,1056.3 1538.0,1060.7 1538.6,1064.4 1539.2,1067.1 1539.8,1069.0 1540.4,1069.9 1540.7,1070.0 1541.0,1069.9 1541.6,1069.0 1542.2,1067.1 1542.8,1064.3 1543.4,1060.7 1544.0,1056.3 1544.6,1051.1 1545.2,1045.2 1545.8,1038.6 1546.4,1031.5 1547.0,1023.7 1547.6,1015.5 1548.2,1006.8 1548.8,997.6 1549.4,987.9 1550.0,977.8 1550.6,967.4 1551.2,956.5 1551.8,945.4 1552.4,933.9 1553.0,922.3 1553.6,910.5"/>
<polyline stroke="#e51e10" stroke-dasharray="18 23" stroke-dashoffset="13.3" points="1553.6,910.5 1554.2,898.8 1554.8,887.1 1555.4,875.6 1556.0,864.4 1556.6,853.7 1557.2,843.4 1557.8,833.8 1558.4,824.9 1559.0,816.8 1559.6,809.4 1560.2,802.9 1560.8,797.3 1561.4,792.5 1562.0,788.6 1562.6,785.5 1563.2,783.2 1563.8,781.6 1564.4,780.9 1564.7,780.8 1565.0,780.9 1565.6,781.6 1566.2,783.2 1566.8,785.5 1567.4,788.6 1568.0,792.5 1568.6,797.3 1569.2,802.9 1569.8,809.4 1570.4,816.8 1571.0,824.9 1571.6,833.8 1572.2,843.4 1572.8,853.6 1573.4,864.4 1574.0,875.6 1574.6,887.0 1575.2,898.7 1575.8,910.4"/>
<polyline stroke="#e51e10" stroke-dasharray="18 23" stroke-dashoffset="19.6" points="1575.8,910.4 1576.4,922.2 1577.0,933.8 1577.6,945.2 1578.2,956.3 1578.8,967.2 1579.4,977.6 1580.0,987.7 1580.6,997.3 1581.2,1006.5 1581.8,1015.3 1582.4,1023.5 1583.0,1031.2 1583.6,1038.4 1584.2,1044.9 1584.8,1050.8 1585.4,1056.0 1586.0,1060.5 1586.6,1064.1 1587.2,1066.9 1587.8,1068.7 1588.4,1069.7 1588.7,1069.8 1589.0,1069.7 1589.6,1068.7 1590.2,1066.9 1590.8,1064.1 1591.4,1060.4 1592.0,1056.0 1592.6,1050.8 1593.2,1044.9 1593.8,1038.3 1594.4,1031.1 1595.0,1023.4 1595.6,1015.1 1596.2,1006.4 1596.8,997.2 1597.4,987.5 1598.0,977.5 1598.6,967.0 1599.2,956.2 1599.8,945.0 1600.4,933.6 1601.0,922.0 1601.6,910.3"/>
<polyline stroke="#e51e10" stroke-dasharray="18 23" stroke-dashoffset="2.0" points="1601.6,910.3 1602.2,898.6 1602.8,886.9 1603.4,875.5 1604.0,864.3 1604.6,853.6 1605.2,843.4 1605.8,833.8 1606.4,824.9 1607.0,816.8 1607.6,809.4 1608.2,803.0 1608.8,797.3 1609.4,792.6 1610.0,788.6 1610.6,785.5 1611.2,783.2 1611.8,781.7 1612.4,780.9 1612.7,780.9 1613.0,780.9 1613.6,781.7 1614.2,783.2 1614.8,785.5 1615.4,788.6 1616.0,792.6 1616.6,797.3 1617.2,803.0 1617.8,809.4 1618.4,816.8 1619.0,824.9 1619.6,833.8 1620.2,843.3 1620.8,853.5 1621.4,864.3 1622.0,875.4 1622.6,886.8 1623.2,898.5 1623.8,910.2"/>
<polyline stroke="#e51e10" stroke-dasharray="18 23" stroke-dashoffset="6.7" points="1623.8,910.2 1624.4,921.9 1625.0,933.5 1625.6,944.9 1626.2,956.0 1626.8,966.8 1627.4,977.3 1628.0,987.3 1628.6,996.9 1629.2,1006.1 1629.8,1014.9 1630.4,1023.1 1631.0,1030.9 1631.6,1038.0 1632.2,1044.6 1632.8,1050.5 1633.4,1055.7 1634.0,1060.2 1634.6,1063.8 1635.2,1066.6 1635.8,1068.5 1636.4,1069.4 1636.7,1069.6 1637.0,1069.4 1637.6,1068.5 1638.2,1066.6 1638.8,1063.8 1639.4,1060.2 1640.0,1055.7 1640.6,1050.5 1641.2,1044.5 1641.8,1038.0 1642.4,1030.8 1643.0,1023.0 1643.6,1014.8 1644.2,1006.0 1644.8,996.8 1645.4,987.2 1646.0,977.1 1646.6,966.7 1647.2,955.8 1647.8,944.7 1648.4,933.3 1649.0,921.7 1649.6,910.0"/>
<polyline stroke="#e51e10" stroke-dasharray="18 23" stroke-dashoffset="32.2" points="1649.6,910.0 1650.2,898.3 1650.8,886.7 1651.4,875.3 1652.0,864.2 1652.6,853.5 1653.2,843.3 1653.8,833.7 1654.4,824.9 1655.0,816.7 1655.6,809.4 1656.2,803.0 1656.8,797.4 1657.4,792.6 1658.0,788.7 1658.6,785.6 1659.2,783.3 1659.8,781.8 1660.4,781.0 1660.7,780.9 1661.0,781.0 1661.6,781.8 1662.2,783.3 1662.8,785.6 1663.4,788.7 1664.0,792.6 1664.6,797.4 1665.2,803.0 1665.8,809.4 1666.4,816.7 1667.0,824.8 1667.6,833.7 1668.2,843.3 1668.8,853.4 1669.4,864.1 1670.0,875.2 1670.6,886.7 1671.2,898.2 1671.8,909.9"/>
<polyline stroke="#e51e10" stroke-dasharray="18 23" stroke-dashoffset="38.1" points="1671.8,909.9 1672.4,921.6 1673.0,933.2 1673.6,944.5 1674.2,955.6 1674.8,966.4 1675.4,976.9 1676.0,986.9 1676.6,996.5 1677.2,1005.7 1677.8,1014.5 1678.4,1022.7 1679.0,1030.5 1679.7,1037.7 1680.3,1044.3 1680.9,1050.2 1681.5,1055.4 1682.1,1059.9 1682.7,1063.6 1683.3,1066.4 1683.9,1068.2 1684.5,1069.2 1684.8,1069.3 1685.1,1069.2 1685.7,1068.2 1686.3,1066.3 1686.9,1063.5 1687.5,1059.9 1688.1,1055.4 1688.7,1050.2 1689.3,1044.2 1689.9,1037.6 1690.5,1030.4 1691.1,1022.6 1691.7,1014.4 1692.3,1005.6 1692.9,996.4 1693.5,986.8 1694.1,976.7 1694.7,966.3 1695.3,955.5 1695.9,944.4 1696.5,933.0 1697.1,921.5 1697.7,909.8"/>
<polyline stroke="#e51e10" stroke-dasharray="18 23" stroke-dashoffset="20.4" points="1697.7,909.8 1698.3,898.1 1698.9,886.5 1699.5,875.1 1700.1,864.1 1700.7,853.4 1701.3,843.2 1701.9,833.7 1702.5,824.8 1703.1,816.7 1703.7,809.4 1704.3,803.0 1704.9,797.4 1705.5,792.6 1706.1,788.7 1706.7,785.6 1707.3,783.3 1707.9,781.8 1708.5,781.0 1708.8,780.9 1709.1,781.0 1709.7,781.8 1710.3,783.3 1710.9,785.6 1711.5,788.7 1712.1,792.6 1712.7,797.4 1713.3,803.0 1713.9,809.4 1714.5,816.7 1715.1,824.8 1715.7,833.7 1716.3,843.2 1716.9,853.3 1717.5,864.0 1718.1,875.1 1718.7,886.5 1719.3,898.0 1719.9,909.7"/>
<polyline stroke="#e51e10" stroke-dasharray="18 23" stroke-dashoffset="23.7" points="1719.9,909.7 1720.5,921.3 1721.1,932.8 1721.7,944.2 1722.3,955.3 1722.9,966.0 1723.5,976.5 1724.1,986.5 1724.7,996.1 1725.3,1005.3 1725.9,1014.1 1726.5,1022.4 1727.1,1030.1 1727.7,1037.3 1728.3,1043.9 1728.9,1049.9 1729.5,1055.1 1730.1,1059.6 1730.7,1063.3 1731.3,1066.1 1731.9,1068.0 1732.5,1068.9 1732.8,1069.0 1733.1,1068.9 1733.7,1068.0 1734.3,1066.1 1734.9,1063.3 1735.5,1059.6 1736.1,1055.1 1736.7,1049.8 1737.3,1043.9 1737.9,1037.2 1738.5,1030.0 1739.1,1022.3 1739.7,1014.0 1740.3,1005.2 1740.9,996.0 1741.5,986.4 1742.1,976.3 1742.7,965.9 1743.3,955.1 1743.9,944.0 1744.5,932.7 1745.1,921.2 1745.7,909.5"/>
<polyline stroke="#e51e10" stroke-dasharray="18 23" stroke-dashoffset="4.5" points="1745.7,909.5 1746.3,897.9 1746.9,886.3 1747.5,875.0 1748.1,863.9 1748.7,853.3 1749.3,843.1 1749.9,833.6 1750.5,824.8 1751.1,816.7 1751.7,809.4 1752.3,803.0 1752.9,797.4 1753.5,792.6 1754.1,788.7 1754.7,785.6 1755.3,783.3 1755.9,781.8 1756.5,781.1 1756.8,781.0 1757.1,781.1 1757.7,781.8 1758.3,783.3 1758.9,785.6 1759.5,788.7 1760.1,792.7 1760.7,797.4 1761.3,803.0 1761.9,809.4 1762.5,816.7 1763.1,824.8 1763.7,833.6 1764.3,843.1 1764.9,853.2 1765.5,863.9 1766.1,874.9 1766.7,886.2 1767.3,897.8 1767.9,909.4"/>
<polyline stroke="#e51e10" stroke-dasharray="18 23" stroke-dashoffset="5.6" points="1767.9,909.4 1768.5,921.0 1769.1,932.5 1769.7,943.8 1770.3,954.9 1770.9,965.7 1771.5,976.1 1772.1,986.1 1772.7,995.7 1773.3,1004.9 1773.9,1013.7 1774.5,1022.0 1775.1,1029.7 1775.7,1036.9 1776.3,1043.6 1776.9,1049.5 1777.5,1054.8 1778.1,1059.3 1778.7,1063.0 1779.3,1065.8 1779.9,1067.7 1780.5,1068.7 1780.8,1068.8 1781.1,1068.7 1781.7,1067.7 1782.3,1065.8 1782.9,1063.0 1783.5,1059.3 1784.1,1054.8 1784.7,1049.5 1785.3,1043.5 1785.9,1036.9 1786.5,1029.6 1787.1,1021.8 1787.7,1013.6 1788.3,1004.8 1788.9,995.6 1789.5,985.9 1790.1,975.9 1790.7,965.5 1791.3,954.7 1791.9,943.7 1792.5,932.3 1793.1,920.8 1793.7,909.2"/>
<polyline stroke="#e51e10" stroke-dasharray="18 23" stroke-dashoffset="28.3" points="1793.7,909.2 1794.3,897.6 1794.9,886.1 1795.5,874.8 1796.1,863.8 1796.7,853.1 1797.3,843.0 1797.9,833.5 1798.5,824.7 1799.1,816.7 1799.7,809.4 1800.3,803.0 1800.9,797.4 1801.5,792.7 1802.1,788.8 1802.7,785.7 1803.3,783.4 1803.9,781.9 1804.5,781.1 1804.8,781.0 1805.1,781.1 1805.7,781.9 1806.3,783.4 1806.9,785.7 1807.5,788.8 1808.1,792.7 1808.7,797.4 1809.3,803.0 1809.9,809.4 1810.5,816.7 1811.1,824.7 1811.7,833.5 1812.3,843.0 1812.9,853.1 1813.5,863.7 1814.1,874.7 1814.7,886.0 1815.3,897.5 1815.9,909.1"/>
<polyline stroke="#e51e10" stroke-dasharray="18 23" stroke-dashoffset="29.6" points="1815.9,909.1 1816.5,920.7 1817.1,932.2 1817.7,943.5 1818.3,954.5 1818.9,965.2 1819.5,975.6 1820.1,985.7 1820.7,995.3 1821.3,1004.5 1821.9,1013.3 1822.5,1021.5 1823.1,1029.3 1823.7,1036.6 1824.3,1043.2 1824.9,1049.2 1825.5,1054.5 1826.1,1059.0 1826.7,1062.7 1827.3,1065.5 1827.9,1067.4 1828.5,1068.4 1828.8,1068.5 1829.1,1068.4 1829.7,1067.4 1830.3,1065.5 1830.9,1062.7 1831.5,1059.0 1832.1,1054.4 1832.7,1049.1 1833.3,1043.1 1833.9,1036.5 1834.6,1029.2 1835.2,1021.4 1835.8,1013.1 1836.4,1004.4 1837.0,995.1 1837.6,985.5 1838.2,975.5 1838.8,965.1 1839.4,954.3 1840.0,943.3 1840.6,932.0 1841.2,920.5 1841.8,909.0"/>
<polyline stroke="#e51e10" stroke-dasharray="18 23" stroke-dashoffset="29.0" points="1841.8,909.0 1842.4,897.4 1843.0,885.9 1843.6,874.6 1844.2,863.6 1844.8,853.0 1845.4,842.9 1846.0,833.5 1846.6,824.7 1847.2,816.6 1847.8,809.4 1848.4,803.0 1849.0,797.4 1849.6,792.7 1850.2,788.8 1850.8,785.7 1851.4,783.4 1852.0,781.9 1852.6,781.1 1852.9,781.0 1853.2,781.1 1853.8,781.9 1854.4,783.4 1855.0,785.7 1855.6,788.8 1856.2,792.7 1856.8,797.4 1857.4,803.0 1858.0,809.4 1858.6,816.6 1859.2,824.7 1859.8,833.4 1860.4,842.9 1861.0,853.0 1861.6,863.5 1862.2,874.5 1862.8,885.8 1863.4,897.3 1864.0,908.8"/>
<polyline stroke="#e51e10" stroke-dasharray="18 23" stroke-dashoffset="6.6" points="1864.0,908.8 1864.6,920.4 1865.2,931.8 1865.8,943.1 1866.4,954.1 1867.0,964.8 1867.6,975.2 1868.2,985.2 1868.8,994.8 1869.4,1004.0 1870.0,1012.8 1870.6,1021.1 1871.2,1028.9 1871.8,1036.2 1872.4,1042.8 1873.0,1048.8 1873.6,1054.1 1874.2,1058.7 1874.8,1062.4 1875.4,1065.2 1876.0,1067.1 1876.6,1068.1 1876.9,1068.2 1877.2,1068.1 1877.8,1067.1 1878.4,1065.2 1879.0,1062.4 1879.6,1058.6 1880.2,1054.1 1880.8,1048.8 1881.4,1042.7 1882.0,1036.1 1882.6,1028.8 1883.2,1021.0 1883.8,1012.7 1884.4,1003.9 1885.0,994.7 1885.6,985.1 1886.2,975.0 1886.8,964.6 1887.4,953.9 1888.0,942.9 1888.6,931.6 1889.2,920.2 1889.8,908.7"/>
<polyline stroke="#e51e10" stroke-dasharray="18 23" stroke-dashoffset="6.1" points="1889.8,908.7 1890.4,897.1 1891.0,885.7 1891.6,874.4 1892.2,863.4 1892.8,852.9 1893.4,842.8 1894.0,833.4 1894.6,824.6 1895.2,816.6 1895.8,809.4 1896.4,803.0 1897.0,797.4 1897.6,792.7 1898.2,788.8 1898.8,785.7 1899.4,783.4 1900.0,781.9 1900.6,781.1 1900.9,781.1 1901.2,781.1 1901.8,781.9 1902.4,783.4 1903.0,785.7 1903.6,788.8 1904.2,792.7 1904.8,797.4 1905.4,803.0 1906.0,809.4 1906.6,816.6 1907.2,824.6 1907.8,833.4 1908.4,842.8 1909.0,852.8 1909.6,863.4 1910.2,874.3 1910.8,885.6 1911.4,897.0 1912.0,908.5"/>
<polyline stroke="#e51e10" stroke-dasharray="18 23" stroke-dashoffset="24.1" points="1912.0,908.5 1912.6,920.0 1913.2,931.5 1913.8,942.7 1914.4,953.7 1915.0,964.4 1915.6,974.8 1916.2,984.8 1916.8,994.4 1917.4,1003.6 1918.0,1012.4 1918.6,1020.7 1919.2,1028.5 1919.8,1035.8 1920.4,1042.4 1921.0,1048.5 1921.6,1053.8 1922.2,1058.4 1922.8,1062.1 1923.4,1064.9 1924.0,1066.8 1924.6,1067.8 1924.9,1067.9 1925.2,1067.8 1925.8,1066.8 1926.4,1064.9 1927.0,1062.1 1927.6,1058.3 1928.2,1053.7 1928.8,1048.4 1929.4,1042.4 1930.0,1035.7 1930.6,1028.4 1931.2,1020.6 1931.8,1012.2 1932.4,1003.4 1933.0,994.2 1933.6,984.6 1934.2,974.6 1934.8,964.2 1935.4,953.5 1936.0,942.5 1936.6,931.3 1937.2,919.9 1937.8,908.4"/>
<polyline stroke="#e51e10" stroke-dasharray="18 23" stroke-dashoffset="22.2" points="1937.8,908.4 1938.4,896.9 1939.0,885.4 1939.6,874.2 1940.2,863.3 1940.8,852.7 1941.4,842.7 1942.0,833.3 1942.6,824.6 1943.2,816.6 1943.8,809.3 1944.4,803.0 1945.0,797.4 1945.6,792.7 1946.2,788.8 1946.8,785.7 1947.4,783.4 1948.0,781.9 1948.6,781.2 1948.9,781.1 1949.2,781.2 1949.8,781.9 1950.4,783.4 1951.0,785.7 1951.6,788.8 1952.2,792.7 1952.8,797.4 1953.4,803.0 1954.0,809.3 1954.6,816.6 1955.2,824.5 1955.8,833.3 1956.4,842.7 1957.0,852.7 1957.6,863.2 1958.2,874.1 1958.8,885.3 1959.4,896.7 1960.0,908.2"/>
<polyline stroke="#e51e10" stroke-dasharray="18 23" stroke-dashoffset="38.1" points="1960.0,908.2 1960.6,919.7 1961.2,931.1 1961.8,942.3 1962.4,953.3 1963.0,963.9 1963.6,974.3 1964.2,984.3 1964.8,993.9 1965.4,1003.1 1966.0,1011.9 1966.6,1020.2 1967.2,1028.1 1967.8,1035.3 1968.4,1042.0 1969.0,1048.1 1969.6,1053.4 1970.2,1058.0 1970.8,1061.8 1971.4,1064.6 1972.0,1066.6 1972.6,1067.5 1972.9,1067.7 1973.2,1067.5 1973.8,1066.5 1974.4,1064.6 1975.0,1061.7 1975.6,1058.0 1976.2,1053.4 1976.8,1048.0 1977.4,1042.0 1978.0,1035.3 1978.6,1028.0 1979.2,1020.1 1979.8,1011.8 1980.4,1003.0 1981.0,993.8 1981.6,984.1 1982.2,974.1 1982.8,963.8 1983.4,953.1 1984.0,942.1 1984.6,930.9 1985.2,919.5 1985.8,908.0"/>
<polyline stroke="#e51e10" stroke-dasharray="18 23" stroke-dashoffset="27.6" points="1985.8,908.0 1986.4,896.6 1987.0,885.2 1987.6,874.0 1988.2,863.1 1988.8,852.6 1989.4,842.6 1990.0,833.2 1990.6,824.5 1991.2,816.5 1991.8,809.3 1992.4,802.9 1993.0,797.4 1993.6,792.7 1994.2,788.8 1994.8,785.7 1995.4,783.4 1996.0,781.9 1996.6,781.2 1996.9,781.1 1997.2,781.2 1997.8,781.9 1998.4,783.4 1999.0,785.7 1999.6,788.8 2000.2,792.7 2000.8,797.4 2001.4,802.9 2002.0,809.3 2002.6,816.5 2003.2,824.5 2003.8,833.2 2004.4,842.6 2005.0,852.6 2005.6,863.0 2006.2,873.9 2006.8,885.1 2007.4,896.4 2008.0,907.9"/>
<polyline stroke="#e51e10" stroke-dasharray="18 23" stroke-dashoffset="34.1" points="2008.0,907.9 2008.6,919.3 2009.2,930.7 2009.8,941.9 2010.4,952.8 2011.0,963.5 2011.6,973.8 2012.2,983.8 2012.8,993.4 2013.4,1002.7 2014.0,1011.4 2014.6,1019.8 2015.2,1027.6 2015.8,1034.9 2016.4,1041.7 2017.0,1047.7 2017.6,1053.1 2018.3,1057.7 2018.9,1061.4 2019.5,1064.3 2020.1,1066.3 2020.7,1067.2 2021.0,1067.4 2021.3,1067.2 2021.9,1066.3 2022.5,1064.3 2023.1,1061.4 2023.7,1057.6 2024.3,1053.0 2024.9,1047.7 2025.5,1041.6 2026.1,1034.8 2026.7,1027.5 2027.3,1019.7 2027.9,1011.3 2028.5,1002.5 2029.1,993.3 2029.7,983.6 2030.3,973.6 2030.9,963.3 2031.5,952.6 2032.1,941.7 2032.7,930.5 2033.3,919.2 2033.9,907.7"/>
<polyline stroke="#e51e10" stroke-dasharray="18 23" stroke-dashoffset="29.9" points="2033.9,907.7 2034.5,896.3 2035.1,884.9 2035.7,873.8 2036.3,862.9 2036.9,852.5 2037.5,842.5 2038.1,833.1 2038.7,824.4 2039.3,816.5 2039.9,809.3 2040.5,802.9 2041.1,797.4 2041.7,792.7 2042.3,788.8 2042.9,785.7 2043.5,783.4 2044.1,781.9 2044.7,781.2 2045.0,781.1 2045.3,781.2 2045.9,781.9 2046.5,783.4 2047.1,785.7 2047.7,788.8 2048.3,792.7 2048.9,797.4 2049.5,802.9 2050.1,809.3 2050.7,816.5 2051.3,824.4 2051.9,833.1 2052.5,842.5 2053.1,852.4 2053.7,862.9 2054.3,873.7 2054.9,884.8 2055.5,896.2 2056.1,907.6"/>
<polyline stroke="#e51e10" stroke-dasharray="18 23" stroke-dashoffset="1.0" points="2056.1,907.6 2056.7,919.0 2057.3,930.3 2057.9,941.5 2058.5,952.4 2059.1,963.0 2059.7,973.4 2060.3,983.3 2060.9,992.9 2061.5,1002.2 2062.1,1011.0 2062.7,1019.3 2063.3,1027.2 2063.9,1034.5 2064.5,1041.2 2065.1,1047.3 2065.7,1052.7 2066.3,1057.4 2066.9,1061.1 2067.5,1064.0 2068.1,1066.0 2068.7,1067.0 2069.0,1067.1 2069.3,1066.9 2069.9,1066.0 2070.5,1064.0 2071.1,1061.1 2071.7,1057.3 2072.3,1052.7 2072.9,1047.3 2073.5,1041.2 2074.1,1034.4 2074.7,1027.1 2075.3,1019.2 2075.9,1010.8 2076.5,1002.0 2077.1,992.8 2077.7,983.2 2078.3,973.2 2078.9,962.8 2079.5,952.2 2080.1,941.3 2080.7,930.1 2081.3,918.8 2081.9,907.4"/>
<polyline stroke="#e51e10" stroke-dasharray="18 23" stroke-dashoffset="38.2" points="2081.9,907.4 2082.5,896.0 2083.1,884.7 2083.7,873.6 2084.3,862.7 2084.9,852.3 2085.5,842.4 2086.1,833.0 2086.7,824.4 2087.3,816.4 2087.9,809.3 2088.5,802.9 2089.1,797.4 2089.7,792.7 2090.3,788.8 2090.9,785.7 2091.5,783.5 2092.1,781.9 2092.7,781.2 2093.0,781.1 2093.3,781.2 2093.9,781.9 2094.5,783.5 2095.1,785.7 2095.7,788.8 2096.3,792.7 2096.9,797.4 2097.5,802.9 2098.1,809.3 2098.7,816.4 2099.3,824.3 2099.9,833.0 2100.5,842.3 2101.1,852.3 2101.7,862.7 2102.3,873.5 2102.9,884.6 2103.5,895.9 2104.1,907.2"/>
<polyline stroke="#e51e10" stroke-dasharray="18 23" stroke-dashoffset="8.9" points="2104.1,907.2 2104.7,918.6 2105.3,929.9 2105.9,941.0 2106.5,951.9 2107.1,962.6 2107.7,972.9 2108.3,982.8 2108.9,992.5 2109.5,1001.7 2110.1,1010.5 2110.7,1018.8 2111.3,1026.7 2111.9,1034.1 2112.5,1040.8 2113.1,1047.0 2113.7,1052.4 2114.3,1057.0 2114.9,1060.8 2115.5,1063.7 2116.1,1065.7 2116.7,1066.7 2117.0,1066.8 2117.3,1066.7 2117.9,1065.7 2118.5,1063.7 2119.1,1060.8 2119.7,1057.0 2120.3,1052.3 2120.9,1046.9 2121.5,1040.8 2122.1,1034.0 2122.7,1026.6 2123.3,1018.7 2123.9,1010.3 2124.5,1001.5 2125.1,992.3 2125.7,982.7 2126.3,972.7 2126.9,962.4 2127.5,951.7 2128.1,940.8 2128.7,929.7 2129.3,918.4 2129.9,907.1"/>
<polyline stroke="#e51e10" stroke-dasharray="18 23" stroke-dashoffset="3.2" points="2129.9,907.1 2130.5,895.7 2131.1,884.4 2131.7,873.3 2132.3,862.6 2132.9,852.2 2133.5,842.3 2134.1,832.9 2134.7,824.3 2135.3,816.4 2135.9,809.2 2136.5,802.9 2137.1,797.4 2137.7,792.7 2138.3,788.8 2138.9,785.7 2139.5,783.5 2140.1,781.9 2140.7,781.2 2141.0,781.1 2141.3,781.2 2141.9,782.0 2142.5,783.5 2143.1,785.7 2143.7,788.8 2144.3,792.7 2144.9,797.4 2145.5,802.9 2146.1,809.2 2146.7,816.4 2147.3,824.3 2147.9,832.9 2148.5,842.2 2149.1,852.1 2149.7,862.5 2150.3,873.3 2150.9,884.3 2151.5,895.6 2152.1,906.9"/>
<polyline stroke="#e51e10" stroke-dasharray="18 23" stroke-dashoffset="12.4" points="2152.1,906.9 2152.7,918.2 2153.3,929.5 2153.9,940.6 2154.5,951.5 2155.1,962.1 2155.7,972.4 2156.3,982.3 2156.9,991.9 2157.5,1001.2 2158.1,1010.0 2158.7,1018.4 2159.3,1026.3 2159.9,1033.6 2160.5,1040.4 2161.1,1046.6 2161.7,1052.0 2162.3,1056.7 2162.9,1060.5 2163.5,1063.4 2164.1,1065.4 2164.7,1066.4 2165.0,1066.5 2165.3,1066.4 2165.9,1065.4 2166.5,1063.4 2167.1,1060.5 2167.7,1056.6 2168.3,1052.0 2168.9,1046.5 2169.5,1040.3 2170.1,1033.5 2170.7,1026.2 2171.3,1018.2 2171.9,1009.8 2172.5,1001.0 2173.2,991.8 2173.8,982.1 2174.4,972.2 2175.0,961.9 2175.6,951.3 2176.2,940.4 2176.8,929.3 2177.4,918.0 2178.0,906.7"/>
<polyline stroke="#e51e10" stroke-dasharray="18 23" stroke-dashoffset="40.6" points="2178.0,906.7 2178.6,895.4 2179.2,884.2 2179.8,873.1 2180.4,862.4 2181.0,852.0 2181.6,842.1 2182.2,832.8 2182.8,824.2 2183.4,816.3 2184.0,809.2 2184.6,802.9 2185.2,797.4 2185.8,792.7 2186.4,788.8 2187.0,785.7 2187.6,783.5 2188.2,782.0 2188.8,781.2 2189.1,781.1 2189.4,781.2 2190.0,782.0 2190.6,783.5 2191.2,785.7 2191.8,788.8 2192.4,792.7 2193.0,797.4 2193.6,802.9 2194.1,809.2 2194.7,816.3 2195.3,824.2 2195.9,832.8 2196.5,842.1 2197.1,852.0 2197.7,862.3 2198.3,873.0 2198.9,884.0 2199.5,895.3 2200.1,906.5"/>
<polyline stroke="#e51e10" stroke-dasharray="18 23" stroke-dashoffset="0.8" points="2200.1,906.5 2200.7,917.9 2201.3,929.1 2202.0,940.2 2202.6,951.0 2203.2,961.6 2203.8,971.9 2204.4,981.9 2205.0,991.5 2205.6,1000.7 2206.2,1009.6 2206.8,1018.0 2207.4,1025.9 2208.0,1033.3 2208.6,1040.1 2209.2,1046.2 2209.8,1051.7 2210.4,1056.4 2211.0,1060.2 2211.6,1063.1 2212.2,1065.1 2212.8,1066.1 2213.1,1066.2 2213.4,1066.1 2214.0,1065.0 2214.6,1063.0 2215.2,1060.1 2215.8,1056.2 2216.4,1051.5 2217.0,1046.0 2217.6,1039.8 2218.2,1032.9 2218.8,1025.5 2219.4,1017.5 2220.0,1009.1 2220.6,1000.2 2221.2,991.0 2221.8,981.3 2222.4,971.4 2223.0,961.0"/>
</g>
<rect x="388" y="55" width="1835" height="1323" fill="none" stroke="#000" stroke-width="4" shape-rendering="crispEdges"/>
<g font-size="80">
<text transform="translate(341,81.3) scale(1,1.033)" text-anchor="end">1</text>
<text transform="translate(341,270.3) scale(1,1.033)" text-anchor="end">0.8</text>
<text transform="translate(341,459.3) scale(1,1.033)" text-anchor="end">0.6</text>
<text transform="translate(341,648.3) scale(1,1.033)" text-anchor="end">0.4</text>
<text transform="translate(341,837.3) scale(1,1.033)" text-anchor="end">0.2</text>
<text transform="translate(341,1026.3) scale(1,1.033)" text-anchor="end">0</text>
<text transform="translate(341,1215.3) scale(1,1.033)" text-anchor="end"><tspan dy="8.9">−</tspan><tspan dy="-8.9">0.2</tspan></text>
<text transform="translate(341,1404.3) scale(1,1.033)" text-anchor="end"><tspan dy="8.9">−</tspan><tspan dy="-8.9">0.4</tspan></text>
<text transform="translate(398.7,1483) scale(1,1.033)" text-anchor="middle">0</text>
<text transform="translate(704.533,1483) scale(1,1.033)" text-anchor="middle">50</text>
<text transform="translate(1010.37,1483) scale(1,1.033)" text-anchor="middle">100</text>
<text transform="translate(1316.2,1483) scale(1,1.033)" text-anchor="middle">150</text>
<text transform="translate(1622.03,1483) scale(1,1.033)" text-anchor="middle">200</text>
<text transform="translate(1927.87,1483) scale(1,1.033)" text-anchor="middle">250</text>
<text transform="translate(2233.7,1483) scale(1,1.033)" text-anchor="middle">300</text>
<text x="1305" y="1602" text-anchor="middle">t [ps]</text>
</g>
<g font-size="75.5">
<text transform="translate(1930.5,1138.8) scale(1,1.05)" text-anchor="end">DQ1</text>
<text transform="translate(1930.5,1214) scale(1,1.05)" text-anchor="end">JQF1</text>
<text x="1930.5" y="1289.6" text-anchor="end"><tspan font-size="79.275" textLength="176.22" lengthAdjust="spacingAndGlyphs">DQ1,</tspan> wd</text>
<text x="1930.5" y="1364.7" text-anchor="end"><tspan font-size="79.275" textLength="163.57" lengthAdjust="spacingAndGlyphs">JQF,</tspan> wd</text>
</g>
<g fill="none" stroke-width="9" shape-rendering="crispEdges">
<line x1="1975" y1="1113.5" x2="2178" y2="1113.5" stroke="#000"/>
<line x1="1975" y1="1189.5" x2="2178" y2="1189.5" stroke="#e51e10"/>
<line x1="1975" y1="1264.5" x2="2178" y2="1264.5" stroke="#000" stroke-dasharray="18 23"/>
<line x1="1975" y1="1340.5" x2="2178" y2="1340.5" stroke="#e51e10" stroke-dasharray="18 23"/>
</g>
<g transform="rotate(-90)">
<text font-size="80"><tspan x="-786.9" y="103">|</tspan><tspan x="-766.65" y="103.1" font-size="75.3" style="font-family:'DejaVu Serif','Liberation Serif',serif">α</tspan><tspan x="-715.8" y="127.7" font-size="64">j</tspan><tspan x="-702.8" y="103">|</tspan><tspan x="-683.2" y="64" font-size="65.92" textLength="35.59" lengthAdjust="spacingAndGlyphs">2</tspan></text>
</g>
</svg></body></html>
